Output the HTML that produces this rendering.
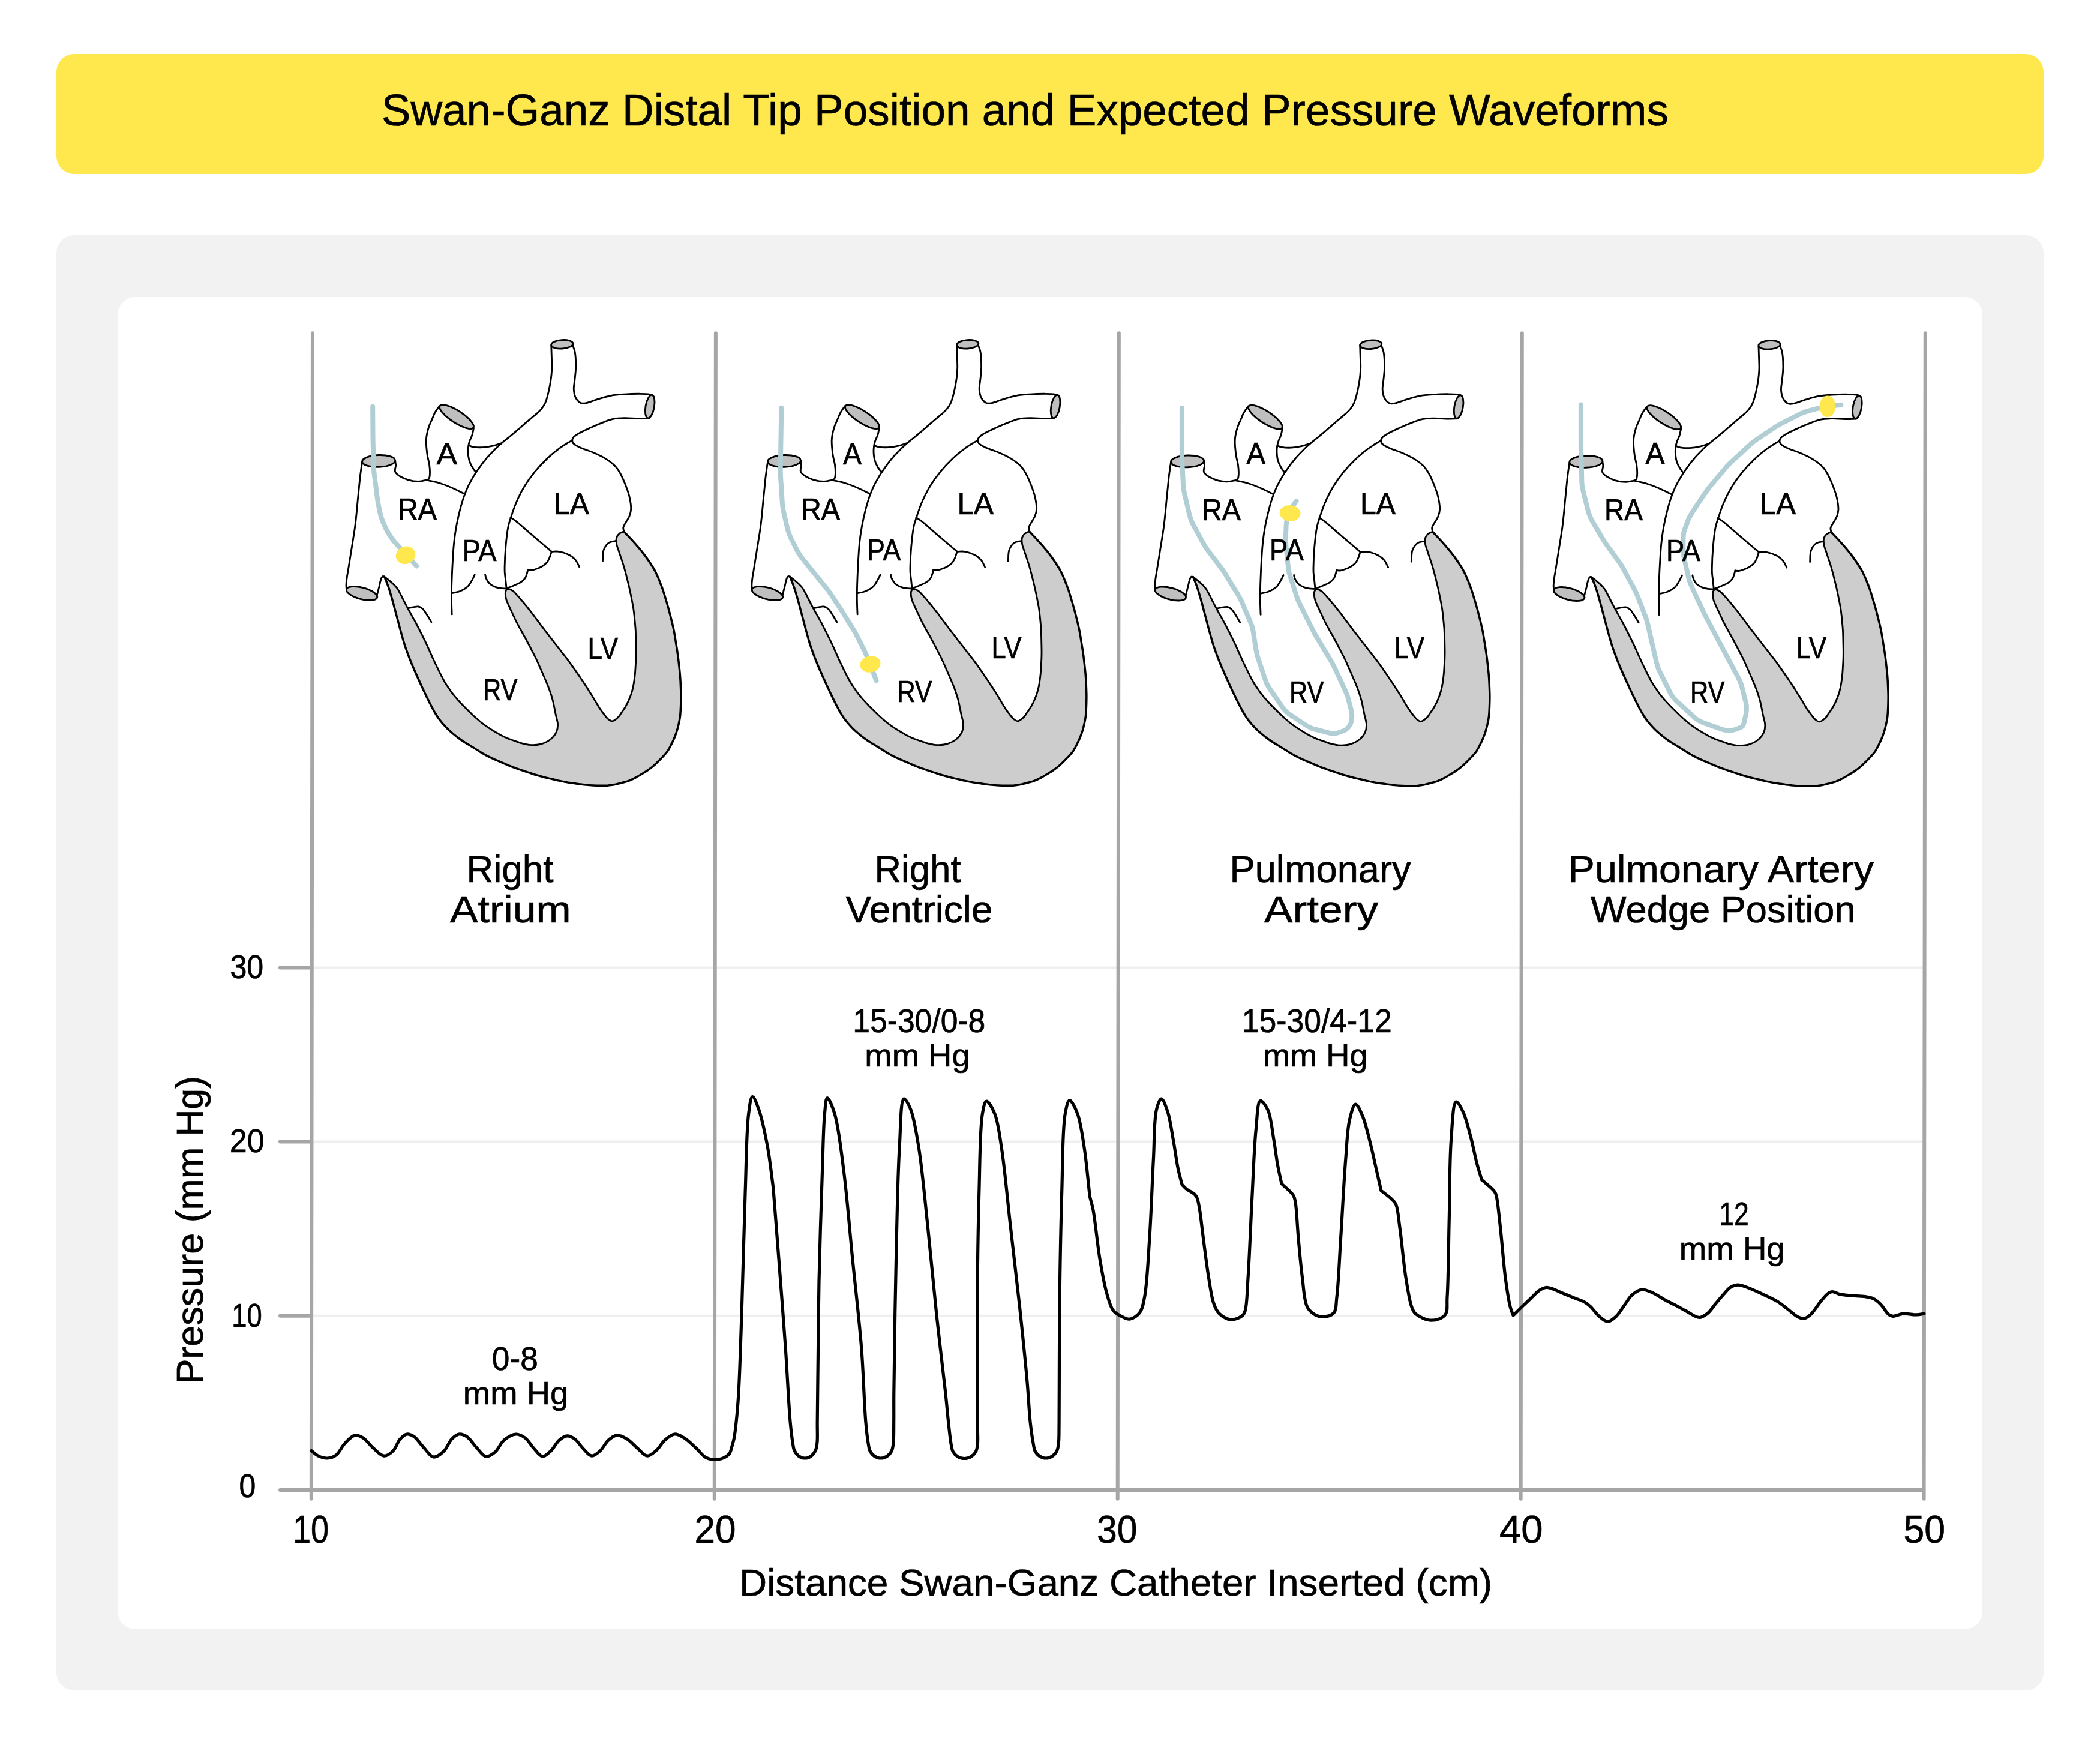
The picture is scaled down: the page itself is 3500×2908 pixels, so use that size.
<!DOCTYPE html>
<html><head><meta charset="utf-8"><title>Swan-Ganz Distal Tip Position and Expected Pressure Waveforms</title>
<style>html,body{margin:0;padding:0;background:#fff;}body{width:3500px;height:2908px;overflow:hidden;}svg{display:block;will-change:transform;}svg text{font-family:'Liberation Sans', 'DejaVu Sans', Arial, sans-serif;fill:#000;stroke:#000;stroke-width:0.7px;}.hl{fill:none;stroke:#000;stroke-width:2.85;stroke-linecap:round;stroke-linejoin:round;}.ho{fill:none;stroke:#000;stroke-width:3.5;stroke-linecap:round;stroke-linejoin:round;}.he{fill:#bfbfbf;stroke:#000;stroke-width:2.85;}.cath{fill:none;stroke:#b0ced4;stroke-width:8;stroke-linecap:round;stroke-linejoin:round;}</style></head><body>
<svg xmlns="http://www.w3.org/2000/svg" width="3500" height="2908" viewBox="0 0 3500 2908">
<rect x="0" y="0" width="3500" height="2908" fill="#ffffff"/>
<rect x="94" y="90" width="3312" height="200" rx="30" ry="30" fill="#ffe84d"/>
<rect x="94" y="392" width="3312" height="2425" rx="30" ry="30" fill="#f2f2f2"/>
<rect x="196" y="495" width="3108" height="2220" rx="30" ry="30" fill="#ffffff"/>
<line x1="518.8" y1="2192.8" x2="3206.6" y2="2192.8" stroke="#efefef" stroke-width="4"/>
<line x1="518.8" y1="1902.6" x2="3206.6" y2="1902.6" stroke="#efefef" stroke-width="4"/>
<line x1="518.8" y1="1612.4" x2="3206.6" y2="1612.4" stroke="#efefef" stroke-width="4"/>
<g transform="translate(0.0 0.0)">
<path d="M640.60 961.20 C642.13 964.91 643.77 968.58 645.20 972.33 C646.63 976.07 647.95 979.85 649.18 983.67 C650.40 987.49 651.46 991.36 652.56 995.22 C653.66 999.08 654.72 1002.95 655.78 1006.83 C656.84 1010.70 657.87 1014.58 658.91 1018.46 C659.94 1022.33 660.97 1026.21 662.00 1030.09 C663.03 1033.97 664.05 1037.86 665.08 1041.74 C666.12 1045.62 667.14 1049.50 668.21 1053.37 C669.28 1057.24 670.36 1061.10 671.49 1064.95 C672.62 1068.80 673.74 1072.66 674.99 1076.47 C676.24 1080.28 677.62 1084.05 678.99 1087.82 C680.37 1091.59 681.78 1095.35 683.25 1099.09 C684.71 1102.82 686.23 1106.54 687.78 1110.24 C689.34 1113.94 690.98 1117.60 692.60 1121.28 C694.22 1124.95 695.84 1128.62 697.50 1132.28 C699.15 1135.94 700.84 1139.58 702.53 1143.22 C704.22 1146.86 705.91 1150.50 707.63 1154.13 C709.36 1157.75 711.11 1161.37 712.88 1164.97 C714.66 1168.57 716.42 1172.17 718.28 1175.73 C720.13 1179.29 722.00 1182.84 724.02 1186.31 C726.03 1189.77 728.08 1193.23 730.37 1196.50 C732.66 1199.77 735.18 1202.90 737.78 1205.93 C740.38 1208.97 743.12 1211.91 745.98 1214.72 C748.83 1217.52 751.85 1220.17 754.90 1222.76 C757.96 1225.34 761.10 1227.86 764.33 1230.23 C767.56 1232.60 770.92 1234.78 774.28 1236.96 C777.65 1239.14 781.12 1241.17 784.53 1243.28 C787.95 1245.39 791.36 1247.51 794.77 1249.62 C798.19 1251.73 801.55 1253.93 805.02 1255.93 C808.49 1257.93 812.00 1259.87 815.59 1261.64 C819.18 1263.42 822.90 1264.95 826.57 1266.57 C830.24 1268.19 833.93 1269.78 837.61 1271.36 C841.30 1272.95 844.97 1274.59 848.69 1276.09 C852.40 1277.60 856.15 1279.04 859.92 1280.40 C863.69 1281.77 867.51 1283.00 871.32 1284.28 C875.12 1285.57 878.93 1286.85 882.74 1288.10 C886.55 1289.35 890.35 1290.65 894.20 1291.79 C898.04 1292.93 901.92 1293.96 905.81 1294.96 C909.69 1295.96 913.61 1296.86 917.51 1297.79 C921.41 1298.73 925.31 1299.70 929.22 1300.59 C933.14 1301.49 937.04 1302.41 940.98 1303.15 C944.92 1303.89 948.90 1304.45 952.87 1305.03 C956.84 1305.61 960.82 1306.12 964.80 1306.64 C968.78 1307.15 972.76 1307.74 976.75 1308.13 C980.73 1308.53 984.73 1308.81 988.74 1309.00 C992.74 1309.19 996.76 1309.24 1000.77 1309.26 C1004.78 1309.28 1008.80 1309.44 1012.78 1309.15 C1016.75 1308.85 1020.70 1308.23 1024.61 1307.49 C1028.54 1306.74 1032.44 1305.70 1036.31 1304.69 C1040.18 1303.68 1044.12 1302.80 1047.85 1301.42 C1051.57 1300.04 1055.14 1298.27 1058.66 1296.42 C1062.20 1294.57 1065.58 1292.37 1069.01 1290.29 C1072.44 1288.21 1075.94 1286.22 1079.24 1283.96 C1082.53 1281.71 1085.75 1279.34 1088.78 1276.76 C1091.82 1274.17 1094.60 1271.25 1097.45 1268.44 C1100.31 1265.63 1103.24 1262.85 1105.91 1259.88 C1108.56 1256.92 1111.22 1253.94 1113.42 1250.66 C1115.62 1247.37 1117.33 1243.72 1119.12 1240.16 C1120.91 1236.58 1122.64 1232.94 1124.15 1229.24 C1125.67 1225.54 1127.03 1221.77 1128.21 1217.96 C1129.39 1214.13 1130.36 1210.23 1131.23 1206.32 C1132.11 1202.42 1132.93 1198.50 1133.45 1194.54 C1133.97 1190.58 1134.12 1186.56 1134.34 1182.56 C1134.57 1178.56 1134.72 1174.54 1134.82 1170.53 C1134.92 1166.52 1134.99 1162.51 1134.95 1158.50 C1134.91 1154.49 1134.72 1150.47 1134.57 1146.46 C1134.42 1142.45 1134.27 1138.44 1134.04 1134.43 C1133.81 1130.43 1133.53 1126.43 1133.17 1122.43 C1132.82 1118.43 1132.35 1114.44 1131.92 1110.45 C1131.49 1106.46 1131.06 1102.47 1130.57 1098.49 C1130.08 1094.50 1129.54 1090.53 1128.97 1086.55 C1128.39 1082.58 1127.73 1078.62 1127.10 1074.66 C1126.47 1070.69 1125.85 1066.73 1125.19 1062.77 C1124.52 1058.81 1123.90 1054.84 1123.11 1050.91 C1122.33 1046.98 1121.42 1043.07 1120.49 1039.16 C1119.57 1035.26 1118.58 1031.37 1117.59 1027.48 C1116.60 1023.59 1115.63 1019.69 1114.57 1015.82 C1113.52 1011.95 1112.39 1008.10 1111.26 1004.24 C1110.13 1000.39 1108.99 996.54 1107.81 992.71 C1106.62 988.87 1105.46 985.03 1104.14 981.25 C1102.81 977.46 1101.34 973.73 1099.85 970.00 C1098.36 966.28 1096.89 962.53 1095.22 958.89 C1093.56 955.26 1091.81 951.65 1089.84 948.18 C1087.87 944.70 1085.59 941.39 1083.38 938.04 C1081.17 934.70 1078.94 931.35 1076.59 928.11 C1074.23 924.87 1071.75 921.71 1069.24 918.58 C1066.73 915.46 1064.14 912.39 1061.52 909.35 C1058.89 906.32 1056.22 903.33 1053.50 900.37 C1050.79 897.41 1047.72 894.23 1045.24 891.61 C1043.21 889.48 1041.55 887.74 1039.70 885.80 L1039.70 885.80 C1037.10 887.03 1033.94 887.72 1031.90 889.50 C1029.95 891.20 1028.36 893.53 1027.60 896.10 C1026.73 899.04 1027.05 902.76 1027.60 906.40 C1028.26 910.71 1030.49 915.82 1031.90 920.20 C1033.19 924.19 1034.45 927.80 1035.70 931.61 C1036.96 935.42 1038.27 939.21 1039.42 943.05 C1040.58 946.89 1041.62 950.76 1042.65 954.63 C1043.68 958.51 1044.62 962.40 1045.59 966.30 C1046.55 970.19 1047.55 974.07 1048.45 977.98 C1049.35 981.88 1050.17 985.81 1050.99 989.73 C1051.80 993.66 1052.59 997.59 1053.36 1001.53 C1054.12 1005.46 1054.93 1009.39 1055.55 1013.35 C1056.16 1017.31 1056.59 1021.29 1057.04 1025.27 C1057.48 1029.26 1057.86 1033.25 1058.22 1037.25 C1058.59 1041.24 1058.99 1045.23 1059.23 1049.23 C1059.46 1053.23 1059.54 1057.24 1059.65 1061.24 C1059.76 1065.25 1059.83 1069.26 1059.91 1073.27 C1059.98 1077.28 1060.12 1081.29 1060.13 1085.30 C1060.13 1089.30 1060.08 1093.31 1059.94 1097.32 C1059.80 1101.32 1059.52 1105.32 1059.28 1109.33 C1059.04 1113.33 1058.86 1117.34 1058.51 1121.33 C1058.16 1125.32 1057.72 1129.30 1057.16 1133.26 C1056.60 1137.23 1056.00 1141.21 1055.14 1145.11 C1054.29 1149.00 1053.29 1152.88 1052.03 1156.66 C1050.77 1160.44 1049.22 1164.17 1047.56 1167.80 C1045.91 1171.43 1044.15 1175.02 1042.11 1178.44 C1040.07 1181.87 1037.40 1185.41 1035.34 1188.36 C1033.66 1190.77 1032.80 1192.87 1030.70 1194.90 C1028.09 1197.43 1023.37 1201.56 1020.30 1201.80 C1018.05 1201.98 1016.45 1200.76 1014.20 1199.00 C1009.91 1195.63 1002.83 1185.34 999.00 1179.80 C996.30 1175.90 994.83 1172.84 992.74 1169.37 C990.65 1165.90 988.58 1162.41 986.46 1158.96 C984.33 1155.51 982.18 1152.07 979.99 1148.66 C977.80 1145.25 975.55 1141.87 973.31 1138.50 C971.06 1135.12 968.81 1131.75 966.53 1128.40 C964.24 1125.05 961.94 1121.71 959.63 1118.38 C957.31 1115.05 955.01 1111.72 952.65 1108.42 C950.29 1105.13 947.92 1101.84 945.48 1098.60 C943.03 1095.37 940.50 1092.21 937.99 1089.02 C935.49 1085.83 932.96 1082.67 930.46 1079.47 C927.96 1076.28 925.48 1073.07 923.00 1069.86 C920.52 1066.65 918.05 1063.44 915.58 1060.23 C913.11 1057.01 910.63 1053.81 908.16 1050.59 C905.70 1047.36 903.25 1044.14 900.81 1040.90 C898.37 1037.66 895.96 1034.40 893.53 1031.15 C891.10 1027.91 888.68 1024.65 886.21 1021.44 C883.74 1018.23 881.24 1015.03 878.70 1011.88 C876.15 1008.72 873.56 1005.60 870.95 1002.51 C868.33 999.41 865.76 996.27 863.00 993.30 C860.24 990.33 857.12 986.68 854.40 984.70 C852.42 983.27 850.37 982.20 848.70 981.80 C847.52 981.52 846.43 981.32 845.50 981.80 C844.35 982.40 843.23 984.26 842.70 985.80 C842.12 987.48 842.25 989.49 842.40 991.60 C842.59 994.20 843.17 997.20 844.10 1000.20 C845.20 1003.75 847.26 1007.70 848.92 1011.42 C850.59 1015.13 852.36 1018.80 854.08 1022.48 C855.81 1026.17 857.49 1029.88 859.29 1033.53 C861.09 1037.18 862.98 1040.78 864.91 1044.36 C866.84 1047.95 868.88 1051.47 870.86 1055.03 C872.84 1058.58 874.85 1062.13 876.79 1065.71 C878.72 1069.29 880.60 1072.90 882.49 1076.51 C884.37 1080.12 886.25 1083.73 888.10 1087.35 C889.96 1090.98 891.85 1094.58 893.61 1098.25 C895.37 1101.92 897.02 1105.64 898.67 1109.36 C900.33 1113.08 901.93 1116.82 903.56 1120.55 C905.18 1124.29 906.84 1128.01 908.44 1131.75 C910.05 1135.49 911.70 1139.21 913.19 1142.99 C914.68 1146.78 916.07 1150.61 917.37 1154.46 C918.66 1158.31 919.92 1162.19 920.96 1166.11 C922.00 1170.04 922.76 1174.04 923.60 1178.02 C924.44 1182.01 925.11 1185.64 926.00 1190.00 C927.07 1195.24 929.50 1202.00 929.60 1207.30 C929.68 1211.77 929.23 1215.78 927.50 1219.70 C925.58 1224.07 922.08 1228.65 917.90 1232.00 C913.18 1235.78 906.13 1238.96 900.00 1240.50 C894.15 1241.97 887.53 1241.83 882.00 1241.40 C877.18 1241.02 872.84 1239.78 868.60 1238.60 C864.62 1237.49 861.03 1235.97 857.26 1234.63 C853.48 1233.30 849.65 1232.10 845.95 1230.58 C842.27 1229.06 838.64 1227.38 835.12 1225.53 C831.58 1223.67 828.20 1221.50 824.77 1219.44 C821.34 1217.38 817.87 1215.36 814.53 1213.15 C811.19 1210.95 807.90 1208.66 804.73 1206.23 C801.56 1203.79 798.53 1201.17 795.51 1198.54 C792.50 1195.91 789.57 1193.17 786.66 1190.42 C783.75 1187.67 780.89 1184.86 778.05 1182.04 C775.21 1179.22 772.37 1176.39 769.61 1173.49 C766.85 1170.59 764.12 1167.65 761.49 1164.63 C758.86 1161.62 756.25 1158.58 753.82 1155.41 C751.39 1152.23 749.15 1148.90 746.93 1145.58 C744.71 1142.25 742.50 1138.90 740.50 1135.44 C738.49 1131.98 736.73 1128.39 734.90 1124.82 C733.08 1121.26 731.32 1117.66 729.55 1114.06 C727.79 1110.46 726.02 1106.87 724.32 1103.25 C722.61 1099.62 720.98 1095.96 719.32 1092.32 C717.67 1088.67 716.04 1085.01 714.38 1081.36 C712.72 1077.71 711.08 1074.06 709.36 1070.44 C707.64 1066.83 705.84 1063.25 704.06 1059.66 C702.28 1056.07 700.49 1052.49 698.67 1048.92 C696.85 1045.35 695.04 1041.77 693.15 1038.24 C691.26 1034.71 689.27 1031.23 687.33 1027.73 C685.38 1024.23 683.39 1020.76 681.46 1017.24 C679.54 1013.73 677.65 1010.20 675.79 1006.65 C673.93 1003.10 671.94 999.16 670.31 995.95 C668.98 993.33 668.03 991.25 666.70 988.80 C665.25 986.12 663.69 982.98 661.90 980.50 C660.23 978.19 658.40 976.31 656.40 974.30 C654.29 972.17 651.99 970.18 649.50 968.10 C646.76 965.81 643.57 963.50 640.60 961.20 Z" fill="#cdcdcd" stroke="none"/>
<path d="M640.60 961.20 C642.13 964.91 643.77 968.58 645.20 972.33 C646.63 976.07 647.95 979.85 649.18 983.67 C650.40 987.49 651.46 991.36 652.56 995.22 C653.66 999.08 654.72 1002.95 655.78 1006.83 C656.84 1010.70 657.87 1014.58 658.91 1018.46 C659.94 1022.33 660.97 1026.21 662.00 1030.09 C663.03 1033.97 664.05 1037.86 665.08 1041.74 C666.12 1045.62 667.14 1049.50 668.21 1053.37 C669.28 1057.24 670.36 1061.10 671.49 1064.95 C672.62 1068.80 673.74 1072.66 674.99 1076.47 C676.24 1080.28 677.62 1084.05 678.99 1087.82 C680.37 1091.59 681.78 1095.35 683.25 1099.09 C684.71 1102.82 686.23 1106.54 687.78 1110.24 C689.34 1113.94 690.98 1117.60 692.60 1121.28 C694.22 1124.95 695.84 1128.62 697.50 1132.28 C699.15 1135.94 700.84 1139.58 702.53 1143.22 C704.22 1146.86 705.91 1150.50 707.63 1154.13 C709.36 1157.75 711.11 1161.37 712.88 1164.97 C714.66 1168.57 716.42 1172.17 718.28 1175.73 C720.13 1179.29 722.00 1182.84 724.02 1186.31 C726.03 1189.77 728.08 1193.23 730.37 1196.50 C732.66 1199.77 735.18 1202.90 737.78 1205.93 C740.38 1208.97 743.12 1211.91 745.98 1214.72 C748.83 1217.52 751.85 1220.17 754.90 1222.76 C757.96 1225.34 761.10 1227.86 764.33 1230.23 C767.56 1232.60 770.92 1234.78 774.28 1236.96 C777.65 1239.14 781.12 1241.17 784.53 1243.28 C787.95 1245.39 791.36 1247.51 794.77 1249.62 C798.19 1251.73 801.55 1253.93 805.02 1255.93 C808.49 1257.93 812.00 1259.87 815.59 1261.64 C819.18 1263.42 822.90 1264.95 826.57 1266.57 C830.24 1268.19 833.93 1269.78 837.61 1271.36 C841.30 1272.95 844.97 1274.59 848.69 1276.09 C852.40 1277.60 856.15 1279.04 859.92 1280.40 C863.69 1281.77 867.51 1283.00 871.32 1284.28 C875.12 1285.57 878.93 1286.85 882.74 1288.10 C886.55 1289.35 890.35 1290.65 894.20 1291.79 C898.04 1292.93 901.92 1293.96 905.81 1294.96 C909.69 1295.96 913.61 1296.86 917.51 1297.79 C921.41 1298.73 925.31 1299.70 929.22 1300.59 C933.14 1301.49 937.04 1302.41 940.98 1303.15 C944.92 1303.89 948.90 1304.45 952.87 1305.03 C956.84 1305.61 960.82 1306.12 964.80 1306.64 C968.78 1307.15 972.76 1307.74 976.75 1308.13 C980.73 1308.53 984.73 1308.81 988.74 1309.00 C992.74 1309.19 996.76 1309.24 1000.77 1309.26 C1004.78 1309.28 1008.80 1309.44 1012.78 1309.15 C1016.75 1308.85 1020.70 1308.23 1024.61 1307.49 C1028.54 1306.74 1032.44 1305.70 1036.31 1304.69 C1040.18 1303.68 1044.12 1302.80 1047.85 1301.42 C1051.57 1300.04 1055.14 1298.27 1058.66 1296.42 C1062.20 1294.57 1065.58 1292.37 1069.01 1290.29 C1072.44 1288.21 1075.94 1286.22 1079.24 1283.96 C1082.53 1281.71 1085.75 1279.34 1088.78 1276.76 C1091.82 1274.17 1094.60 1271.25 1097.45 1268.44 C1100.31 1265.63 1103.24 1262.85 1105.91 1259.88 C1108.56 1256.92 1111.22 1253.94 1113.42 1250.66 C1115.62 1247.37 1117.33 1243.72 1119.12 1240.16 C1120.91 1236.58 1122.64 1232.94 1124.15 1229.24 C1125.67 1225.54 1127.03 1221.77 1128.21 1217.96 C1129.39 1214.13 1130.36 1210.23 1131.23 1206.32 C1132.11 1202.42 1132.93 1198.50 1133.45 1194.54 C1133.97 1190.58 1134.12 1186.56 1134.34 1182.56 C1134.57 1178.56 1134.72 1174.54 1134.82 1170.53 C1134.92 1166.52 1134.99 1162.51 1134.95 1158.50 C1134.91 1154.49 1134.72 1150.47 1134.57 1146.46 C1134.42 1142.45 1134.27 1138.44 1134.04 1134.43 C1133.81 1130.43 1133.53 1126.43 1133.17 1122.43 C1132.82 1118.43 1132.35 1114.44 1131.92 1110.45 C1131.49 1106.46 1131.06 1102.47 1130.57 1098.49 C1130.08 1094.50 1129.54 1090.53 1128.97 1086.55 C1128.39 1082.58 1127.73 1078.62 1127.10 1074.66 C1126.47 1070.69 1125.85 1066.73 1125.19 1062.77 C1124.52 1058.81 1123.90 1054.84 1123.11 1050.91 C1122.33 1046.98 1121.42 1043.07 1120.49 1039.16 C1119.57 1035.26 1118.58 1031.37 1117.59 1027.48 C1116.60 1023.59 1115.63 1019.69 1114.57 1015.82 C1113.52 1011.95 1112.39 1008.10 1111.26 1004.24 C1110.13 1000.39 1108.99 996.54 1107.81 992.71 C1106.62 988.87 1105.46 985.03 1104.14 981.25 C1102.81 977.46 1101.34 973.73 1099.85 970.00 C1098.36 966.28 1096.89 962.53 1095.22 958.89 C1093.56 955.26 1091.81 951.65 1089.84 948.18 C1087.87 944.70 1085.59 941.39 1083.38 938.04 C1081.17 934.70 1078.94 931.35 1076.59 928.11 C1074.23 924.87 1071.75 921.71 1069.24 918.58 C1066.73 915.46 1064.14 912.39 1061.52 909.35 C1058.89 906.32 1056.22 903.33 1053.50 900.37 C1050.79 897.41 1047.72 894.23 1045.24 891.61 C1043.21 889.48 1041.55 887.74 1039.70 885.80" class="ho"/>
<path d="M1039.70 885.80 C1037.10 887.03 1033.94 887.72 1031.90 889.50 C1029.95 891.20 1028.36 893.53 1027.60 896.10 C1026.73 899.04 1027.05 902.76 1027.60 906.40 C1028.26 910.71 1030.49 915.82 1031.90 920.20 C1033.19 924.19 1034.45 927.80 1035.70 931.61 C1036.96 935.42 1038.27 939.21 1039.42 943.05 C1040.58 946.89 1041.62 950.76 1042.65 954.63 C1043.68 958.51 1044.62 962.40 1045.59 966.30 C1046.55 970.19 1047.55 974.07 1048.45 977.98 C1049.35 981.88 1050.17 985.81 1050.99 989.73 C1051.80 993.66 1052.59 997.59 1053.36 1001.53 C1054.12 1005.46 1054.93 1009.39 1055.55 1013.35 C1056.16 1017.31 1056.59 1021.29 1057.04 1025.27 C1057.48 1029.26 1057.86 1033.25 1058.22 1037.25 C1058.59 1041.24 1058.99 1045.23 1059.23 1049.23 C1059.46 1053.23 1059.54 1057.24 1059.65 1061.24 C1059.76 1065.25 1059.83 1069.26 1059.91 1073.27 C1059.98 1077.28 1060.12 1081.29 1060.13 1085.30 C1060.13 1089.30 1060.08 1093.31 1059.94 1097.32 C1059.80 1101.32 1059.52 1105.32 1059.28 1109.33 C1059.04 1113.33 1058.86 1117.34 1058.51 1121.33 C1058.16 1125.32 1057.72 1129.30 1057.16 1133.26 C1056.60 1137.23 1056.00 1141.21 1055.14 1145.11 C1054.29 1149.00 1053.29 1152.88 1052.03 1156.66 C1050.77 1160.44 1049.22 1164.17 1047.56 1167.80 C1045.91 1171.43 1044.15 1175.02 1042.11 1178.44 C1040.07 1181.87 1037.40 1185.41 1035.34 1188.36 C1033.66 1190.77 1032.80 1192.87 1030.70 1194.90 C1028.09 1197.43 1023.37 1201.56 1020.30 1201.80 C1018.05 1201.98 1016.45 1200.76 1014.20 1199.00 C1009.91 1195.63 1002.83 1185.34 999.00 1179.80 C996.30 1175.90 994.83 1172.84 992.74 1169.37 C990.65 1165.90 988.58 1162.41 986.46 1158.96 C984.33 1155.51 982.18 1152.07 979.99 1148.66 C977.80 1145.25 975.55 1141.87 973.31 1138.50 C971.06 1135.12 968.81 1131.75 966.53 1128.40 C964.24 1125.05 961.94 1121.71 959.63 1118.38 C957.31 1115.05 955.01 1111.72 952.65 1108.42 C950.29 1105.13 947.92 1101.84 945.48 1098.60 C943.03 1095.37 940.50 1092.21 937.99 1089.02 C935.49 1085.83 932.96 1082.67 930.46 1079.47 C927.96 1076.28 925.48 1073.07 923.00 1069.86 C920.52 1066.65 918.05 1063.44 915.58 1060.23 C913.11 1057.01 910.63 1053.81 908.16 1050.59 C905.70 1047.36 903.25 1044.14 900.81 1040.90 C898.37 1037.66 895.96 1034.40 893.53 1031.15 C891.10 1027.91 888.68 1024.65 886.21 1021.44 C883.74 1018.23 881.24 1015.03 878.70 1011.88 C876.15 1008.72 873.56 1005.60 870.95 1002.51 C868.33 999.41 865.76 996.27 863.00 993.30 C860.24 990.33 857.12 986.68 854.40 984.70 C852.42 983.27 850.37 982.20 848.70 981.80 C847.52 981.52 846.43 981.32 845.50 981.80 C844.35 982.40 843.23 984.26 842.70 985.80 C842.12 987.48 842.25 989.49 842.40 991.60 C842.59 994.20 843.17 997.20 844.10 1000.20 C845.20 1003.75 847.26 1007.70 848.92 1011.42 C850.59 1015.13 852.36 1018.80 854.08 1022.48 C855.81 1026.17 857.49 1029.88 859.29 1033.53 C861.09 1037.18 862.98 1040.78 864.91 1044.36 C866.84 1047.95 868.88 1051.47 870.86 1055.03 C872.84 1058.58 874.85 1062.13 876.79 1065.71 C878.72 1069.29 880.60 1072.90 882.49 1076.51 C884.37 1080.12 886.25 1083.73 888.10 1087.35 C889.96 1090.98 891.85 1094.58 893.61 1098.25 C895.37 1101.92 897.02 1105.64 898.67 1109.36 C900.33 1113.08 901.93 1116.82 903.56 1120.55 C905.18 1124.29 906.84 1128.01 908.44 1131.75 C910.05 1135.49 911.70 1139.21 913.19 1142.99 C914.68 1146.78 916.07 1150.61 917.37 1154.46 C918.66 1158.31 919.92 1162.19 920.96 1166.11 C922.00 1170.04 922.76 1174.04 923.60 1178.02 C924.44 1182.01 925.11 1185.64 926.00 1190.00 C927.07 1195.24 929.50 1202.00 929.60 1207.30 C929.68 1211.77 929.23 1215.78 927.50 1219.70 C925.58 1224.07 922.08 1228.65 917.90 1232.00 C913.18 1235.78 906.13 1238.96 900.00 1240.50 C894.15 1241.97 887.53 1241.83 882.00 1241.40 C877.18 1241.02 872.84 1239.78 868.60 1238.60 C864.62 1237.49 861.03 1235.97 857.26 1234.63 C853.48 1233.30 849.65 1232.10 845.95 1230.58 C842.27 1229.06 838.64 1227.38 835.12 1225.53 C831.58 1223.67 828.20 1221.50 824.77 1219.44 C821.34 1217.38 817.87 1215.36 814.53 1213.15 C811.19 1210.95 807.90 1208.66 804.73 1206.23 C801.56 1203.79 798.53 1201.17 795.51 1198.54 C792.50 1195.91 789.57 1193.17 786.66 1190.42 C783.75 1187.67 780.89 1184.86 778.05 1182.04 C775.21 1179.22 772.37 1176.39 769.61 1173.49 C766.85 1170.59 764.12 1167.65 761.49 1164.63 C758.86 1161.62 756.25 1158.58 753.82 1155.41 C751.39 1152.23 749.15 1148.90 746.93 1145.58 C744.71 1142.25 742.50 1138.90 740.50 1135.44 C738.49 1131.98 736.73 1128.39 734.90 1124.82 C733.08 1121.26 731.32 1117.66 729.55 1114.06 C727.79 1110.46 726.02 1106.87 724.32 1103.25 C722.61 1099.62 720.98 1095.96 719.32 1092.32 C717.67 1088.67 716.04 1085.01 714.38 1081.36 C712.72 1077.71 711.08 1074.06 709.36 1070.44 C707.64 1066.83 705.84 1063.25 704.06 1059.66 C702.28 1056.07 700.49 1052.49 698.67 1048.92 C696.85 1045.35 695.04 1041.77 693.15 1038.24 C691.26 1034.71 689.27 1031.23 687.33 1027.73 C685.38 1024.23 683.39 1020.76 681.46 1017.24 C679.54 1013.73 677.65 1010.20 675.79 1006.65 C673.93 1003.10 671.94 999.16 670.31 995.95 C668.98 993.33 668.03 991.25 666.70 988.80 C665.25 986.12 663.69 982.98 661.90 980.50 C660.23 978.19 658.40 976.31 656.40 974.30 C654.29 972.17 651.99 970.18 649.50 968.10 C646.76 965.81 643.57 963.50 640.60 961.20" class="hl"/>
<path d="M603.60 770.00 C603.02 774.01 602.41 778.02 601.85 782.04 C601.29 786.05 600.72 790.07 600.24 794.09 C599.77 798.12 599.39 802.16 598.98 806.19 C598.57 810.23 598.17 814.26 597.77 818.30 C597.37 822.33 596.96 826.37 596.56 830.40 C596.17 834.44 595.79 838.47 595.41 842.51 C595.03 846.55 594.68 850.59 594.29 854.62 C593.89 858.66 593.47 862.69 593.02 866.72 C592.57 870.75 592.11 874.78 591.57 878.80 C591.03 882.82 590.39 886.82 589.77 890.83 C589.15 894.83 588.49 898.84 587.85 902.84 C587.21 906.84 586.56 910.85 585.92 914.85 C585.28 918.86 584.64 922.86 584.00 926.86 C583.36 930.87 582.73 934.87 582.09 938.88 C581.45 942.88 580.81 946.89 580.15 950.89 C579.49 954.89 578.67 958.87 578.15 962.88 C577.63 966.89 577.10 971.33 577.03 974.94 C576.98 977.90 577.34 980.31 577.50 983.00" class="hl"/>
<path d="M658.80 769.00 C659.07 771.27 659.66 773.47 659.60 775.80 C659.54 778.29 658.29 781.45 658.30 783.50 C658.31 784.86 658.23 785.69 658.90 786.90 C660.06 788.99 663.47 791.79 666.60 793.80 C670.36 796.22 675.37 798.38 680.30 799.80 C685.61 801.34 692.49 802.43 697.50 802.40 C701.40 802.38 704.84 801.53 707.90 800.70 C710.45 800.01 713.28 799.75 714.70 798.10 C716.18 796.38 716.15 793.43 716.40 790.40 C716.75 786.15 716.27 780.18 715.60 774.90 C714.89 769.29 712.95 764.04 712.10 757.70 C711.07 750.00 709.85 739.91 710.40 731.90 C710.89 724.80 712.68 717.85 714.50 712.00 C716.02 707.12 718.20 703.20 720.00 699.00 C721.70 695.04 722.96 691.20 725.00 687.50 C727.10 683.69 730.00 680.17 732.50 676.50" class="hl"/>
<path d="M711.30 800.20 C718.17 801.80 725.09 802.95 731.90 805.00 C738.86 807.10 745.71 809.77 752.60 812.70 C759.74 815.74 766.87 819.57 774.00 823.00" class="hl"/>
<path d="M789.50 713.50 C788.63 717.33 788.07 721.31 786.90 725.00 C785.76 728.60 783.63 732.27 782.60 735.40 C781.78 737.87 781.31 739.67 780.90 742.20 C780.40 745.28 780.01 748.90 780.10 752.60 C780.20 756.86 780.63 761.96 781.80 766.30 C782.93 770.52 784.90 774.73 786.90 778.30 C788.69 781.51 790.97 784.03 793.00 786.90" class="hl"/>
<path d="M781.20 742.50 C783.70 743.27 785.72 744.26 788.70 744.80 C792.88 745.55 798.84 745.94 804.10 745.70 C809.69 745.44 815.93 744.34 821.30 743.10 C826.20 741.97 830.50 740.23 835.10 738.80" class="hl"/>
<path d="M753.20 1023.90 C753.04 1019.89 752.86 1015.88 752.73 1011.87 C752.61 1007.87 752.49 1003.86 752.45 999.85 C752.40 995.84 752.41 991.82 752.45 987.81 C752.49 983.80 752.59 979.79 752.69 975.78 C752.80 971.77 752.94 967.76 753.10 963.75 C753.25 959.75 753.42 955.74 753.61 951.73 C753.80 947.72 754.00 943.72 754.21 939.71 C754.43 935.71 754.66 931.70 754.91 927.70 C755.15 923.69 755.38 919.69 755.70 915.69 C756.01 911.69 756.37 907.70 756.80 903.71 C757.22 899.72 757.69 895.74 758.24 891.76 C758.79 887.79 759.40 883.83 760.10 879.88 C760.79 875.94 761.59 872.00 762.41 868.08 C763.23 864.15 764.09 860.23 765.03 856.33 C765.96 852.43 766.95 848.55 768.01 844.68 C769.07 840.81 770.16 836.95 771.39 833.14 C772.63 829.33 773.97 825.55 775.42 821.81 C776.87 818.08 778.37 814.37 780.08 810.75 C781.80 807.14 783.74 803.63 785.70 800.13 C787.65 796.64 789.66 793.16 791.81 789.78 C793.97 786.41 796.29 783.14 798.62 779.88 C800.94 776.61 803.30 773.36 805.76 770.20 C808.22 767.05 810.73 763.92 813.38 760.93 C816.04 757.93 818.90 755.11 821.71 752.26 C824.52 749.40 827.33 746.53 830.25 743.79 C833.18 741.06 836.18 738.41 839.25 735.84 C842.32 733.28 845.57 730.91 848.69 728.39 C851.80 725.86 854.88 723.30 857.94 720.70 C860.99 718.10 863.99 715.44 867.01 712.80 C870.03 710.15 873.02 707.47 876.05 704.85 C879.08 702.22 882.14 699.63 885.21 697.04 C888.27 694.46 891.50 692.06 894.45 689.36 C897.39 686.68 900.45 684.02 902.87 680.92 C905.28 677.85 907.32 674.41 908.95 670.86 C910.59 667.28 911.57 663.34 912.65 659.50 C913.72 655.65 914.57 651.72 915.39 647.80 C916.21 643.88 916.95 639.93 917.57 635.97 C918.18 632.02 918.72 628.03 919.09 624.05 C919.47 620.07 919.74 616.07 919.82 612.07 C919.90 608.07 919.67 604.06 919.55 600.06 C919.44 596.05 919.26 592.04 919.14 588.03 C919.01 584.02 918.91 580.01 918.80 576.00" class="hl"/>
<path d="M953.70 573.50 C955.13 577.60 956.99 580.87 958.00 585.80 C959.42 592.75 959.77 603.49 959.70 611.60 C959.64 618.86 958.59 625.65 958.00 632.20 C957.46 638.19 955.91 644.01 956.30 649.40 C956.65 654.28 957.54 659.39 959.70 663.20 C961.69 666.71 965.14 670.40 968.30 671.70 C970.96 672.79 973.47 672.25 976.90 671.70 C982.35 670.82 990.59 666.96 997.50 664.90 C1004.36 662.86 1011.12 660.70 1018.20 659.40 C1025.44 658.07 1032.79 657.62 1040.50 657.10 C1048.78 656.55 1059.05 656.28 1066.30 656.30 C1071.58 656.31 1076.21 656.28 1080.00 656.80 C1082.74 657.18 1085.34 657.57 1087.00 658.50 C1088.16 659.15 1088.67 660.17 1089.50 661.00" class="hl"/>
<path d="M1081.50 697.20 C1075.30 697.30 1069.39 697.56 1062.90 697.50 C1055.78 697.43 1047.64 696.51 1040.50 696.70 C1033.93 696.88 1027.52 697.16 1021.60 698.40 C1016.11 699.55 1011.69 701.49 1006.10 703.60 C999.30 706.17 991.03 709.67 983.80 713.00 C976.74 716.25 968.32 720.09 963.20 723.30 C959.85 725.40 956.95 727.25 955.40 729.30 C954.34 730.71 953.75 732.09 953.70 733.60 C953.65 735.24 954.11 737.16 955.40 738.80 C957.40 741.34 962.11 743.47 966.60 745.70 C972.65 748.70 981.68 751.12 988.90 754.30 C996.00 757.43 1003.38 760.69 1009.60 764.60 C1015.31 768.20 1020.85 772.27 1025.00 776.60 C1028.62 780.38 1030.94 784.07 1033.60 788.70 C1036.75 794.17 1039.64 801.10 1042.20 807.60 C1044.82 814.25 1047.51 821.25 1049.10 828.20 C1050.65 834.99 1052.00 842.99 1051.70 848.80 C1051.48 853.12 1050.55 856.31 1049.10 860.00 C1047.51 864.05 1044.05 868.52 1042.20 872.00 C1040.82 874.59 1039.19 876.54 1038.80 878.90 C1038.43 881.15 1039.40 883.50 1039.70 885.80" class="hl"/>
<path d="M953.70 733.60 C946.53 738.20 939.14 742.31 932.20 747.40 C925.09 752.62 918.28 758.26 911.60 764.60 C904.49 771.35 897.24 779.10 890.90 786.90 C884.65 794.58 878.91 802.50 873.80 811.00 C868.59 819.68 863.73 829.79 860.00 838.50 C856.79 846.00 854.54 853.21 852.30 860.00 C850.31 866.03 848.54 870.41 847.10 877.20 C845.10 886.63 843.80 900.11 842.80 911.60 C841.80 923.05 841.21 938.24 841.10 946.00 C841.05 949.97 841.08 951.79 841.30 955.00 C841.56 958.72 842.25 962.87 842.70 967.00 C843.18 971.41 843.63 976.13 844.10 980.70" class="hl"/>
<path d="M752.60 988.90 C757.17 987.77 761.87 987.37 766.30 985.50 C771.06 983.49 776.57 980.34 780.10 976.90 C783.18 973.90 784.97 969.93 786.90 966.60 C788.60 963.66 789.77 960.87 791.20 958.00" class="hl"/>
<path d="M808.60 957.80 C809.17 959.90 809.32 961.92 810.30 964.10 C811.54 966.84 813.51 970.35 816.00 972.70 C818.61 975.17 822.54 977.11 825.80 978.40 C828.67 979.54 831.43 979.97 834.40 980.40 C837.52 980.86 840.87 980.80 844.10 981.00" class="hl"/>
<path d="M844.10 980.70 C847.53 979.37 850.71 978.30 854.40 976.70 C858.83 974.78 865.06 972.47 868.80 969.80 C871.71 967.72 873.97 965.47 875.60 962.90 C877.12 960.50 877.79 957.35 878.50 955.00 C879.06 953.16 879.30 951.67 879.70 950.00" class="hl"/>
<path d="M879.70 950.00 C881.73 950.17 883.70 950.70 885.80 950.50 C888.12 950.28 890.44 949.40 893.00 948.50 C896.09 947.41 899.96 945.99 903.00 944.20 C905.94 942.47 908.94 940.30 911.00 938.00 C912.79 936.01 913.77 934.08 915.00 931.50 C916.60 928.14 917.87 923.37 919.30 919.30" class="hl"/>
<path d="M851.00 862.50 C854.00 864.53 856.33 865.79 860.00 868.60 C866.50 873.58 876.62 883.04 885.80 890.90 C896.22 899.82 908.13 909.83 919.30 919.30" class="hl"/>
<path d="M919.30 919.30 C923.60 919.30 927.66 918.53 932.20 919.30 C937.59 920.21 944.60 922.58 949.40 925.30 C953.52 927.64 956.97 930.54 959.70 933.90 C962.36 937.17 963.70 941.37 965.70 945.10" class="hl"/>
<path d="M1026.50 901.30 C1022.57 902.43 1018.00 902.37 1014.70 904.70 C1011.08 907.26 1007.86 911.97 1006.10 916.70 C1004.11 922.06 1004.97 929.30 1004.40 935.60" class="hl"/>
<path d="M680.20 1013.60 C682.80 1013.07 685.27 1012.42 688.00 1012.00 C690.98 1011.54 694.59 1010.47 697.40 1011.00 C699.93 1011.47 702.11 1012.72 704.20 1014.50 C706.78 1016.70 708.81 1020.46 711.10 1023.90 C713.71 1027.81 716.30 1032.50 718.90 1036.80" class="hl"/>
<path d="M627.90 993.50 C628.60 990.73 629.30 987.91 630.00 985.20 C630.67 982.58 631.34 980.21 632.00 977.50 C632.74 974.50 633.46 970.62 634.20 968.00 C634.73 966.11 635.03 964.51 635.80 963.20 C636.46 962.09 637.40 960.74 638.30 960.50 C639.03 960.30 639.83 960.97 640.60 961.20" class="hl"/>
<ellipse cx="631.2" cy="768.4" rx="27.6" ry="9.9" transform="rotate(-2.0 631.2 768.4)" class="he"/>
<ellipse cx="603.0" cy="989.0" rx="26.5" ry="9.6" transform="rotate(15.0 603.0 989.0)" class="he"/>
<ellipse cx="761.0" cy="694.6" rx="33.2" ry="10.0" transform="rotate(33.0 761.0 694.6)" class="he"/>
<ellipse cx="936.8" cy="573.8" rx="18.2" ry="7.2" transform="rotate(-4.0 936.8 573.8)" class="he"/>
<ellipse cx="1083.2" cy="677.6" rx="7.2" ry="19.5" transform="rotate(10.0 1083.2 677.6)" class="he"/>
</g>
<g transform="translate(675.9 0.0)">
<path d="M640.60 961.20 C642.13 964.91 643.77 968.58 645.20 972.33 C646.63 976.07 647.95 979.85 649.18 983.67 C650.40 987.49 651.46 991.36 652.56 995.22 C653.66 999.08 654.72 1002.95 655.78 1006.83 C656.84 1010.70 657.87 1014.58 658.91 1018.46 C659.94 1022.33 660.97 1026.21 662.00 1030.09 C663.03 1033.97 664.05 1037.86 665.08 1041.74 C666.12 1045.62 667.14 1049.50 668.21 1053.37 C669.28 1057.24 670.36 1061.10 671.49 1064.95 C672.62 1068.80 673.74 1072.66 674.99 1076.47 C676.24 1080.28 677.62 1084.05 678.99 1087.82 C680.37 1091.59 681.78 1095.35 683.25 1099.09 C684.71 1102.82 686.23 1106.54 687.78 1110.24 C689.34 1113.94 690.98 1117.60 692.60 1121.28 C694.22 1124.95 695.84 1128.62 697.50 1132.28 C699.15 1135.94 700.84 1139.58 702.53 1143.22 C704.22 1146.86 705.91 1150.50 707.63 1154.13 C709.36 1157.75 711.11 1161.37 712.88 1164.97 C714.66 1168.57 716.42 1172.17 718.28 1175.73 C720.13 1179.29 722.00 1182.84 724.02 1186.31 C726.03 1189.77 728.08 1193.23 730.37 1196.50 C732.66 1199.77 735.18 1202.90 737.78 1205.93 C740.38 1208.97 743.12 1211.91 745.98 1214.72 C748.83 1217.52 751.85 1220.17 754.90 1222.76 C757.96 1225.34 761.10 1227.86 764.33 1230.23 C767.56 1232.60 770.92 1234.78 774.28 1236.96 C777.65 1239.14 781.12 1241.17 784.53 1243.28 C787.95 1245.39 791.36 1247.51 794.77 1249.62 C798.19 1251.73 801.55 1253.93 805.02 1255.93 C808.49 1257.93 812.00 1259.87 815.59 1261.64 C819.18 1263.42 822.90 1264.95 826.57 1266.57 C830.24 1268.19 833.93 1269.78 837.61 1271.36 C841.30 1272.95 844.97 1274.59 848.69 1276.09 C852.40 1277.60 856.15 1279.04 859.92 1280.40 C863.69 1281.77 867.51 1283.00 871.32 1284.28 C875.12 1285.57 878.93 1286.85 882.74 1288.10 C886.55 1289.35 890.35 1290.65 894.20 1291.79 C898.04 1292.93 901.92 1293.96 905.81 1294.96 C909.69 1295.96 913.61 1296.86 917.51 1297.79 C921.41 1298.73 925.31 1299.70 929.22 1300.59 C933.14 1301.49 937.04 1302.41 940.98 1303.15 C944.92 1303.89 948.90 1304.45 952.87 1305.03 C956.84 1305.61 960.82 1306.12 964.80 1306.64 C968.78 1307.15 972.76 1307.74 976.75 1308.13 C980.73 1308.53 984.73 1308.81 988.74 1309.00 C992.74 1309.19 996.76 1309.24 1000.77 1309.26 C1004.78 1309.28 1008.80 1309.44 1012.78 1309.15 C1016.75 1308.85 1020.70 1308.23 1024.61 1307.49 C1028.54 1306.74 1032.44 1305.70 1036.31 1304.69 C1040.18 1303.68 1044.12 1302.80 1047.85 1301.42 C1051.57 1300.04 1055.14 1298.27 1058.66 1296.42 C1062.20 1294.57 1065.58 1292.37 1069.01 1290.29 C1072.44 1288.21 1075.94 1286.22 1079.24 1283.96 C1082.53 1281.71 1085.75 1279.34 1088.78 1276.76 C1091.82 1274.17 1094.60 1271.25 1097.45 1268.44 C1100.31 1265.63 1103.24 1262.85 1105.91 1259.88 C1108.56 1256.92 1111.22 1253.94 1113.42 1250.66 C1115.62 1247.37 1117.33 1243.72 1119.12 1240.16 C1120.91 1236.58 1122.64 1232.94 1124.15 1229.24 C1125.67 1225.54 1127.03 1221.77 1128.21 1217.96 C1129.39 1214.13 1130.36 1210.23 1131.23 1206.32 C1132.11 1202.42 1132.93 1198.50 1133.45 1194.54 C1133.97 1190.58 1134.12 1186.56 1134.34 1182.56 C1134.57 1178.56 1134.72 1174.54 1134.82 1170.53 C1134.92 1166.52 1134.99 1162.51 1134.95 1158.50 C1134.91 1154.49 1134.72 1150.47 1134.57 1146.46 C1134.42 1142.45 1134.27 1138.44 1134.04 1134.43 C1133.81 1130.43 1133.53 1126.43 1133.17 1122.43 C1132.82 1118.43 1132.35 1114.44 1131.92 1110.45 C1131.49 1106.46 1131.06 1102.47 1130.57 1098.49 C1130.08 1094.50 1129.54 1090.53 1128.97 1086.55 C1128.39 1082.58 1127.73 1078.62 1127.10 1074.66 C1126.47 1070.69 1125.85 1066.73 1125.19 1062.77 C1124.52 1058.81 1123.90 1054.84 1123.11 1050.91 C1122.33 1046.98 1121.42 1043.07 1120.49 1039.16 C1119.57 1035.26 1118.58 1031.37 1117.59 1027.48 C1116.60 1023.59 1115.63 1019.69 1114.57 1015.82 C1113.52 1011.95 1112.39 1008.10 1111.26 1004.24 C1110.13 1000.39 1108.99 996.54 1107.81 992.71 C1106.62 988.87 1105.46 985.03 1104.14 981.25 C1102.81 977.46 1101.34 973.73 1099.85 970.00 C1098.36 966.28 1096.89 962.53 1095.22 958.89 C1093.56 955.26 1091.81 951.65 1089.84 948.18 C1087.87 944.70 1085.59 941.39 1083.38 938.04 C1081.17 934.70 1078.94 931.35 1076.59 928.11 C1074.23 924.87 1071.75 921.71 1069.24 918.58 C1066.73 915.46 1064.14 912.39 1061.52 909.35 C1058.89 906.32 1056.22 903.33 1053.50 900.37 C1050.79 897.41 1047.72 894.23 1045.24 891.61 C1043.21 889.48 1041.55 887.74 1039.70 885.80 L1039.70 885.80 C1037.10 887.03 1033.94 887.72 1031.90 889.50 C1029.95 891.20 1028.36 893.53 1027.60 896.10 C1026.73 899.04 1027.05 902.76 1027.60 906.40 C1028.26 910.71 1030.49 915.82 1031.90 920.20 C1033.19 924.19 1034.45 927.80 1035.70 931.61 C1036.96 935.42 1038.27 939.21 1039.42 943.05 C1040.58 946.89 1041.62 950.76 1042.65 954.63 C1043.68 958.51 1044.62 962.40 1045.59 966.30 C1046.55 970.19 1047.55 974.07 1048.45 977.98 C1049.35 981.88 1050.17 985.81 1050.99 989.73 C1051.80 993.66 1052.59 997.59 1053.36 1001.53 C1054.12 1005.46 1054.93 1009.39 1055.55 1013.35 C1056.16 1017.31 1056.59 1021.29 1057.04 1025.27 C1057.48 1029.26 1057.86 1033.25 1058.22 1037.25 C1058.59 1041.24 1058.99 1045.23 1059.23 1049.23 C1059.46 1053.23 1059.54 1057.24 1059.65 1061.24 C1059.76 1065.25 1059.83 1069.26 1059.91 1073.27 C1059.98 1077.28 1060.12 1081.29 1060.13 1085.30 C1060.13 1089.30 1060.08 1093.31 1059.94 1097.32 C1059.80 1101.32 1059.52 1105.32 1059.28 1109.33 C1059.04 1113.33 1058.86 1117.34 1058.51 1121.33 C1058.16 1125.32 1057.72 1129.30 1057.16 1133.26 C1056.60 1137.23 1056.00 1141.21 1055.14 1145.11 C1054.29 1149.00 1053.29 1152.88 1052.03 1156.66 C1050.77 1160.44 1049.22 1164.17 1047.56 1167.80 C1045.91 1171.43 1044.15 1175.02 1042.11 1178.44 C1040.07 1181.87 1037.40 1185.41 1035.34 1188.36 C1033.66 1190.77 1032.80 1192.87 1030.70 1194.90 C1028.09 1197.43 1023.37 1201.56 1020.30 1201.80 C1018.05 1201.98 1016.45 1200.76 1014.20 1199.00 C1009.91 1195.63 1002.83 1185.34 999.00 1179.80 C996.30 1175.90 994.83 1172.84 992.74 1169.37 C990.65 1165.90 988.58 1162.41 986.46 1158.96 C984.33 1155.51 982.18 1152.07 979.99 1148.66 C977.80 1145.25 975.55 1141.87 973.31 1138.50 C971.06 1135.12 968.81 1131.75 966.53 1128.40 C964.24 1125.05 961.94 1121.71 959.63 1118.38 C957.31 1115.05 955.01 1111.72 952.65 1108.42 C950.29 1105.13 947.92 1101.84 945.48 1098.60 C943.03 1095.37 940.50 1092.21 937.99 1089.02 C935.49 1085.83 932.96 1082.67 930.46 1079.47 C927.96 1076.28 925.48 1073.07 923.00 1069.86 C920.52 1066.65 918.05 1063.44 915.58 1060.23 C913.11 1057.01 910.63 1053.81 908.16 1050.59 C905.70 1047.36 903.25 1044.14 900.81 1040.90 C898.37 1037.66 895.96 1034.40 893.53 1031.15 C891.10 1027.91 888.68 1024.65 886.21 1021.44 C883.74 1018.23 881.24 1015.03 878.70 1011.88 C876.15 1008.72 873.56 1005.60 870.95 1002.51 C868.33 999.41 865.76 996.27 863.00 993.30 C860.24 990.33 857.12 986.68 854.40 984.70 C852.42 983.27 850.37 982.20 848.70 981.80 C847.52 981.52 846.43 981.32 845.50 981.80 C844.35 982.40 843.23 984.26 842.70 985.80 C842.12 987.48 842.25 989.49 842.40 991.60 C842.59 994.20 843.17 997.20 844.10 1000.20 C845.20 1003.75 847.26 1007.70 848.92 1011.42 C850.59 1015.13 852.36 1018.80 854.08 1022.48 C855.81 1026.17 857.49 1029.88 859.29 1033.53 C861.09 1037.18 862.98 1040.78 864.91 1044.36 C866.84 1047.95 868.88 1051.47 870.86 1055.03 C872.84 1058.58 874.85 1062.13 876.79 1065.71 C878.72 1069.29 880.60 1072.90 882.49 1076.51 C884.37 1080.12 886.25 1083.73 888.10 1087.35 C889.96 1090.98 891.85 1094.58 893.61 1098.25 C895.37 1101.92 897.02 1105.64 898.67 1109.36 C900.33 1113.08 901.93 1116.82 903.56 1120.55 C905.18 1124.29 906.84 1128.01 908.44 1131.75 C910.05 1135.49 911.70 1139.21 913.19 1142.99 C914.68 1146.78 916.07 1150.61 917.37 1154.46 C918.66 1158.31 919.92 1162.19 920.96 1166.11 C922.00 1170.04 922.76 1174.04 923.60 1178.02 C924.44 1182.01 925.11 1185.64 926.00 1190.00 C927.07 1195.24 929.50 1202.00 929.60 1207.30 C929.68 1211.77 929.23 1215.78 927.50 1219.70 C925.58 1224.07 922.08 1228.65 917.90 1232.00 C913.18 1235.78 906.13 1238.96 900.00 1240.50 C894.15 1241.97 887.53 1241.83 882.00 1241.40 C877.18 1241.02 872.84 1239.78 868.60 1238.60 C864.62 1237.49 861.03 1235.97 857.26 1234.63 C853.48 1233.30 849.65 1232.10 845.95 1230.58 C842.27 1229.06 838.64 1227.38 835.12 1225.53 C831.58 1223.67 828.20 1221.50 824.77 1219.44 C821.34 1217.38 817.87 1215.36 814.53 1213.15 C811.19 1210.95 807.90 1208.66 804.73 1206.23 C801.56 1203.79 798.53 1201.17 795.51 1198.54 C792.50 1195.91 789.57 1193.17 786.66 1190.42 C783.75 1187.67 780.89 1184.86 778.05 1182.04 C775.21 1179.22 772.37 1176.39 769.61 1173.49 C766.85 1170.59 764.12 1167.65 761.49 1164.63 C758.86 1161.62 756.25 1158.58 753.82 1155.41 C751.39 1152.23 749.15 1148.90 746.93 1145.58 C744.71 1142.25 742.50 1138.90 740.50 1135.44 C738.49 1131.98 736.73 1128.39 734.90 1124.82 C733.08 1121.26 731.32 1117.66 729.55 1114.06 C727.79 1110.46 726.02 1106.87 724.32 1103.25 C722.61 1099.62 720.98 1095.96 719.32 1092.32 C717.67 1088.67 716.04 1085.01 714.38 1081.36 C712.72 1077.71 711.08 1074.06 709.36 1070.44 C707.64 1066.83 705.84 1063.25 704.06 1059.66 C702.28 1056.07 700.49 1052.49 698.67 1048.92 C696.85 1045.35 695.04 1041.77 693.15 1038.24 C691.26 1034.71 689.27 1031.23 687.33 1027.73 C685.38 1024.23 683.39 1020.76 681.46 1017.24 C679.54 1013.73 677.65 1010.20 675.79 1006.65 C673.93 1003.10 671.94 999.16 670.31 995.95 C668.98 993.33 668.03 991.25 666.70 988.80 C665.25 986.12 663.69 982.98 661.90 980.50 C660.23 978.19 658.40 976.31 656.40 974.30 C654.29 972.17 651.99 970.18 649.50 968.10 C646.76 965.81 643.57 963.50 640.60 961.20 Z" fill="#cdcdcd" stroke="none"/>
<path d="M640.60 961.20 C642.13 964.91 643.77 968.58 645.20 972.33 C646.63 976.07 647.95 979.85 649.18 983.67 C650.40 987.49 651.46 991.36 652.56 995.22 C653.66 999.08 654.72 1002.95 655.78 1006.83 C656.84 1010.70 657.87 1014.58 658.91 1018.46 C659.94 1022.33 660.97 1026.21 662.00 1030.09 C663.03 1033.97 664.05 1037.86 665.08 1041.74 C666.12 1045.62 667.14 1049.50 668.21 1053.37 C669.28 1057.24 670.36 1061.10 671.49 1064.95 C672.62 1068.80 673.74 1072.66 674.99 1076.47 C676.24 1080.28 677.62 1084.05 678.99 1087.82 C680.37 1091.59 681.78 1095.35 683.25 1099.09 C684.71 1102.82 686.23 1106.54 687.78 1110.24 C689.34 1113.94 690.98 1117.60 692.60 1121.28 C694.22 1124.95 695.84 1128.62 697.50 1132.28 C699.15 1135.94 700.84 1139.58 702.53 1143.22 C704.22 1146.86 705.91 1150.50 707.63 1154.13 C709.36 1157.75 711.11 1161.37 712.88 1164.97 C714.66 1168.57 716.42 1172.17 718.28 1175.73 C720.13 1179.29 722.00 1182.84 724.02 1186.31 C726.03 1189.77 728.08 1193.23 730.37 1196.50 C732.66 1199.77 735.18 1202.90 737.78 1205.93 C740.38 1208.97 743.12 1211.91 745.98 1214.72 C748.83 1217.52 751.85 1220.17 754.90 1222.76 C757.96 1225.34 761.10 1227.86 764.33 1230.23 C767.56 1232.60 770.92 1234.78 774.28 1236.96 C777.65 1239.14 781.12 1241.17 784.53 1243.28 C787.95 1245.39 791.36 1247.51 794.77 1249.62 C798.19 1251.73 801.55 1253.93 805.02 1255.93 C808.49 1257.93 812.00 1259.87 815.59 1261.64 C819.18 1263.42 822.90 1264.95 826.57 1266.57 C830.24 1268.19 833.93 1269.78 837.61 1271.36 C841.30 1272.95 844.97 1274.59 848.69 1276.09 C852.40 1277.60 856.15 1279.04 859.92 1280.40 C863.69 1281.77 867.51 1283.00 871.32 1284.28 C875.12 1285.57 878.93 1286.85 882.74 1288.10 C886.55 1289.35 890.35 1290.65 894.20 1291.79 C898.04 1292.93 901.92 1293.96 905.81 1294.96 C909.69 1295.96 913.61 1296.86 917.51 1297.79 C921.41 1298.73 925.31 1299.70 929.22 1300.59 C933.14 1301.49 937.04 1302.41 940.98 1303.15 C944.92 1303.89 948.90 1304.45 952.87 1305.03 C956.84 1305.61 960.82 1306.12 964.80 1306.64 C968.78 1307.15 972.76 1307.74 976.75 1308.13 C980.73 1308.53 984.73 1308.81 988.74 1309.00 C992.74 1309.19 996.76 1309.24 1000.77 1309.26 C1004.78 1309.28 1008.80 1309.44 1012.78 1309.15 C1016.75 1308.85 1020.70 1308.23 1024.61 1307.49 C1028.54 1306.74 1032.44 1305.70 1036.31 1304.69 C1040.18 1303.68 1044.12 1302.80 1047.85 1301.42 C1051.57 1300.04 1055.14 1298.27 1058.66 1296.42 C1062.20 1294.57 1065.58 1292.37 1069.01 1290.29 C1072.44 1288.21 1075.94 1286.22 1079.24 1283.96 C1082.53 1281.71 1085.75 1279.34 1088.78 1276.76 C1091.82 1274.17 1094.60 1271.25 1097.45 1268.44 C1100.31 1265.63 1103.24 1262.85 1105.91 1259.88 C1108.56 1256.92 1111.22 1253.94 1113.42 1250.66 C1115.62 1247.37 1117.33 1243.72 1119.12 1240.16 C1120.91 1236.58 1122.64 1232.94 1124.15 1229.24 C1125.67 1225.54 1127.03 1221.77 1128.21 1217.96 C1129.39 1214.13 1130.36 1210.23 1131.23 1206.32 C1132.11 1202.42 1132.93 1198.50 1133.45 1194.54 C1133.97 1190.58 1134.12 1186.56 1134.34 1182.56 C1134.57 1178.56 1134.72 1174.54 1134.82 1170.53 C1134.92 1166.52 1134.99 1162.51 1134.95 1158.50 C1134.91 1154.49 1134.72 1150.47 1134.57 1146.46 C1134.42 1142.45 1134.27 1138.44 1134.04 1134.43 C1133.81 1130.43 1133.53 1126.43 1133.17 1122.43 C1132.82 1118.43 1132.35 1114.44 1131.92 1110.45 C1131.49 1106.46 1131.06 1102.47 1130.57 1098.49 C1130.08 1094.50 1129.54 1090.53 1128.97 1086.55 C1128.39 1082.58 1127.73 1078.62 1127.10 1074.66 C1126.47 1070.69 1125.85 1066.73 1125.19 1062.77 C1124.52 1058.81 1123.90 1054.84 1123.11 1050.91 C1122.33 1046.98 1121.42 1043.07 1120.49 1039.16 C1119.57 1035.26 1118.58 1031.37 1117.59 1027.48 C1116.60 1023.59 1115.63 1019.69 1114.57 1015.82 C1113.52 1011.95 1112.39 1008.10 1111.26 1004.24 C1110.13 1000.39 1108.99 996.54 1107.81 992.71 C1106.62 988.87 1105.46 985.03 1104.14 981.25 C1102.81 977.46 1101.34 973.73 1099.85 970.00 C1098.36 966.28 1096.89 962.53 1095.22 958.89 C1093.56 955.26 1091.81 951.65 1089.84 948.18 C1087.87 944.70 1085.59 941.39 1083.38 938.04 C1081.17 934.70 1078.94 931.35 1076.59 928.11 C1074.23 924.87 1071.75 921.71 1069.24 918.58 C1066.73 915.46 1064.14 912.39 1061.52 909.35 C1058.89 906.32 1056.22 903.33 1053.50 900.37 C1050.79 897.41 1047.72 894.23 1045.24 891.61 C1043.21 889.48 1041.55 887.74 1039.70 885.80" class="ho"/>
<path d="M1039.70 885.80 C1037.10 887.03 1033.94 887.72 1031.90 889.50 C1029.95 891.20 1028.36 893.53 1027.60 896.10 C1026.73 899.04 1027.05 902.76 1027.60 906.40 C1028.26 910.71 1030.49 915.82 1031.90 920.20 C1033.19 924.19 1034.45 927.80 1035.70 931.61 C1036.96 935.42 1038.27 939.21 1039.42 943.05 C1040.58 946.89 1041.62 950.76 1042.65 954.63 C1043.68 958.51 1044.62 962.40 1045.59 966.30 C1046.55 970.19 1047.55 974.07 1048.45 977.98 C1049.35 981.88 1050.17 985.81 1050.99 989.73 C1051.80 993.66 1052.59 997.59 1053.36 1001.53 C1054.12 1005.46 1054.93 1009.39 1055.55 1013.35 C1056.16 1017.31 1056.59 1021.29 1057.04 1025.27 C1057.48 1029.26 1057.86 1033.25 1058.22 1037.25 C1058.59 1041.24 1058.99 1045.23 1059.23 1049.23 C1059.46 1053.23 1059.54 1057.24 1059.65 1061.24 C1059.76 1065.25 1059.83 1069.26 1059.91 1073.27 C1059.98 1077.28 1060.12 1081.29 1060.13 1085.30 C1060.13 1089.30 1060.08 1093.31 1059.94 1097.32 C1059.80 1101.32 1059.52 1105.32 1059.28 1109.33 C1059.04 1113.33 1058.86 1117.34 1058.51 1121.33 C1058.16 1125.32 1057.72 1129.30 1057.16 1133.26 C1056.60 1137.23 1056.00 1141.21 1055.14 1145.11 C1054.29 1149.00 1053.29 1152.88 1052.03 1156.66 C1050.77 1160.44 1049.22 1164.17 1047.56 1167.80 C1045.91 1171.43 1044.15 1175.02 1042.11 1178.44 C1040.07 1181.87 1037.40 1185.41 1035.34 1188.36 C1033.66 1190.77 1032.80 1192.87 1030.70 1194.90 C1028.09 1197.43 1023.37 1201.56 1020.30 1201.80 C1018.05 1201.98 1016.45 1200.76 1014.20 1199.00 C1009.91 1195.63 1002.83 1185.34 999.00 1179.80 C996.30 1175.90 994.83 1172.84 992.74 1169.37 C990.65 1165.90 988.58 1162.41 986.46 1158.96 C984.33 1155.51 982.18 1152.07 979.99 1148.66 C977.80 1145.25 975.55 1141.87 973.31 1138.50 C971.06 1135.12 968.81 1131.75 966.53 1128.40 C964.24 1125.05 961.94 1121.71 959.63 1118.38 C957.31 1115.05 955.01 1111.72 952.65 1108.42 C950.29 1105.13 947.92 1101.84 945.48 1098.60 C943.03 1095.37 940.50 1092.21 937.99 1089.02 C935.49 1085.83 932.96 1082.67 930.46 1079.47 C927.96 1076.28 925.48 1073.07 923.00 1069.86 C920.52 1066.65 918.05 1063.44 915.58 1060.23 C913.11 1057.01 910.63 1053.81 908.16 1050.59 C905.70 1047.36 903.25 1044.14 900.81 1040.90 C898.37 1037.66 895.96 1034.40 893.53 1031.15 C891.10 1027.91 888.68 1024.65 886.21 1021.44 C883.74 1018.23 881.24 1015.03 878.70 1011.88 C876.15 1008.72 873.56 1005.60 870.95 1002.51 C868.33 999.41 865.76 996.27 863.00 993.30 C860.24 990.33 857.12 986.68 854.40 984.70 C852.42 983.27 850.37 982.20 848.70 981.80 C847.52 981.52 846.43 981.32 845.50 981.80 C844.35 982.40 843.23 984.26 842.70 985.80 C842.12 987.48 842.25 989.49 842.40 991.60 C842.59 994.20 843.17 997.20 844.10 1000.20 C845.20 1003.75 847.26 1007.70 848.92 1011.42 C850.59 1015.13 852.36 1018.80 854.08 1022.48 C855.81 1026.17 857.49 1029.88 859.29 1033.53 C861.09 1037.18 862.98 1040.78 864.91 1044.36 C866.84 1047.95 868.88 1051.47 870.86 1055.03 C872.84 1058.58 874.85 1062.13 876.79 1065.71 C878.72 1069.29 880.60 1072.90 882.49 1076.51 C884.37 1080.12 886.25 1083.73 888.10 1087.35 C889.96 1090.98 891.85 1094.58 893.61 1098.25 C895.37 1101.92 897.02 1105.64 898.67 1109.36 C900.33 1113.08 901.93 1116.82 903.56 1120.55 C905.18 1124.29 906.84 1128.01 908.44 1131.75 C910.05 1135.49 911.70 1139.21 913.19 1142.99 C914.68 1146.78 916.07 1150.61 917.37 1154.46 C918.66 1158.31 919.92 1162.19 920.96 1166.11 C922.00 1170.04 922.76 1174.04 923.60 1178.02 C924.44 1182.01 925.11 1185.64 926.00 1190.00 C927.07 1195.24 929.50 1202.00 929.60 1207.30 C929.68 1211.77 929.23 1215.78 927.50 1219.70 C925.58 1224.07 922.08 1228.65 917.90 1232.00 C913.18 1235.78 906.13 1238.96 900.00 1240.50 C894.15 1241.97 887.53 1241.83 882.00 1241.40 C877.18 1241.02 872.84 1239.78 868.60 1238.60 C864.62 1237.49 861.03 1235.97 857.26 1234.63 C853.48 1233.30 849.65 1232.10 845.95 1230.58 C842.27 1229.06 838.64 1227.38 835.12 1225.53 C831.58 1223.67 828.20 1221.50 824.77 1219.44 C821.34 1217.38 817.87 1215.36 814.53 1213.15 C811.19 1210.95 807.90 1208.66 804.73 1206.23 C801.56 1203.79 798.53 1201.17 795.51 1198.54 C792.50 1195.91 789.57 1193.17 786.66 1190.42 C783.75 1187.67 780.89 1184.86 778.05 1182.04 C775.21 1179.22 772.37 1176.39 769.61 1173.49 C766.85 1170.59 764.12 1167.65 761.49 1164.63 C758.86 1161.62 756.25 1158.58 753.82 1155.41 C751.39 1152.23 749.15 1148.90 746.93 1145.58 C744.71 1142.25 742.50 1138.90 740.50 1135.44 C738.49 1131.98 736.73 1128.39 734.90 1124.82 C733.08 1121.26 731.32 1117.66 729.55 1114.06 C727.79 1110.46 726.02 1106.87 724.32 1103.25 C722.61 1099.62 720.98 1095.96 719.32 1092.32 C717.67 1088.67 716.04 1085.01 714.38 1081.36 C712.72 1077.71 711.08 1074.06 709.36 1070.44 C707.64 1066.83 705.84 1063.25 704.06 1059.66 C702.28 1056.07 700.49 1052.49 698.67 1048.92 C696.85 1045.35 695.04 1041.77 693.15 1038.24 C691.26 1034.71 689.27 1031.23 687.33 1027.73 C685.38 1024.23 683.39 1020.76 681.46 1017.24 C679.54 1013.73 677.65 1010.20 675.79 1006.65 C673.93 1003.10 671.94 999.16 670.31 995.95 C668.98 993.33 668.03 991.25 666.70 988.80 C665.25 986.12 663.69 982.98 661.90 980.50 C660.23 978.19 658.40 976.31 656.40 974.30 C654.29 972.17 651.99 970.18 649.50 968.10 C646.76 965.81 643.57 963.50 640.60 961.20" class="hl"/>
<path d="M603.60 770.00 C603.02 774.01 602.41 778.02 601.85 782.04 C601.29 786.05 600.72 790.07 600.24 794.09 C599.77 798.12 599.39 802.16 598.98 806.19 C598.57 810.23 598.17 814.26 597.77 818.30 C597.37 822.33 596.96 826.37 596.56 830.40 C596.17 834.44 595.79 838.47 595.41 842.51 C595.03 846.55 594.68 850.59 594.29 854.62 C593.89 858.66 593.47 862.69 593.02 866.72 C592.57 870.75 592.11 874.78 591.57 878.80 C591.03 882.82 590.39 886.82 589.77 890.83 C589.15 894.83 588.49 898.84 587.85 902.84 C587.21 906.84 586.56 910.85 585.92 914.85 C585.28 918.86 584.64 922.86 584.00 926.86 C583.36 930.87 582.73 934.87 582.09 938.88 C581.45 942.88 580.81 946.89 580.15 950.89 C579.49 954.89 578.67 958.87 578.15 962.88 C577.63 966.89 577.10 971.33 577.03 974.94 C576.98 977.90 577.34 980.31 577.50 983.00" class="hl"/>
<path d="M658.80 769.00 C659.07 771.27 659.66 773.47 659.60 775.80 C659.54 778.29 658.29 781.45 658.30 783.50 C658.31 784.86 658.23 785.69 658.90 786.90 C660.06 788.99 663.47 791.79 666.60 793.80 C670.36 796.22 675.37 798.38 680.30 799.80 C685.61 801.34 692.49 802.43 697.50 802.40 C701.40 802.38 704.84 801.53 707.90 800.70 C710.45 800.01 713.28 799.75 714.70 798.10 C716.18 796.38 716.15 793.43 716.40 790.40 C716.75 786.15 716.27 780.18 715.60 774.90 C714.89 769.29 712.95 764.04 712.10 757.70 C711.07 750.00 709.85 739.91 710.40 731.90 C710.89 724.80 712.68 717.85 714.50 712.00 C716.02 707.12 718.20 703.20 720.00 699.00 C721.70 695.04 722.96 691.20 725.00 687.50 C727.10 683.69 730.00 680.17 732.50 676.50" class="hl"/>
<path d="M711.30 800.20 C718.17 801.80 725.09 802.95 731.90 805.00 C738.86 807.10 745.71 809.77 752.60 812.70 C759.74 815.74 766.87 819.57 774.00 823.00" class="hl"/>
<path d="M789.50 713.50 C788.63 717.33 788.07 721.31 786.90 725.00 C785.76 728.60 783.63 732.27 782.60 735.40 C781.78 737.87 781.31 739.67 780.90 742.20 C780.40 745.28 780.01 748.90 780.10 752.60 C780.20 756.86 780.63 761.96 781.80 766.30 C782.93 770.52 784.90 774.73 786.90 778.30 C788.69 781.51 790.97 784.03 793.00 786.90" class="hl"/>
<path d="M781.20 742.50 C783.70 743.27 785.72 744.26 788.70 744.80 C792.88 745.55 798.84 745.94 804.10 745.70 C809.69 745.44 815.93 744.34 821.30 743.10 C826.20 741.97 830.50 740.23 835.10 738.80" class="hl"/>
<path d="M753.20 1023.90 C753.04 1019.89 752.86 1015.88 752.73 1011.87 C752.61 1007.87 752.49 1003.86 752.45 999.85 C752.40 995.84 752.41 991.82 752.45 987.81 C752.49 983.80 752.59 979.79 752.69 975.78 C752.80 971.77 752.94 967.76 753.10 963.75 C753.25 959.75 753.42 955.74 753.61 951.73 C753.80 947.72 754.00 943.72 754.21 939.71 C754.43 935.71 754.66 931.70 754.91 927.70 C755.15 923.69 755.38 919.69 755.70 915.69 C756.01 911.69 756.37 907.70 756.80 903.71 C757.22 899.72 757.69 895.74 758.24 891.76 C758.79 887.79 759.40 883.83 760.10 879.88 C760.79 875.94 761.59 872.00 762.41 868.08 C763.23 864.15 764.09 860.23 765.03 856.33 C765.96 852.43 766.95 848.55 768.01 844.68 C769.07 840.81 770.16 836.95 771.39 833.14 C772.63 829.33 773.97 825.55 775.42 821.81 C776.87 818.08 778.37 814.37 780.08 810.75 C781.80 807.14 783.74 803.63 785.70 800.13 C787.65 796.64 789.66 793.16 791.81 789.78 C793.97 786.41 796.29 783.14 798.62 779.88 C800.94 776.61 803.30 773.36 805.76 770.20 C808.22 767.05 810.73 763.92 813.38 760.93 C816.04 757.93 818.90 755.11 821.71 752.26 C824.52 749.40 827.33 746.53 830.25 743.79 C833.18 741.06 836.18 738.41 839.25 735.84 C842.32 733.28 845.57 730.91 848.69 728.39 C851.80 725.86 854.88 723.30 857.94 720.70 C860.99 718.10 863.99 715.44 867.01 712.80 C870.03 710.15 873.02 707.47 876.05 704.85 C879.08 702.22 882.14 699.63 885.21 697.04 C888.27 694.46 891.50 692.06 894.45 689.36 C897.39 686.68 900.45 684.02 902.87 680.92 C905.28 677.85 907.32 674.41 908.95 670.86 C910.59 667.28 911.57 663.34 912.65 659.50 C913.72 655.65 914.57 651.72 915.39 647.80 C916.21 643.88 916.95 639.93 917.57 635.97 C918.18 632.02 918.72 628.03 919.09 624.05 C919.47 620.07 919.74 616.07 919.82 612.07 C919.90 608.07 919.67 604.06 919.55 600.06 C919.44 596.05 919.26 592.04 919.14 588.03 C919.01 584.02 918.91 580.01 918.80 576.00" class="hl"/>
<path d="M953.70 573.50 C955.13 577.60 956.99 580.87 958.00 585.80 C959.42 592.75 959.77 603.49 959.70 611.60 C959.64 618.86 958.59 625.65 958.00 632.20 C957.46 638.19 955.91 644.01 956.30 649.40 C956.65 654.28 957.54 659.39 959.70 663.20 C961.69 666.71 965.14 670.40 968.30 671.70 C970.96 672.79 973.47 672.25 976.90 671.70 C982.35 670.82 990.59 666.96 997.50 664.90 C1004.36 662.86 1011.12 660.70 1018.20 659.40 C1025.44 658.07 1032.79 657.62 1040.50 657.10 C1048.78 656.55 1059.05 656.28 1066.30 656.30 C1071.58 656.31 1076.21 656.28 1080.00 656.80 C1082.74 657.18 1085.34 657.57 1087.00 658.50 C1088.16 659.15 1088.67 660.17 1089.50 661.00" class="hl"/>
<path d="M1081.50 697.20 C1075.30 697.30 1069.39 697.56 1062.90 697.50 C1055.78 697.43 1047.64 696.51 1040.50 696.70 C1033.93 696.88 1027.52 697.16 1021.60 698.40 C1016.11 699.55 1011.69 701.49 1006.10 703.60 C999.30 706.17 991.03 709.67 983.80 713.00 C976.74 716.25 968.32 720.09 963.20 723.30 C959.85 725.40 956.95 727.25 955.40 729.30 C954.34 730.71 953.75 732.09 953.70 733.60 C953.65 735.24 954.11 737.16 955.40 738.80 C957.40 741.34 962.11 743.47 966.60 745.70 C972.65 748.70 981.68 751.12 988.90 754.30 C996.00 757.43 1003.38 760.69 1009.60 764.60 C1015.31 768.20 1020.85 772.27 1025.00 776.60 C1028.62 780.38 1030.94 784.07 1033.60 788.70 C1036.75 794.17 1039.64 801.10 1042.20 807.60 C1044.82 814.25 1047.51 821.25 1049.10 828.20 C1050.65 834.99 1052.00 842.99 1051.70 848.80 C1051.48 853.12 1050.55 856.31 1049.10 860.00 C1047.51 864.05 1044.05 868.52 1042.20 872.00 C1040.82 874.59 1039.19 876.54 1038.80 878.90 C1038.43 881.15 1039.40 883.50 1039.70 885.80" class="hl"/>
<path d="M953.70 733.60 C946.53 738.20 939.14 742.31 932.20 747.40 C925.09 752.62 918.28 758.26 911.60 764.60 C904.49 771.35 897.24 779.10 890.90 786.90 C884.65 794.58 878.91 802.50 873.80 811.00 C868.59 819.68 863.73 829.79 860.00 838.50 C856.79 846.00 854.54 853.21 852.30 860.00 C850.31 866.03 848.54 870.41 847.10 877.20 C845.10 886.63 843.80 900.11 842.80 911.60 C841.80 923.05 841.21 938.24 841.10 946.00 C841.05 949.97 841.08 951.79 841.30 955.00 C841.56 958.72 842.25 962.87 842.70 967.00 C843.18 971.41 843.63 976.13 844.10 980.70" class="hl"/>
<path d="M752.60 988.90 C757.17 987.77 761.87 987.37 766.30 985.50 C771.06 983.49 776.57 980.34 780.10 976.90 C783.18 973.90 784.97 969.93 786.90 966.60 C788.60 963.66 789.77 960.87 791.20 958.00" class="hl"/>
<path d="M808.60 957.80 C809.17 959.90 809.32 961.92 810.30 964.10 C811.54 966.84 813.51 970.35 816.00 972.70 C818.61 975.17 822.54 977.11 825.80 978.40 C828.67 979.54 831.43 979.97 834.40 980.40 C837.52 980.86 840.87 980.80 844.10 981.00" class="hl"/>
<path d="M844.10 980.70 C847.53 979.37 850.71 978.30 854.40 976.70 C858.83 974.78 865.06 972.47 868.80 969.80 C871.71 967.72 873.97 965.47 875.60 962.90 C877.12 960.50 877.79 957.35 878.50 955.00 C879.06 953.16 879.30 951.67 879.70 950.00" class="hl"/>
<path d="M879.70 950.00 C881.73 950.17 883.70 950.70 885.80 950.50 C888.12 950.28 890.44 949.40 893.00 948.50 C896.09 947.41 899.96 945.99 903.00 944.20 C905.94 942.47 908.94 940.30 911.00 938.00 C912.79 936.01 913.77 934.08 915.00 931.50 C916.60 928.14 917.87 923.37 919.30 919.30" class="hl"/>
<path d="M851.00 862.50 C854.00 864.53 856.33 865.79 860.00 868.60 C866.50 873.58 876.62 883.04 885.80 890.90 C896.22 899.82 908.13 909.83 919.30 919.30" class="hl"/>
<path d="M919.30 919.30 C923.60 919.30 927.66 918.53 932.20 919.30 C937.59 920.21 944.60 922.58 949.40 925.30 C953.52 927.64 956.97 930.54 959.70 933.90 C962.36 937.17 963.70 941.37 965.70 945.10" class="hl"/>
<path d="M1026.50 901.30 C1022.57 902.43 1018.00 902.37 1014.70 904.70 C1011.08 907.26 1007.86 911.97 1006.10 916.70 C1004.11 922.06 1004.97 929.30 1004.40 935.60" class="hl"/>
<path d="M680.20 1013.60 C682.80 1013.07 685.27 1012.42 688.00 1012.00 C690.98 1011.54 694.59 1010.47 697.40 1011.00 C699.93 1011.47 702.11 1012.72 704.20 1014.50 C706.78 1016.70 708.81 1020.46 711.10 1023.90 C713.71 1027.81 716.30 1032.50 718.90 1036.80" class="hl"/>
<path d="M627.90 993.50 C628.60 990.73 629.30 987.91 630.00 985.20 C630.67 982.58 631.34 980.21 632.00 977.50 C632.74 974.50 633.46 970.62 634.20 968.00 C634.73 966.11 635.03 964.51 635.80 963.20 C636.46 962.09 637.40 960.74 638.30 960.50 C639.03 960.30 639.83 960.97 640.60 961.20" class="hl"/>
<ellipse cx="631.2" cy="768.4" rx="27.6" ry="9.9" transform="rotate(-2.0 631.2 768.4)" class="he"/>
<ellipse cx="603.0" cy="989.0" rx="26.5" ry="9.6" transform="rotate(15.0 603.0 989.0)" class="he"/>
<ellipse cx="761.0" cy="694.6" rx="33.2" ry="10.0" transform="rotate(33.0 761.0 694.6)" class="he"/>
<ellipse cx="936.8" cy="573.8" rx="18.2" ry="7.2" transform="rotate(-4.0 936.8 573.8)" class="he"/>
<ellipse cx="1083.2" cy="677.6" rx="7.2" ry="19.5" transform="rotate(10.0 1083.2 677.6)" class="he"/>
</g>
<g transform="translate(1347.9 0.5)">
<path d="M640.60 961.20 C642.13 964.91 643.77 968.58 645.20 972.33 C646.63 976.07 647.95 979.85 649.18 983.67 C650.40 987.49 651.46 991.36 652.56 995.22 C653.66 999.08 654.72 1002.95 655.78 1006.83 C656.84 1010.70 657.87 1014.58 658.91 1018.46 C659.94 1022.33 660.97 1026.21 662.00 1030.09 C663.03 1033.97 664.05 1037.86 665.08 1041.74 C666.12 1045.62 667.14 1049.50 668.21 1053.37 C669.28 1057.24 670.36 1061.10 671.49 1064.95 C672.62 1068.80 673.74 1072.66 674.99 1076.47 C676.24 1080.28 677.62 1084.05 678.99 1087.82 C680.37 1091.59 681.78 1095.35 683.25 1099.09 C684.71 1102.82 686.23 1106.54 687.78 1110.24 C689.34 1113.94 690.98 1117.60 692.60 1121.28 C694.22 1124.95 695.84 1128.62 697.50 1132.28 C699.15 1135.94 700.84 1139.58 702.53 1143.22 C704.22 1146.86 705.91 1150.50 707.63 1154.13 C709.36 1157.75 711.11 1161.37 712.88 1164.97 C714.66 1168.57 716.42 1172.17 718.28 1175.73 C720.13 1179.29 722.00 1182.84 724.02 1186.31 C726.03 1189.77 728.08 1193.23 730.37 1196.50 C732.66 1199.77 735.18 1202.90 737.78 1205.93 C740.38 1208.97 743.12 1211.91 745.98 1214.72 C748.83 1217.52 751.85 1220.17 754.90 1222.76 C757.96 1225.34 761.10 1227.86 764.33 1230.23 C767.56 1232.60 770.92 1234.78 774.28 1236.96 C777.65 1239.14 781.12 1241.17 784.53 1243.28 C787.95 1245.39 791.36 1247.51 794.77 1249.62 C798.19 1251.73 801.55 1253.93 805.02 1255.93 C808.49 1257.93 812.00 1259.87 815.59 1261.64 C819.18 1263.42 822.90 1264.95 826.57 1266.57 C830.24 1268.19 833.93 1269.78 837.61 1271.36 C841.30 1272.95 844.97 1274.59 848.69 1276.09 C852.40 1277.60 856.15 1279.04 859.92 1280.40 C863.69 1281.77 867.51 1283.00 871.32 1284.28 C875.12 1285.57 878.93 1286.85 882.74 1288.10 C886.55 1289.35 890.35 1290.65 894.20 1291.79 C898.04 1292.93 901.92 1293.96 905.81 1294.96 C909.69 1295.96 913.61 1296.86 917.51 1297.79 C921.41 1298.73 925.31 1299.70 929.22 1300.59 C933.14 1301.49 937.04 1302.41 940.98 1303.15 C944.92 1303.89 948.90 1304.45 952.87 1305.03 C956.84 1305.61 960.82 1306.12 964.80 1306.64 C968.78 1307.15 972.76 1307.74 976.75 1308.13 C980.73 1308.53 984.73 1308.81 988.74 1309.00 C992.74 1309.19 996.76 1309.24 1000.77 1309.26 C1004.78 1309.28 1008.80 1309.44 1012.78 1309.15 C1016.75 1308.85 1020.70 1308.23 1024.61 1307.49 C1028.54 1306.74 1032.44 1305.70 1036.31 1304.69 C1040.18 1303.68 1044.12 1302.80 1047.85 1301.42 C1051.57 1300.04 1055.14 1298.27 1058.66 1296.42 C1062.20 1294.57 1065.58 1292.37 1069.01 1290.29 C1072.44 1288.21 1075.94 1286.22 1079.24 1283.96 C1082.53 1281.71 1085.75 1279.34 1088.78 1276.76 C1091.82 1274.17 1094.60 1271.25 1097.45 1268.44 C1100.31 1265.63 1103.24 1262.85 1105.91 1259.88 C1108.56 1256.92 1111.22 1253.94 1113.42 1250.66 C1115.62 1247.37 1117.33 1243.72 1119.12 1240.16 C1120.91 1236.58 1122.64 1232.94 1124.15 1229.24 C1125.67 1225.54 1127.03 1221.77 1128.21 1217.96 C1129.39 1214.13 1130.36 1210.23 1131.23 1206.32 C1132.11 1202.42 1132.93 1198.50 1133.45 1194.54 C1133.97 1190.58 1134.12 1186.56 1134.34 1182.56 C1134.57 1178.56 1134.72 1174.54 1134.82 1170.53 C1134.92 1166.52 1134.99 1162.51 1134.95 1158.50 C1134.91 1154.49 1134.72 1150.47 1134.57 1146.46 C1134.42 1142.45 1134.27 1138.44 1134.04 1134.43 C1133.81 1130.43 1133.53 1126.43 1133.17 1122.43 C1132.82 1118.43 1132.35 1114.44 1131.92 1110.45 C1131.49 1106.46 1131.06 1102.47 1130.57 1098.49 C1130.08 1094.50 1129.54 1090.53 1128.97 1086.55 C1128.39 1082.58 1127.73 1078.62 1127.10 1074.66 C1126.47 1070.69 1125.85 1066.73 1125.19 1062.77 C1124.52 1058.81 1123.90 1054.84 1123.11 1050.91 C1122.33 1046.98 1121.42 1043.07 1120.49 1039.16 C1119.57 1035.26 1118.58 1031.37 1117.59 1027.48 C1116.60 1023.59 1115.63 1019.69 1114.57 1015.82 C1113.52 1011.95 1112.39 1008.10 1111.26 1004.24 C1110.13 1000.39 1108.99 996.54 1107.81 992.71 C1106.62 988.87 1105.46 985.03 1104.14 981.25 C1102.81 977.46 1101.34 973.73 1099.85 970.00 C1098.36 966.28 1096.89 962.53 1095.22 958.89 C1093.56 955.26 1091.81 951.65 1089.84 948.18 C1087.87 944.70 1085.59 941.39 1083.38 938.04 C1081.17 934.70 1078.94 931.35 1076.59 928.11 C1074.23 924.87 1071.75 921.71 1069.24 918.58 C1066.73 915.46 1064.14 912.39 1061.52 909.35 C1058.89 906.32 1056.22 903.33 1053.50 900.37 C1050.79 897.41 1047.72 894.23 1045.24 891.61 C1043.21 889.48 1041.55 887.74 1039.70 885.80 L1039.70 885.80 C1037.10 887.03 1033.94 887.72 1031.90 889.50 C1029.95 891.20 1028.36 893.53 1027.60 896.10 C1026.73 899.04 1027.05 902.76 1027.60 906.40 C1028.26 910.71 1030.49 915.82 1031.90 920.20 C1033.19 924.19 1034.45 927.80 1035.70 931.61 C1036.96 935.42 1038.27 939.21 1039.42 943.05 C1040.58 946.89 1041.62 950.76 1042.65 954.63 C1043.68 958.51 1044.62 962.40 1045.59 966.30 C1046.55 970.19 1047.55 974.07 1048.45 977.98 C1049.35 981.88 1050.17 985.81 1050.99 989.73 C1051.80 993.66 1052.59 997.59 1053.36 1001.53 C1054.12 1005.46 1054.93 1009.39 1055.55 1013.35 C1056.16 1017.31 1056.59 1021.29 1057.04 1025.27 C1057.48 1029.26 1057.86 1033.25 1058.22 1037.25 C1058.59 1041.24 1058.99 1045.23 1059.23 1049.23 C1059.46 1053.23 1059.54 1057.24 1059.65 1061.24 C1059.76 1065.25 1059.83 1069.26 1059.91 1073.27 C1059.98 1077.28 1060.12 1081.29 1060.13 1085.30 C1060.13 1089.30 1060.08 1093.31 1059.94 1097.32 C1059.80 1101.32 1059.52 1105.32 1059.28 1109.33 C1059.04 1113.33 1058.86 1117.34 1058.51 1121.33 C1058.16 1125.32 1057.72 1129.30 1057.16 1133.26 C1056.60 1137.23 1056.00 1141.21 1055.14 1145.11 C1054.29 1149.00 1053.29 1152.88 1052.03 1156.66 C1050.77 1160.44 1049.22 1164.17 1047.56 1167.80 C1045.91 1171.43 1044.15 1175.02 1042.11 1178.44 C1040.07 1181.87 1037.40 1185.41 1035.34 1188.36 C1033.66 1190.77 1032.80 1192.87 1030.70 1194.90 C1028.09 1197.43 1023.37 1201.56 1020.30 1201.80 C1018.05 1201.98 1016.45 1200.76 1014.20 1199.00 C1009.91 1195.63 1002.83 1185.34 999.00 1179.80 C996.30 1175.90 994.83 1172.84 992.74 1169.37 C990.65 1165.90 988.58 1162.41 986.46 1158.96 C984.33 1155.51 982.18 1152.07 979.99 1148.66 C977.80 1145.25 975.55 1141.87 973.31 1138.50 C971.06 1135.12 968.81 1131.75 966.53 1128.40 C964.24 1125.05 961.94 1121.71 959.63 1118.38 C957.31 1115.05 955.01 1111.72 952.65 1108.42 C950.29 1105.13 947.92 1101.84 945.48 1098.60 C943.03 1095.37 940.50 1092.21 937.99 1089.02 C935.49 1085.83 932.96 1082.67 930.46 1079.47 C927.96 1076.28 925.48 1073.07 923.00 1069.86 C920.52 1066.65 918.05 1063.44 915.58 1060.23 C913.11 1057.01 910.63 1053.81 908.16 1050.59 C905.70 1047.36 903.25 1044.14 900.81 1040.90 C898.37 1037.66 895.96 1034.40 893.53 1031.15 C891.10 1027.91 888.68 1024.65 886.21 1021.44 C883.74 1018.23 881.24 1015.03 878.70 1011.88 C876.15 1008.72 873.56 1005.60 870.95 1002.51 C868.33 999.41 865.76 996.27 863.00 993.30 C860.24 990.33 857.12 986.68 854.40 984.70 C852.42 983.27 850.37 982.20 848.70 981.80 C847.52 981.52 846.43 981.32 845.50 981.80 C844.35 982.40 843.23 984.26 842.70 985.80 C842.12 987.48 842.25 989.49 842.40 991.60 C842.59 994.20 843.17 997.20 844.10 1000.20 C845.20 1003.75 847.26 1007.70 848.92 1011.42 C850.59 1015.13 852.36 1018.80 854.08 1022.48 C855.81 1026.17 857.49 1029.88 859.29 1033.53 C861.09 1037.18 862.98 1040.78 864.91 1044.36 C866.84 1047.95 868.88 1051.47 870.86 1055.03 C872.84 1058.58 874.85 1062.13 876.79 1065.71 C878.72 1069.29 880.60 1072.90 882.49 1076.51 C884.37 1080.12 886.25 1083.73 888.10 1087.35 C889.96 1090.98 891.85 1094.58 893.61 1098.25 C895.37 1101.92 897.02 1105.64 898.67 1109.36 C900.33 1113.08 901.93 1116.82 903.56 1120.55 C905.18 1124.29 906.84 1128.01 908.44 1131.75 C910.05 1135.49 911.70 1139.21 913.19 1142.99 C914.68 1146.78 916.07 1150.61 917.37 1154.46 C918.66 1158.31 919.92 1162.19 920.96 1166.11 C922.00 1170.04 922.76 1174.04 923.60 1178.02 C924.44 1182.01 925.11 1185.64 926.00 1190.00 C927.07 1195.24 929.50 1202.00 929.60 1207.30 C929.68 1211.77 929.23 1215.78 927.50 1219.70 C925.58 1224.07 922.08 1228.65 917.90 1232.00 C913.18 1235.78 906.13 1238.96 900.00 1240.50 C894.15 1241.97 887.53 1241.83 882.00 1241.40 C877.18 1241.02 872.84 1239.78 868.60 1238.60 C864.62 1237.49 861.03 1235.97 857.26 1234.63 C853.48 1233.30 849.65 1232.10 845.95 1230.58 C842.27 1229.06 838.64 1227.38 835.12 1225.53 C831.58 1223.67 828.20 1221.50 824.77 1219.44 C821.34 1217.38 817.87 1215.36 814.53 1213.15 C811.19 1210.95 807.90 1208.66 804.73 1206.23 C801.56 1203.79 798.53 1201.17 795.51 1198.54 C792.50 1195.91 789.57 1193.17 786.66 1190.42 C783.75 1187.67 780.89 1184.86 778.05 1182.04 C775.21 1179.22 772.37 1176.39 769.61 1173.49 C766.85 1170.59 764.12 1167.65 761.49 1164.63 C758.86 1161.62 756.25 1158.58 753.82 1155.41 C751.39 1152.23 749.15 1148.90 746.93 1145.58 C744.71 1142.25 742.50 1138.90 740.50 1135.44 C738.49 1131.98 736.73 1128.39 734.90 1124.82 C733.08 1121.26 731.32 1117.66 729.55 1114.06 C727.79 1110.46 726.02 1106.87 724.32 1103.25 C722.61 1099.62 720.98 1095.96 719.32 1092.32 C717.67 1088.67 716.04 1085.01 714.38 1081.36 C712.72 1077.71 711.08 1074.06 709.36 1070.44 C707.64 1066.83 705.84 1063.25 704.06 1059.66 C702.28 1056.07 700.49 1052.49 698.67 1048.92 C696.85 1045.35 695.04 1041.77 693.15 1038.24 C691.26 1034.71 689.27 1031.23 687.33 1027.73 C685.38 1024.23 683.39 1020.76 681.46 1017.24 C679.54 1013.73 677.65 1010.20 675.79 1006.65 C673.93 1003.10 671.94 999.16 670.31 995.95 C668.98 993.33 668.03 991.25 666.70 988.80 C665.25 986.12 663.69 982.98 661.90 980.50 C660.23 978.19 658.40 976.31 656.40 974.30 C654.29 972.17 651.99 970.18 649.50 968.10 C646.76 965.81 643.57 963.50 640.60 961.20 Z" fill="#cdcdcd" stroke="none"/>
<path d="M640.60 961.20 C642.13 964.91 643.77 968.58 645.20 972.33 C646.63 976.07 647.95 979.85 649.18 983.67 C650.40 987.49 651.46 991.36 652.56 995.22 C653.66 999.08 654.72 1002.95 655.78 1006.83 C656.84 1010.70 657.87 1014.58 658.91 1018.46 C659.94 1022.33 660.97 1026.21 662.00 1030.09 C663.03 1033.97 664.05 1037.86 665.08 1041.74 C666.12 1045.62 667.14 1049.50 668.21 1053.37 C669.28 1057.24 670.36 1061.10 671.49 1064.95 C672.62 1068.80 673.74 1072.66 674.99 1076.47 C676.24 1080.28 677.62 1084.05 678.99 1087.82 C680.37 1091.59 681.78 1095.35 683.25 1099.09 C684.71 1102.82 686.23 1106.54 687.78 1110.24 C689.34 1113.94 690.98 1117.60 692.60 1121.28 C694.22 1124.95 695.84 1128.62 697.50 1132.28 C699.15 1135.94 700.84 1139.58 702.53 1143.22 C704.22 1146.86 705.91 1150.50 707.63 1154.13 C709.36 1157.75 711.11 1161.37 712.88 1164.97 C714.66 1168.57 716.42 1172.17 718.28 1175.73 C720.13 1179.29 722.00 1182.84 724.02 1186.31 C726.03 1189.77 728.08 1193.23 730.37 1196.50 C732.66 1199.77 735.18 1202.90 737.78 1205.93 C740.38 1208.97 743.12 1211.91 745.98 1214.72 C748.83 1217.52 751.85 1220.17 754.90 1222.76 C757.96 1225.34 761.10 1227.86 764.33 1230.23 C767.56 1232.60 770.92 1234.78 774.28 1236.96 C777.65 1239.14 781.12 1241.17 784.53 1243.28 C787.95 1245.39 791.36 1247.51 794.77 1249.62 C798.19 1251.73 801.55 1253.93 805.02 1255.93 C808.49 1257.93 812.00 1259.87 815.59 1261.64 C819.18 1263.42 822.90 1264.95 826.57 1266.57 C830.24 1268.19 833.93 1269.78 837.61 1271.36 C841.30 1272.95 844.97 1274.59 848.69 1276.09 C852.40 1277.60 856.15 1279.04 859.92 1280.40 C863.69 1281.77 867.51 1283.00 871.32 1284.28 C875.12 1285.57 878.93 1286.85 882.74 1288.10 C886.55 1289.35 890.35 1290.65 894.20 1291.79 C898.04 1292.93 901.92 1293.96 905.81 1294.96 C909.69 1295.96 913.61 1296.86 917.51 1297.79 C921.41 1298.73 925.31 1299.70 929.22 1300.59 C933.14 1301.49 937.04 1302.41 940.98 1303.15 C944.92 1303.89 948.90 1304.45 952.87 1305.03 C956.84 1305.61 960.82 1306.12 964.80 1306.64 C968.78 1307.15 972.76 1307.74 976.75 1308.13 C980.73 1308.53 984.73 1308.81 988.74 1309.00 C992.74 1309.19 996.76 1309.24 1000.77 1309.26 C1004.78 1309.28 1008.80 1309.44 1012.78 1309.15 C1016.75 1308.85 1020.70 1308.23 1024.61 1307.49 C1028.54 1306.74 1032.44 1305.70 1036.31 1304.69 C1040.18 1303.68 1044.12 1302.80 1047.85 1301.42 C1051.57 1300.04 1055.14 1298.27 1058.66 1296.42 C1062.20 1294.57 1065.58 1292.37 1069.01 1290.29 C1072.44 1288.21 1075.94 1286.22 1079.24 1283.96 C1082.53 1281.71 1085.75 1279.34 1088.78 1276.76 C1091.82 1274.17 1094.60 1271.25 1097.45 1268.44 C1100.31 1265.63 1103.24 1262.85 1105.91 1259.88 C1108.56 1256.92 1111.22 1253.94 1113.42 1250.66 C1115.62 1247.37 1117.33 1243.72 1119.12 1240.16 C1120.91 1236.58 1122.64 1232.94 1124.15 1229.24 C1125.67 1225.54 1127.03 1221.77 1128.21 1217.96 C1129.39 1214.13 1130.36 1210.23 1131.23 1206.32 C1132.11 1202.42 1132.93 1198.50 1133.45 1194.54 C1133.97 1190.58 1134.12 1186.56 1134.34 1182.56 C1134.57 1178.56 1134.72 1174.54 1134.82 1170.53 C1134.92 1166.52 1134.99 1162.51 1134.95 1158.50 C1134.91 1154.49 1134.72 1150.47 1134.57 1146.46 C1134.42 1142.45 1134.27 1138.44 1134.04 1134.43 C1133.81 1130.43 1133.53 1126.43 1133.17 1122.43 C1132.82 1118.43 1132.35 1114.44 1131.92 1110.45 C1131.49 1106.46 1131.06 1102.47 1130.57 1098.49 C1130.08 1094.50 1129.54 1090.53 1128.97 1086.55 C1128.39 1082.58 1127.73 1078.62 1127.10 1074.66 C1126.47 1070.69 1125.85 1066.73 1125.19 1062.77 C1124.52 1058.81 1123.90 1054.84 1123.11 1050.91 C1122.33 1046.98 1121.42 1043.07 1120.49 1039.16 C1119.57 1035.26 1118.58 1031.37 1117.59 1027.48 C1116.60 1023.59 1115.63 1019.69 1114.57 1015.82 C1113.52 1011.95 1112.39 1008.10 1111.26 1004.24 C1110.13 1000.39 1108.99 996.54 1107.81 992.71 C1106.62 988.87 1105.46 985.03 1104.14 981.25 C1102.81 977.46 1101.34 973.73 1099.85 970.00 C1098.36 966.28 1096.89 962.53 1095.22 958.89 C1093.56 955.26 1091.81 951.65 1089.84 948.18 C1087.87 944.70 1085.59 941.39 1083.38 938.04 C1081.17 934.70 1078.94 931.35 1076.59 928.11 C1074.23 924.87 1071.75 921.71 1069.24 918.58 C1066.73 915.46 1064.14 912.39 1061.52 909.35 C1058.89 906.32 1056.22 903.33 1053.50 900.37 C1050.79 897.41 1047.72 894.23 1045.24 891.61 C1043.21 889.48 1041.55 887.74 1039.70 885.80" class="ho"/>
<path d="M1039.70 885.80 C1037.10 887.03 1033.94 887.72 1031.90 889.50 C1029.95 891.20 1028.36 893.53 1027.60 896.10 C1026.73 899.04 1027.05 902.76 1027.60 906.40 C1028.26 910.71 1030.49 915.82 1031.90 920.20 C1033.19 924.19 1034.45 927.80 1035.70 931.61 C1036.96 935.42 1038.27 939.21 1039.42 943.05 C1040.58 946.89 1041.62 950.76 1042.65 954.63 C1043.68 958.51 1044.62 962.40 1045.59 966.30 C1046.55 970.19 1047.55 974.07 1048.45 977.98 C1049.35 981.88 1050.17 985.81 1050.99 989.73 C1051.80 993.66 1052.59 997.59 1053.36 1001.53 C1054.12 1005.46 1054.93 1009.39 1055.55 1013.35 C1056.16 1017.31 1056.59 1021.29 1057.04 1025.27 C1057.48 1029.26 1057.86 1033.25 1058.22 1037.25 C1058.59 1041.24 1058.99 1045.23 1059.23 1049.23 C1059.46 1053.23 1059.54 1057.24 1059.65 1061.24 C1059.76 1065.25 1059.83 1069.26 1059.91 1073.27 C1059.98 1077.28 1060.12 1081.29 1060.13 1085.30 C1060.13 1089.30 1060.08 1093.31 1059.94 1097.32 C1059.80 1101.32 1059.52 1105.32 1059.28 1109.33 C1059.04 1113.33 1058.86 1117.34 1058.51 1121.33 C1058.16 1125.32 1057.72 1129.30 1057.16 1133.26 C1056.60 1137.23 1056.00 1141.21 1055.14 1145.11 C1054.29 1149.00 1053.29 1152.88 1052.03 1156.66 C1050.77 1160.44 1049.22 1164.17 1047.56 1167.80 C1045.91 1171.43 1044.15 1175.02 1042.11 1178.44 C1040.07 1181.87 1037.40 1185.41 1035.34 1188.36 C1033.66 1190.77 1032.80 1192.87 1030.70 1194.90 C1028.09 1197.43 1023.37 1201.56 1020.30 1201.80 C1018.05 1201.98 1016.45 1200.76 1014.20 1199.00 C1009.91 1195.63 1002.83 1185.34 999.00 1179.80 C996.30 1175.90 994.83 1172.84 992.74 1169.37 C990.65 1165.90 988.58 1162.41 986.46 1158.96 C984.33 1155.51 982.18 1152.07 979.99 1148.66 C977.80 1145.25 975.55 1141.87 973.31 1138.50 C971.06 1135.12 968.81 1131.75 966.53 1128.40 C964.24 1125.05 961.94 1121.71 959.63 1118.38 C957.31 1115.05 955.01 1111.72 952.65 1108.42 C950.29 1105.13 947.92 1101.84 945.48 1098.60 C943.03 1095.37 940.50 1092.21 937.99 1089.02 C935.49 1085.83 932.96 1082.67 930.46 1079.47 C927.96 1076.28 925.48 1073.07 923.00 1069.86 C920.52 1066.65 918.05 1063.44 915.58 1060.23 C913.11 1057.01 910.63 1053.81 908.16 1050.59 C905.70 1047.36 903.25 1044.14 900.81 1040.90 C898.37 1037.66 895.96 1034.40 893.53 1031.15 C891.10 1027.91 888.68 1024.65 886.21 1021.44 C883.74 1018.23 881.24 1015.03 878.70 1011.88 C876.15 1008.72 873.56 1005.60 870.95 1002.51 C868.33 999.41 865.76 996.27 863.00 993.30 C860.24 990.33 857.12 986.68 854.40 984.70 C852.42 983.27 850.37 982.20 848.70 981.80 C847.52 981.52 846.43 981.32 845.50 981.80 C844.35 982.40 843.23 984.26 842.70 985.80 C842.12 987.48 842.25 989.49 842.40 991.60 C842.59 994.20 843.17 997.20 844.10 1000.20 C845.20 1003.75 847.26 1007.70 848.92 1011.42 C850.59 1015.13 852.36 1018.80 854.08 1022.48 C855.81 1026.17 857.49 1029.88 859.29 1033.53 C861.09 1037.18 862.98 1040.78 864.91 1044.36 C866.84 1047.95 868.88 1051.47 870.86 1055.03 C872.84 1058.58 874.85 1062.13 876.79 1065.71 C878.72 1069.29 880.60 1072.90 882.49 1076.51 C884.37 1080.12 886.25 1083.73 888.10 1087.35 C889.96 1090.98 891.85 1094.58 893.61 1098.25 C895.37 1101.92 897.02 1105.64 898.67 1109.36 C900.33 1113.08 901.93 1116.82 903.56 1120.55 C905.18 1124.29 906.84 1128.01 908.44 1131.75 C910.05 1135.49 911.70 1139.21 913.19 1142.99 C914.68 1146.78 916.07 1150.61 917.37 1154.46 C918.66 1158.31 919.92 1162.19 920.96 1166.11 C922.00 1170.04 922.76 1174.04 923.60 1178.02 C924.44 1182.01 925.11 1185.64 926.00 1190.00 C927.07 1195.24 929.50 1202.00 929.60 1207.30 C929.68 1211.77 929.23 1215.78 927.50 1219.70 C925.58 1224.07 922.08 1228.65 917.90 1232.00 C913.18 1235.78 906.13 1238.96 900.00 1240.50 C894.15 1241.97 887.53 1241.83 882.00 1241.40 C877.18 1241.02 872.84 1239.78 868.60 1238.60 C864.62 1237.49 861.03 1235.97 857.26 1234.63 C853.48 1233.30 849.65 1232.10 845.95 1230.58 C842.27 1229.06 838.64 1227.38 835.12 1225.53 C831.58 1223.67 828.20 1221.50 824.77 1219.44 C821.34 1217.38 817.87 1215.36 814.53 1213.15 C811.19 1210.95 807.90 1208.66 804.73 1206.23 C801.56 1203.79 798.53 1201.17 795.51 1198.54 C792.50 1195.91 789.57 1193.17 786.66 1190.42 C783.75 1187.67 780.89 1184.86 778.05 1182.04 C775.21 1179.22 772.37 1176.39 769.61 1173.49 C766.85 1170.59 764.12 1167.65 761.49 1164.63 C758.86 1161.62 756.25 1158.58 753.82 1155.41 C751.39 1152.23 749.15 1148.90 746.93 1145.58 C744.71 1142.25 742.50 1138.90 740.50 1135.44 C738.49 1131.98 736.73 1128.39 734.90 1124.82 C733.08 1121.26 731.32 1117.66 729.55 1114.06 C727.79 1110.46 726.02 1106.87 724.32 1103.25 C722.61 1099.62 720.98 1095.96 719.32 1092.32 C717.67 1088.67 716.04 1085.01 714.38 1081.36 C712.72 1077.71 711.08 1074.06 709.36 1070.44 C707.64 1066.83 705.84 1063.25 704.06 1059.66 C702.28 1056.07 700.49 1052.49 698.67 1048.92 C696.85 1045.35 695.04 1041.77 693.15 1038.24 C691.26 1034.71 689.27 1031.23 687.33 1027.73 C685.38 1024.23 683.39 1020.76 681.46 1017.24 C679.54 1013.73 677.65 1010.20 675.79 1006.65 C673.93 1003.10 671.94 999.16 670.31 995.95 C668.98 993.33 668.03 991.25 666.70 988.80 C665.25 986.12 663.69 982.98 661.90 980.50 C660.23 978.19 658.40 976.31 656.40 974.30 C654.29 972.17 651.99 970.18 649.50 968.10 C646.76 965.81 643.57 963.50 640.60 961.20" class="hl"/>
<path d="M603.60 770.00 C603.02 774.01 602.41 778.02 601.85 782.04 C601.29 786.05 600.72 790.07 600.24 794.09 C599.77 798.12 599.39 802.16 598.98 806.19 C598.57 810.23 598.17 814.26 597.77 818.30 C597.37 822.33 596.96 826.37 596.56 830.40 C596.17 834.44 595.79 838.47 595.41 842.51 C595.03 846.55 594.68 850.59 594.29 854.62 C593.89 858.66 593.47 862.69 593.02 866.72 C592.57 870.75 592.11 874.78 591.57 878.80 C591.03 882.82 590.39 886.82 589.77 890.83 C589.15 894.83 588.49 898.84 587.85 902.84 C587.21 906.84 586.56 910.85 585.92 914.85 C585.28 918.86 584.64 922.86 584.00 926.86 C583.36 930.87 582.73 934.87 582.09 938.88 C581.45 942.88 580.81 946.89 580.15 950.89 C579.49 954.89 578.67 958.87 578.15 962.88 C577.63 966.89 577.10 971.33 577.03 974.94 C576.98 977.90 577.34 980.31 577.50 983.00" class="hl"/>
<path d="M658.80 769.00 C659.07 771.27 659.66 773.47 659.60 775.80 C659.54 778.29 658.29 781.45 658.30 783.50 C658.31 784.86 658.23 785.69 658.90 786.90 C660.06 788.99 663.47 791.79 666.60 793.80 C670.36 796.22 675.37 798.38 680.30 799.80 C685.61 801.34 692.49 802.43 697.50 802.40 C701.40 802.38 704.84 801.53 707.90 800.70 C710.45 800.01 713.28 799.75 714.70 798.10 C716.18 796.38 716.15 793.43 716.40 790.40 C716.75 786.15 716.27 780.18 715.60 774.90 C714.89 769.29 712.95 764.04 712.10 757.70 C711.07 750.00 709.85 739.91 710.40 731.90 C710.89 724.80 712.68 717.85 714.50 712.00 C716.02 707.12 718.20 703.20 720.00 699.00 C721.70 695.04 722.96 691.20 725.00 687.50 C727.10 683.69 730.00 680.17 732.50 676.50" class="hl"/>
<path d="M711.30 800.20 C718.17 801.80 725.09 802.95 731.90 805.00 C738.86 807.10 745.71 809.77 752.60 812.70 C759.74 815.74 766.87 819.57 774.00 823.00" class="hl"/>
<path d="M789.50 713.50 C788.63 717.33 788.07 721.31 786.90 725.00 C785.76 728.60 783.63 732.27 782.60 735.40 C781.78 737.87 781.31 739.67 780.90 742.20 C780.40 745.28 780.01 748.90 780.10 752.60 C780.20 756.86 780.63 761.96 781.80 766.30 C782.93 770.52 784.90 774.73 786.90 778.30 C788.69 781.51 790.97 784.03 793.00 786.90" class="hl"/>
<path d="M781.20 742.50 C783.70 743.27 785.72 744.26 788.70 744.80 C792.88 745.55 798.84 745.94 804.10 745.70 C809.69 745.44 815.93 744.34 821.30 743.10 C826.20 741.97 830.50 740.23 835.10 738.80" class="hl"/>
<path d="M753.20 1023.90 C753.04 1019.89 752.86 1015.88 752.73 1011.87 C752.61 1007.87 752.49 1003.86 752.45 999.85 C752.40 995.84 752.41 991.82 752.45 987.81 C752.49 983.80 752.59 979.79 752.69 975.78 C752.80 971.77 752.94 967.76 753.10 963.75 C753.25 959.75 753.42 955.74 753.61 951.73 C753.80 947.72 754.00 943.72 754.21 939.71 C754.43 935.71 754.66 931.70 754.91 927.70 C755.15 923.69 755.38 919.69 755.70 915.69 C756.01 911.69 756.37 907.70 756.80 903.71 C757.22 899.72 757.69 895.74 758.24 891.76 C758.79 887.79 759.40 883.83 760.10 879.88 C760.79 875.94 761.59 872.00 762.41 868.08 C763.23 864.15 764.09 860.23 765.03 856.33 C765.96 852.43 766.95 848.55 768.01 844.68 C769.07 840.81 770.16 836.95 771.39 833.14 C772.63 829.33 773.97 825.55 775.42 821.81 C776.87 818.08 778.37 814.37 780.08 810.75 C781.80 807.14 783.74 803.63 785.70 800.13 C787.65 796.64 789.66 793.16 791.81 789.78 C793.97 786.41 796.29 783.14 798.62 779.88 C800.94 776.61 803.30 773.36 805.76 770.20 C808.22 767.05 810.73 763.92 813.38 760.93 C816.04 757.93 818.90 755.11 821.71 752.26 C824.52 749.40 827.33 746.53 830.25 743.79 C833.18 741.06 836.18 738.41 839.25 735.84 C842.32 733.28 845.57 730.91 848.69 728.39 C851.80 725.86 854.88 723.30 857.94 720.70 C860.99 718.10 863.99 715.44 867.01 712.80 C870.03 710.15 873.02 707.47 876.05 704.85 C879.08 702.22 882.14 699.63 885.21 697.04 C888.27 694.46 891.50 692.06 894.45 689.36 C897.39 686.68 900.45 684.02 902.87 680.92 C905.28 677.85 907.32 674.41 908.95 670.86 C910.59 667.28 911.57 663.34 912.65 659.50 C913.72 655.65 914.57 651.72 915.39 647.80 C916.21 643.88 916.95 639.93 917.57 635.97 C918.18 632.02 918.72 628.03 919.09 624.05 C919.47 620.07 919.74 616.07 919.82 612.07 C919.90 608.07 919.67 604.06 919.55 600.06 C919.44 596.05 919.26 592.04 919.14 588.03 C919.01 584.02 918.91 580.01 918.80 576.00" class="hl"/>
<path d="M953.70 573.50 C955.13 577.60 956.99 580.87 958.00 585.80 C959.42 592.75 959.77 603.49 959.70 611.60 C959.64 618.86 958.59 625.65 958.00 632.20 C957.46 638.19 955.91 644.01 956.30 649.40 C956.65 654.28 957.54 659.39 959.70 663.20 C961.69 666.71 965.14 670.40 968.30 671.70 C970.96 672.79 973.47 672.25 976.90 671.70 C982.35 670.82 990.59 666.96 997.50 664.90 C1004.36 662.86 1011.12 660.70 1018.20 659.40 C1025.44 658.07 1032.79 657.62 1040.50 657.10 C1048.78 656.55 1059.05 656.28 1066.30 656.30 C1071.58 656.31 1076.21 656.28 1080.00 656.80 C1082.74 657.18 1085.34 657.57 1087.00 658.50 C1088.16 659.15 1088.67 660.17 1089.50 661.00" class="hl"/>
<path d="M1081.50 697.20 C1075.30 697.30 1069.39 697.56 1062.90 697.50 C1055.78 697.43 1047.64 696.51 1040.50 696.70 C1033.93 696.88 1027.52 697.16 1021.60 698.40 C1016.11 699.55 1011.69 701.49 1006.10 703.60 C999.30 706.17 991.03 709.67 983.80 713.00 C976.74 716.25 968.32 720.09 963.20 723.30 C959.85 725.40 956.95 727.25 955.40 729.30 C954.34 730.71 953.75 732.09 953.70 733.60 C953.65 735.24 954.11 737.16 955.40 738.80 C957.40 741.34 962.11 743.47 966.60 745.70 C972.65 748.70 981.68 751.12 988.90 754.30 C996.00 757.43 1003.38 760.69 1009.60 764.60 C1015.31 768.20 1020.85 772.27 1025.00 776.60 C1028.62 780.38 1030.94 784.07 1033.60 788.70 C1036.75 794.17 1039.64 801.10 1042.20 807.60 C1044.82 814.25 1047.51 821.25 1049.10 828.20 C1050.65 834.99 1052.00 842.99 1051.70 848.80 C1051.48 853.12 1050.55 856.31 1049.10 860.00 C1047.51 864.05 1044.05 868.52 1042.20 872.00 C1040.82 874.59 1039.19 876.54 1038.80 878.90 C1038.43 881.15 1039.40 883.50 1039.70 885.80" class="hl"/>
<path d="M953.70 733.60 C946.53 738.20 939.14 742.31 932.20 747.40 C925.09 752.62 918.28 758.26 911.60 764.60 C904.49 771.35 897.24 779.10 890.90 786.90 C884.65 794.58 878.91 802.50 873.80 811.00 C868.59 819.68 863.73 829.79 860.00 838.50 C856.79 846.00 854.54 853.21 852.30 860.00 C850.31 866.03 848.54 870.41 847.10 877.20 C845.10 886.63 843.80 900.11 842.80 911.60 C841.80 923.05 841.21 938.24 841.10 946.00 C841.05 949.97 841.08 951.79 841.30 955.00 C841.56 958.72 842.25 962.87 842.70 967.00 C843.18 971.41 843.63 976.13 844.10 980.70" class="hl"/>
<path d="M752.60 988.90 C757.17 987.77 761.87 987.37 766.30 985.50 C771.06 983.49 776.57 980.34 780.10 976.90 C783.18 973.90 784.97 969.93 786.90 966.60 C788.60 963.66 789.77 960.87 791.20 958.00" class="hl"/>
<path d="M808.60 957.80 C809.17 959.90 809.32 961.92 810.30 964.10 C811.54 966.84 813.51 970.35 816.00 972.70 C818.61 975.17 822.54 977.11 825.80 978.40 C828.67 979.54 831.43 979.97 834.40 980.40 C837.52 980.86 840.87 980.80 844.10 981.00" class="hl"/>
<path d="M844.10 980.70 C847.53 979.37 850.71 978.30 854.40 976.70 C858.83 974.78 865.06 972.47 868.80 969.80 C871.71 967.72 873.97 965.47 875.60 962.90 C877.12 960.50 877.79 957.35 878.50 955.00 C879.06 953.16 879.30 951.67 879.70 950.00" class="hl"/>
<path d="M879.70 950.00 C881.73 950.17 883.70 950.70 885.80 950.50 C888.12 950.28 890.44 949.40 893.00 948.50 C896.09 947.41 899.96 945.99 903.00 944.20 C905.94 942.47 908.94 940.30 911.00 938.00 C912.79 936.01 913.77 934.08 915.00 931.50 C916.60 928.14 917.87 923.37 919.30 919.30" class="hl"/>
<path d="M851.00 862.50 C854.00 864.53 856.33 865.79 860.00 868.60 C866.50 873.58 876.62 883.04 885.80 890.90 C896.22 899.82 908.13 909.83 919.30 919.30" class="hl"/>
<path d="M919.30 919.30 C923.60 919.30 927.66 918.53 932.20 919.30 C937.59 920.21 944.60 922.58 949.40 925.30 C953.52 927.64 956.97 930.54 959.70 933.90 C962.36 937.17 963.70 941.37 965.70 945.10" class="hl"/>
<path d="M1026.50 901.30 C1022.57 902.43 1018.00 902.37 1014.70 904.70 C1011.08 907.26 1007.86 911.97 1006.10 916.70 C1004.11 922.06 1004.97 929.30 1004.40 935.60" class="hl"/>
<path d="M680.20 1013.60 C682.80 1013.07 685.27 1012.42 688.00 1012.00 C690.98 1011.54 694.59 1010.47 697.40 1011.00 C699.93 1011.47 702.11 1012.72 704.20 1014.50 C706.78 1016.70 708.81 1020.46 711.10 1023.90 C713.71 1027.81 716.30 1032.50 718.90 1036.80" class="hl"/>
<path d="M627.90 993.50 C628.60 990.73 629.30 987.91 630.00 985.20 C630.67 982.58 631.34 980.21 632.00 977.50 C632.74 974.50 633.46 970.62 634.20 968.00 C634.73 966.11 635.03 964.51 635.80 963.20 C636.46 962.09 637.40 960.74 638.30 960.50 C639.03 960.30 639.83 960.97 640.60 961.20" class="hl"/>
<ellipse cx="631.2" cy="768.4" rx="27.6" ry="9.9" transform="rotate(-2.0 631.2 768.4)" class="he"/>
<ellipse cx="603.0" cy="989.0" rx="26.5" ry="9.6" transform="rotate(15.0 603.0 989.0)" class="he"/>
<ellipse cx="761.0" cy="694.6" rx="33.2" ry="10.0" transform="rotate(33.0 761.0 694.6)" class="he"/>
<ellipse cx="936.8" cy="573.8" rx="18.2" ry="7.2" transform="rotate(-4.0 936.8 573.8)" class="he"/>
<ellipse cx="1083.2" cy="677.6" rx="7.2" ry="19.5" transform="rotate(10.0 1083.2 677.6)" class="he"/>
</g>
<g transform="translate(2012.2 1.0)">
<path d="M640.60 961.20 C642.13 964.91 643.77 968.58 645.20 972.33 C646.63 976.07 647.95 979.85 649.18 983.67 C650.40 987.49 651.46 991.36 652.56 995.22 C653.66 999.08 654.72 1002.95 655.78 1006.83 C656.84 1010.70 657.87 1014.58 658.91 1018.46 C659.94 1022.33 660.97 1026.21 662.00 1030.09 C663.03 1033.97 664.05 1037.86 665.08 1041.74 C666.12 1045.62 667.14 1049.50 668.21 1053.37 C669.28 1057.24 670.36 1061.10 671.49 1064.95 C672.62 1068.80 673.74 1072.66 674.99 1076.47 C676.24 1080.28 677.62 1084.05 678.99 1087.82 C680.37 1091.59 681.78 1095.35 683.25 1099.09 C684.71 1102.82 686.23 1106.54 687.78 1110.24 C689.34 1113.94 690.98 1117.60 692.60 1121.28 C694.22 1124.95 695.84 1128.62 697.50 1132.28 C699.15 1135.94 700.84 1139.58 702.53 1143.22 C704.22 1146.86 705.91 1150.50 707.63 1154.13 C709.36 1157.75 711.11 1161.37 712.88 1164.97 C714.66 1168.57 716.42 1172.17 718.28 1175.73 C720.13 1179.29 722.00 1182.84 724.02 1186.31 C726.03 1189.77 728.08 1193.23 730.37 1196.50 C732.66 1199.77 735.18 1202.90 737.78 1205.93 C740.38 1208.97 743.12 1211.91 745.98 1214.72 C748.83 1217.52 751.85 1220.17 754.90 1222.76 C757.96 1225.34 761.10 1227.86 764.33 1230.23 C767.56 1232.60 770.92 1234.78 774.28 1236.96 C777.65 1239.14 781.12 1241.17 784.53 1243.28 C787.95 1245.39 791.36 1247.51 794.77 1249.62 C798.19 1251.73 801.55 1253.93 805.02 1255.93 C808.49 1257.93 812.00 1259.87 815.59 1261.64 C819.18 1263.42 822.90 1264.95 826.57 1266.57 C830.24 1268.19 833.93 1269.78 837.61 1271.36 C841.30 1272.95 844.97 1274.59 848.69 1276.09 C852.40 1277.60 856.15 1279.04 859.92 1280.40 C863.69 1281.77 867.51 1283.00 871.32 1284.28 C875.12 1285.57 878.93 1286.85 882.74 1288.10 C886.55 1289.35 890.35 1290.65 894.20 1291.79 C898.04 1292.93 901.92 1293.96 905.81 1294.96 C909.69 1295.96 913.61 1296.86 917.51 1297.79 C921.41 1298.73 925.31 1299.70 929.22 1300.59 C933.14 1301.49 937.04 1302.41 940.98 1303.15 C944.92 1303.89 948.90 1304.45 952.87 1305.03 C956.84 1305.61 960.82 1306.12 964.80 1306.64 C968.78 1307.15 972.76 1307.74 976.75 1308.13 C980.73 1308.53 984.73 1308.81 988.74 1309.00 C992.74 1309.19 996.76 1309.24 1000.77 1309.26 C1004.78 1309.28 1008.80 1309.44 1012.78 1309.15 C1016.75 1308.85 1020.70 1308.23 1024.61 1307.49 C1028.54 1306.74 1032.44 1305.70 1036.31 1304.69 C1040.18 1303.68 1044.12 1302.80 1047.85 1301.42 C1051.57 1300.04 1055.14 1298.27 1058.66 1296.42 C1062.20 1294.57 1065.58 1292.37 1069.01 1290.29 C1072.44 1288.21 1075.94 1286.22 1079.24 1283.96 C1082.53 1281.71 1085.75 1279.34 1088.78 1276.76 C1091.82 1274.17 1094.60 1271.25 1097.45 1268.44 C1100.31 1265.63 1103.24 1262.85 1105.91 1259.88 C1108.56 1256.92 1111.22 1253.94 1113.42 1250.66 C1115.62 1247.37 1117.33 1243.72 1119.12 1240.16 C1120.91 1236.58 1122.64 1232.94 1124.15 1229.24 C1125.67 1225.54 1127.03 1221.77 1128.21 1217.96 C1129.39 1214.13 1130.36 1210.23 1131.23 1206.32 C1132.11 1202.42 1132.93 1198.50 1133.45 1194.54 C1133.97 1190.58 1134.12 1186.56 1134.34 1182.56 C1134.57 1178.56 1134.72 1174.54 1134.82 1170.53 C1134.92 1166.52 1134.99 1162.51 1134.95 1158.50 C1134.91 1154.49 1134.72 1150.47 1134.57 1146.46 C1134.42 1142.45 1134.27 1138.44 1134.04 1134.43 C1133.81 1130.43 1133.53 1126.43 1133.17 1122.43 C1132.82 1118.43 1132.35 1114.44 1131.92 1110.45 C1131.49 1106.46 1131.06 1102.47 1130.57 1098.49 C1130.08 1094.50 1129.54 1090.53 1128.97 1086.55 C1128.39 1082.58 1127.73 1078.62 1127.10 1074.66 C1126.47 1070.69 1125.85 1066.73 1125.19 1062.77 C1124.52 1058.81 1123.90 1054.84 1123.11 1050.91 C1122.33 1046.98 1121.42 1043.07 1120.49 1039.16 C1119.57 1035.26 1118.58 1031.37 1117.59 1027.48 C1116.60 1023.59 1115.63 1019.69 1114.57 1015.82 C1113.52 1011.95 1112.39 1008.10 1111.26 1004.24 C1110.13 1000.39 1108.99 996.54 1107.81 992.71 C1106.62 988.87 1105.46 985.03 1104.14 981.25 C1102.81 977.46 1101.34 973.73 1099.85 970.00 C1098.36 966.28 1096.89 962.53 1095.22 958.89 C1093.56 955.26 1091.81 951.65 1089.84 948.18 C1087.87 944.70 1085.59 941.39 1083.38 938.04 C1081.17 934.70 1078.94 931.35 1076.59 928.11 C1074.23 924.87 1071.75 921.71 1069.24 918.58 C1066.73 915.46 1064.14 912.39 1061.52 909.35 C1058.89 906.32 1056.22 903.33 1053.50 900.37 C1050.79 897.41 1047.72 894.23 1045.24 891.61 C1043.21 889.48 1041.55 887.74 1039.70 885.80 L1039.70 885.80 C1037.10 887.03 1033.94 887.72 1031.90 889.50 C1029.95 891.20 1028.36 893.53 1027.60 896.10 C1026.73 899.04 1027.05 902.76 1027.60 906.40 C1028.26 910.71 1030.49 915.82 1031.90 920.20 C1033.19 924.19 1034.45 927.80 1035.70 931.61 C1036.96 935.42 1038.27 939.21 1039.42 943.05 C1040.58 946.89 1041.62 950.76 1042.65 954.63 C1043.68 958.51 1044.62 962.40 1045.59 966.30 C1046.55 970.19 1047.55 974.07 1048.45 977.98 C1049.35 981.88 1050.17 985.81 1050.99 989.73 C1051.80 993.66 1052.59 997.59 1053.36 1001.53 C1054.12 1005.46 1054.93 1009.39 1055.55 1013.35 C1056.16 1017.31 1056.59 1021.29 1057.04 1025.27 C1057.48 1029.26 1057.86 1033.25 1058.22 1037.25 C1058.59 1041.24 1058.99 1045.23 1059.23 1049.23 C1059.46 1053.23 1059.54 1057.24 1059.65 1061.24 C1059.76 1065.25 1059.83 1069.26 1059.91 1073.27 C1059.98 1077.28 1060.12 1081.29 1060.13 1085.30 C1060.13 1089.30 1060.08 1093.31 1059.94 1097.32 C1059.80 1101.32 1059.52 1105.32 1059.28 1109.33 C1059.04 1113.33 1058.86 1117.34 1058.51 1121.33 C1058.16 1125.32 1057.72 1129.30 1057.16 1133.26 C1056.60 1137.23 1056.00 1141.21 1055.14 1145.11 C1054.29 1149.00 1053.29 1152.88 1052.03 1156.66 C1050.77 1160.44 1049.22 1164.17 1047.56 1167.80 C1045.91 1171.43 1044.15 1175.02 1042.11 1178.44 C1040.07 1181.87 1037.40 1185.41 1035.34 1188.36 C1033.66 1190.77 1032.80 1192.87 1030.70 1194.90 C1028.09 1197.43 1023.37 1201.56 1020.30 1201.80 C1018.05 1201.98 1016.45 1200.76 1014.20 1199.00 C1009.91 1195.63 1002.83 1185.34 999.00 1179.80 C996.30 1175.90 994.83 1172.84 992.74 1169.37 C990.65 1165.90 988.58 1162.41 986.46 1158.96 C984.33 1155.51 982.18 1152.07 979.99 1148.66 C977.80 1145.25 975.55 1141.87 973.31 1138.50 C971.06 1135.12 968.81 1131.75 966.53 1128.40 C964.24 1125.05 961.94 1121.71 959.63 1118.38 C957.31 1115.05 955.01 1111.72 952.65 1108.42 C950.29 1105.13 947.92 1101.84 945.48 1098.60 C943.03 1095.37 940.50 1092.21 937.99 1089.02 C935.49 1085.83 932.96 1082.67 930.46 1079.47 C927.96 1076.28 925.48 1073.07 923.00 1069.86 C920.52 1066.65 918.05 1063.44 915.58 1060.23 C913.11 1057.01 910.63 1053.81 908.16 1050.59 C905.70 1047.36 903.25 1044.14 900.81 1040.90 C898.37 1037.66 895.96 1034.40 893.53 1031.15 C891.10 1027.91 888.68 1024.65 886.21 1021.44 C883.74 1018.23 881.24 1015.03 878.70 1011.88 C876.15 1008.72 873.56 1005.60 870.95 1002.51 C868.33 999.41 865.76 996.27 863.00 993.30 C860.24 990.33 857.12 986.68 854.40 984.70 C852.42 983.27 850.37 982.20 848.70 981.80 C847.52 981.52 846.43 981.32 845.50 981.80 C844.35 982.40 843.23 984.26 842.70 985.80 C842.12 987.48 842.25 989.49 842.40 991.60 C842.59 994.20 843.17 997.20 844.10 1000.20 C845.20 1003.75 847.26 1007.70 848.92 1011.42 C850.59 1015.13 852.36 1018.80 854.08 1022.48 C855.81 1026.17 857.49 1029.88 859.29 1033.53 C861.09 1037.18 862.98 1040.78 864.91 1044.36 C866.84 1047.95 868.88 1051.47 870.86 1055.03 C872.84 1058.58 874.85 1062.13 876.79 1065.71 C878.72 1069.29 880.60 1072.90 882.49 1076.51 C884.37 1080.12 886.25 1083.73 888.10 1087.35 C889.96 1090.98 891.85 1094.58 893.61 1098.25 C895.37 1101.92 897.02 1105.64 898.67 1109.36 C900.33 1113.08 901.93 1116.82 903.56 1120.55 C905.18 1124.29 906.84 1128.01 908.44 1131.75 C910.05 1135.49 911.70 1139.21 913.19 1142.99 C914.68 1146.78 916.07 1150.61 917.37 1154.46 C918.66 1158.31 919.92 1162.19 920.96 1166.11 C922.00 1170.04 922.76 1174.04 923.60 1178.02 C924.44 1182.01 925.11 1185.64 926.00 1190.00 C927.07 1195.24 929.50 1202.00 929.60 1207.30 C929.68 1211.77 929.23 1215.78 927.50 1219.70 C925.58 1224.07 922.08 1228.65 917.90 1232.00 C913.18 1235.78 906.13 1238.96 900.00 1240.50 C894.15 1241.97 887.53 1241.83 882.00 1241.40 C877.18 1241.02 872.84 1239.78 868.60 1238.60 C864.62 1237.49 861.03 1235.97 857.26 1234.63 C853.48 1233.30 849.65 1232.10 845.95 1230.58 C842.27 1229.06 838.64 1227.38 835.12 1225.53 C831.58 1223.67 828.20 1221.50 824.77 1219.44 C821.34 1217.38 817.87 1215.36 814.53 1213.15 C811.19 1210.95 807.90 1208.66 804.73 1206.23 C801.56 1203.79 798.53 1201.17 795.51 1198.54 C792.50 1195.91 789.57 1193.17 786.66 1190.42 C783.75 1187.67 780.89 1184.86 778.05 1182.04 C775.21 1179.22 772.37 1176.39 769.61 1173.49 C766.85 1170.59 764.12 1167.65 761.49 1164.63 C758.86 1161.62 756.25 1158.58 753.82 1155.41 C751.39 1152.23 749.15 1148.90 746.93 1145.58 C744.71 1142.25 742.50 1138.90 740.50 1135.44 C738.49 1131.98 736.73 1128.39 734.90 1124.82 C733.08 1121.26 731.32 1117.66 729.55 1114.06 C727.79 1110.46 726.02 1106.87 724.32 1103.25 C722.61 1099.62 720.98 1095.96 719.32 1092.32 C717.67 1088.67 716.04 1085.01 714.38 1081.36 C712.72 1077.71 711.08 1074.06 709.36 1070.44 C707.64 1066.83 705.84 1063.25 704.06 1059.66 C702.28 1056.07 700.49 1052.49 698.67 1048.92 C696.85 1045.35 695.04 1041.77 693.15 1038.24 C691.26 1034.71 689.27 1031.23 687.33 1027.73 C685.38 1024.23 683.39 1020.76 681.46 1017.24 C679.54 1013.73 677.65 1010.20 675.79 1006.65 C673.93 1003.10 671.94 999.16 670.31 995.95 C668.98 993.33 668.03 991.25 666.70 988.80 C665.25 986.12 663.69 982.98 661.90 980.50 C660.23 978.19 658.40 976.31 656.40 974.30 C654.29 972.17 651.99 970.18 649.50 968.10 C646.76 965.81 643.57 963.50 640.60 961.20 Z" fill="#cdcdcd" stroke="none"/>
<path d="M640.60 961.20 C642.13 964.91 643.77 968.58 645.20 972.33 C646.63 976.07 647.95 979.85 649.18 983.67 C650.40 987.49 651.46 991.36 652.56 995.22 C653.66 999.08 654.72 1002.95 655.78 1006.83 C656.84 1010.70 657.87 1014.58 658.91 1018.46 C659.94 1022.33 660.97 1026.21 662.00 1030.09 C663.03 1033.97 664.05 1037.86 665.08 1041.74 C666.12 1045.62 667.14 1049.50 668.21 1053.37 C669.28 1057.24 670.36 1061.10 671.49 1064.95 C672.62 1068.80 673.74 1072.66 674.99 1076.47 C676.24 1080.28 677.62 1084.05 678.99 1087.82 C680.37 1091.59 681.78 1095.35 683.25 1099.09 C684.71 1102.82 686.23 1106.54 687.78 1110.24 C689.34 1113.94 690.98 1117.60 692.60 1121.28 C694.22 1124.95 695.84 1128.62 697.50 1132.28 C699.15 1135.94 700.84 1139.58 702.53 1143.22 C704.22 1146.86 705.91 1150.50 707.63 1154.13 C709.36 1157.75 711.11 1161.37 712.88 1164.97 C714.66 1168.57 716.42 1172.17 718.28 1175.73 C720.13 1179.29 722.00 1182.84 724.02 1186.31 C726.03 1189.77 728.08 1193.23 730.37 1196.50 C732.66 1199.77 735.18 1202.90 737.78 1205.93 C740.38 1208.97 743.12 1211.91 745.98 1214.72 C748.83 1217.52 751.85 1220.17 754.90 1222.76 C757.96 1225.34 761.10 1227.86 764.33 1230.23 C767.56 1232.60 770.92 1234.78 774.28 1236.96 C777.65 1239.14 781.12 1241.17 784.53 1243.28 C787.95 1245.39 791.36 1247.51 794.77 1249.62 C798.19 1251.73 801.55 1253.93 805.02 1255.93 C808.49 1257.93 812.00 1259.87 815.59 1261.64 C819.18 1263.42 822.90 1264.95 826.57 1266.57 C830.24 1268.19 833.93 1269.78 837.61 1271.36 C841.30 1272.95 844.97 1274.59 848.69 1276.09 C852.40 1277.60 856.15 1279.04 859.92 1280.40 C863.69 1281.77 867.51 1283.00 871.32 1284.28 C875.12 1285.57 878.93 1286.85 882.74 1288.10 C886.55 1289.35 890.35 1290.65 894.20 1291.79 C898.04 1292.93 901.92 1293.96 905.81 1294.96 C909.69 1295.96 913.61 1296.86 917.51 1297.79 C921.41 1298.73 925.31 1299.70 929.22 1300.59 C933.14 1301.49 937.04 1302.41 940.98 1303.15 C944.92 1303.89 948.90 1304.45 952.87 1305.03 C956.84 1305.61 960.82 1306.12 964.80 1306.64 C968.78 1307.15 972.76 1307.74 976.75 1308.13 C980.73 1308.53 984.73 1308.81 988.74 1309.00 C992.74 1309.19 996.76 1309.24 1000.77 1309.26 C1004.78 1309.28 1008.80 1309.44 1012.78 1309.15 C1016.75 1308.85 1020.70 1308.23 1024.61 1307.49 C1028.54 1306.74 1032.44 1305.70 1036.31 1304.69 C1040.18 1303.68 1044.12 1302.80 1047.85 1301.42 C1051.57 1300.04 1055.14 1298.27 1058.66 1296.42 C1062.20 1294.57 1065.58 1292.37 1069.01 1290.29 C1072.44 1288.21 1075.94 1286.22 1079.24 1283.96 C1082.53 1281.71 1085.75 1279.34 1088.78 1276.76 C1091.82 1274.17 1094.60 1271.25 1097.45 1268.44 C1100.31 1265.63 1103.24 1262.85 1105.91 1259.88 C1108.56 1256.92 1111.22 1253.94 1113.42 1250.66 C1115.62 1247.37 1117.33 1243.72 1119.12 1240.16 C1120.91 1236.58 1122.64 1232.94 1124.15 1229.24 C1125.67 1225.54 1127.03 1221.77 1128.21 1217.96 C1129.39 1214.13 1130.36 1210.23 1131.23 1206.32 C1132.11 1202.42 1132.93 1198.50 1133.45 1194.54 C1133.97 1190.58 1134.12 1186.56 1134.34 1182.56 C1134.57 1178.56 1134.72 1174.54 1134.82 1170.53 C1134.92 1166.52 1134.99 1162.51 1134.95 1158.50 C1134.91 1154.49 1134.72 1150.47 1134.57 1146.46 C1134.42 1142.45 1134.27 1138.44 1134.04 1134.43 C1133.81 1130.43 1133.53 1126.43 1133.17 1122.43 C1132.82 1118.43 1132.35 1114.44 1131.92 1110.45 C1131.49 1106.46 1131.06 1102.47 1130.57 1098.49 C1130.08 1094.50 1129.54 1090.53 1128.97 1086.55 C1128.39 1082.58 1127.73 1078.62 1127.10 1074.66 C1126.47 1070.69 1125.85 1066.73 1125.19 1062.77 C1124.52 1058.81 1123.90 1054.84 1123.11 1050.91 C1122.33 1046.98 1121.42 1043.07 1120.49 1039.16 C1119.57 1035.26 1118.58 1031.37 1117.59 1027.48 C1116.60 1023.59 1115.63 1019.69 1114.57 1015.82 C1113.52 1011.95 1112.39 1008.10 1111.26 1004.24 C1110.13 1000.39 1108.99 996.54 1107.81 992.71 C1106.62 988.87 1105.46 985.03 1104.14 981.25 C1102.81 977.46 1101.34 973.73 1099.85 970.00 C1098.36 966.28 1096.89 962.53 1095.22 958.89 C1093.56 955.26 1091.81 951.65 1089.84 948.18 C1087.87 944.70 1085.59 941.39 1083.38 938.04 C1081.17 934.70 1078.94 931.35 1076.59 928.11 C1074.23 924.87 1071.75 921.71 1069.24 918.58 C1066.73 915.46 1064.14 912.39 1061.52 909.35 C1058.89 906.32 1056.22 903.33 1053.50 900.37 C1050.79 897.41 1047.72 894.23 1045.24 891.61 C1043.21 889.48 1041.55 887.74 1039.70 885.80" class="ho"/>
<path d="M1039.70 885.80 C1037.10 887.03 1033.94 887.72 1031.90 889.50 C1029.95 891.20 1028.36 893.53 1027.60 896.10 C1026.73 899.04 1027.05 902.76 1027.60 906.40 C1028.26 910.71 1030.49 915.82 1031.90 920.20 C1033.19 924.19 1034.45 927.80 1035.70 931.61 C1036.96 935.42 1038.27 939.21 1039.42 943.05 C1040.58 946.89 1041.62 950.76 1042.65 954.63 C1043.68 958.51 1044.62 962.40 1045.59 966.30 C1046.55 970.19 1047.55 974.07 1048.45 977.98 C1049.35 981.88 1050.17 985.81 1050.99 989.73 C1051.80 993.66 1052.59 997.59 1053.36 1001.53 C1054.12 1005.46 1054.93 1009.39 1055.55 1013.35 C1056.16 1017.31 1056.59 1021.29 1057.04 1025.27 C1057.48 1029.26 1057.86 1033.25 1058.22 1037.25 C1058.59 1041.24 1058.99 1045.23 1059.23 1049.23 C1059.46 1053.23 1059.54 1057.24 1059.65 1061.24 C1059.76 1065.25 1059.83 1069.26 1059.91 1073.27 C1059.98 1077.28 1060.12 1081.29 1060.13 1085.30 C1060.13 1089.30 1060.08 1093.31 1059.94 1097.32 C1059.80 1101.32 1059.52 1105.32 1059.28 1109.33 C1059.04 1113.33 1058.86 1117.34 1058.51 1121.33 C1058.16 1125.32 1057.72 1129.30 1057.16 1133.26 C1056.60 1137.23 1056.00 1141.21 1055.14 1145.11 C1054.29 1149.00 1053.29 1152.88 1052.03 1156.66 C1050.77 1160.44 1049.22 1164.17 1047.56 1167.80 C1045.91 1171.43 1044.15 1175.02 1042.11 1178.44 C1040.07 1181.87 1037.40 1185.41 1035.34 1188.36 C1033.66 1190.77 1032.80 1192.87 1030.70 1194.90 C1028.09 1197.43 1023.37 1201.56 1020.30 1201.80 C1018.05 1201.98 1016.45 1200.76 1014.20 1199.00 C1009.91 1195.63 1002.83 1185.34 999.00 1179.80 C996.30 1175.90 994.83 1172.84 992.74 1169.37 C990.65 1165.90 988.58 1162.41 986.46 1158.96 C984.33 1155.51 982.18 1152.07 979.99 1148.66 C977.80 1145.25 975.55 1141.87 973.31 1138.50 C971.06 1135.12 968.81 1131.75 966.53 1128.40 C964.24 1125.05 961.94 1121.71 959.63 1118.38 C957.31 1115.05 955.01 1111.72 952.65 1108.42 C950.29 1105.13 947.92 1101.84 945.48 1098.60 C943.03 1095.37 940.50 1092.21 937.99 1089.02 C935.49 1085.83 932.96 1082.67 930.46 1079.47 C927.96 1076.28 925.48 1073.07 923.00 1069.86 C920.52 1066.65 918.05 1063.44 915.58 1060.23 C913.11 1057.01 910.63 1053.81 908.16 1050.59 C905.70 1047.36 903.25 1044.14 900.81 1040.90 C898.37 1037.66 895.96 1034.40 893.53 1031.15 C891.10 1027.91 888.68 1024.65 886.21 1021.44 C883.74 1018.23 881.24 1015.03 878.70 1011.88 C876.15 1008.72 873.56 1005.60 870.95 1002.51 C868.33 999.41 865.76 996.27 863.00 993.30 C860.24 990.33 857.12 986.68 854.40 984.70 C852.42 983.27 850.37 982.20 848.70 981.80 C847.52 981.52 846.43 981.32 845.50 981.80 C844.35 982.40 843.23 984.26 842.70 985.80 C842.12 987.48 842.25 989.49 842.40 991.60 C842.59 994.20 843.17 997.20 844.10 1000.20 C845.20 1003.75 847.26 1007.70 848.92 1011.42 C850.59 1015.13 852.36 1018.80 854.08 1022.48 C855.81 1026.17 857.49 1029.88 859.29 1033.53 C861.09 1037.18 862.98 1040.78 864.91 1044.36 C866.84 1047.95 868.88 1051.47 870.86 1055.03 C872.84 1058.58 874.85 1062.13 876.79 1065.71 C878.72 1069.29 880.60 1072.90 882.49 1076.51 C884.37 1080.12 886.25 1083.73 888.10 1087.35 C889.96 1090.98 891.85 1094.58 893.61 1098.25 C895.37 1101.92 897.02 1105.64 898.67 1109.36 C900.33 1113.08 901.93 1116.82 903.56 1120.55 C905.18 1124.29 906.84 1128.01 908.44 1131.75 C910.05 1135.49 911.70 1139.21 913.19 1142.99 C914.68 1146.78 916.07 1150.61 917.37 1154.46 C918.66 1158.31 919.92 1162.19 920.96 1166.11 C922.00 1170.04 922.76 1174.04 923.60 1178.02 C924.44 1182.01 925.11 1185.64 926.00 1190.00 C927.07 1195.24 929.50 1202.00 929.60 1207.30 C929.68 1211.77 929.23 1215.78 927.50 1219.70 C925.58 1224.07 922.08 1228.65 917.90 1232.00 C913.18 1235.78 906.13 1238.96 900.00 1240.50 C894.15 1241.97 887.53 1241.83 882.00 1241.40 C877.18 1241.02 872.84 1239.78 868.60 1238.60 C864.62 1237.49 861.03 1235.97 857.26 1234.63 C853.48 1233.30 849.65 1232.10 845.95 1230.58 C842.27 1229.06 838.64 1227.38 835.12 1225.53 C831.58 1223.67 828.20 1221.50 824.77 1219.44 C821.34 1217.38 817.87 1215.36 814.53 1213.15 C811.19 1210.95 807.90 1208.66 804.73 1206.23 C801.56 1203.79 798.53 1201.17 795.51 1198.54 C792.50 1195.91 789.57 1193.17 786.66 1190.42 C783.75 1187.67 780.89 1184.86 778.05 1182.04 C775.21 1179.22 772.37 1176.39 769.61 1173.49 C766.85 1170.59 764.12 1167.65 761.49 1164.63 C758.86 1161.62 756.25 1158.58 753.82 1155.41 C751.39 1152.23 749.15 1148.90 746.93 1145.58 C744.71 1142.25 742.50 1138.90 740.50 1135.44 C738.49 1131.98 736.73 1128.39 734.90 1124.82 C733.08 1121.26 731.32 1117.66 729.55 1114.06 C727.79 1110.46 726.02 1106.87 724.32 1103.25 C722.61 1099.62 720.98 1095.96 719.32 1092.32 C717.67 1088.67 716.04 1085.01 714.38 1081.36 C712.72 1077.71 711.08 1074.06 709.36 1070.44 C707.64 1066.83 705.84 1063.25 704.06 1059.66 C702.28 1056.07 700.49 1052.49 698.67 1048.92 C696.85 1045.35 695.04 1041.77 693.15 1038.24 C691.26 1034.71 689.27 1031.23 687.33 1027.73 C685.38 1024.23 683.39 1020.76 681.46 1017.24 C679.54 1013.73 677.65 1010.20 675.79 1006.65 C673.93 1003.10 671.94 999.16 670.31 995.95 C668.98 993.33 668.03 991.25 666.70 988.80 C665.25 986.12 663.69 982.98 661.90 980.50 C660.23 978.19 658.40 976.31 656.40 974.30 C654.29 972.17 651.99 970.18 649.50 968.10 C646.76 965.81 643.57 963.50 640.60 961.20" class="hl"/>
<path d="M603.60 770.00 C603.02 774.01 602.41 778.02 601.85 782.04 C601.29 786.05 600.72 790.07 600.24 794.09 C599.77 798.12 599.39 802.16 598.98 806.19 C598.57 810.23 598.17 814.26 597.77 818.30 C597.37 822.33 596.96 826.37 596.56 830.40 C596.17 834.44 595.79 838.47 595.41 842.51 C595.03 846.55 594.68 850.59 594.29 854.62 C593.89 858.66 593.47 862.69 593.02 866.72 C592.57 870.75 592.11 874.78 591.57 878.80 C591.03 882.82 590.39 886.82 589.77 890.83 C589.15 894.83 588.49 898.84 587.85 902.84 C587.21 906.84 586.56 910.85 585.92 914.85 C585.28 918.86 584.64 922.86 584.00 926.86 C583.36 930.87 582.73 934.87 582.09 938.88 C581.45 942.88 580.81 946.89 580.15 950.89 C579.49 954.89 578.67 958.87 578.15 962.88 C577.63 966.89 577.10 971.33 577.03 974.94 C576.98 977.90 577.34 980.31 577.50 983.00" class="hl"/>
<path d="M658.80 769.00 C659.07 771.27 659.66 773.47 659.60 775.80 C659.54 778.29 658.29 781.45 658.30 783.50 C658.31 784.86 658.23 785.69 658.90 786.90 C660.06 788.99 663.47 791.79 666.60 793.80 C670.36 796.22 675.37 798.38 680.30 799.80 C685.61 801.34 692.49 802.43 697.50 802.40 C701.40 802.38 704.84 801.53 707.90 800.70 C710.45 800.01 713.28 799.75 714.70 798.10 C716.18 796.38 716.15 793.43 716.40 790.40 C716.75 786.15 716.27 780.18 715.60 774.90 C714.89 769.29 712.95 764.04 712.10 757.70 C711.07 750.00 709.85 739.91 710.40 731.90 C710.89 724.80 712.68 717.85 714.50 712.00 C716.02 707.12 718.20 703.20 720.00 699.00 C721.70 695.04 722.96 691.20 725.00 687.50 C727.10 683.69 730.00 680.17 732.50 676.50" class="hl"/>
<path d="M711.30 800.20 C718.17 801.80 725.09 802.95 731.90 805.00 C738.86 807.10 745.71 809.77 752.60 812.70 C759.74 815.74 766.87 819.57 774.00 823.00" class="hl"/>
<path d="M789.50 713.50 C788.63 717.33 788.07 721.31 786.90 725.00 C785.76 728.60 783.63 732.27 782.60 735.40 C781.78 737.87 781.31 739.67 780.90 742.20 C780.40 745.28 780.01 748.90 780.10 752.60 C780.20 756.86 780.63 761.96 781.80 766.30 C782.93 770.52 784.90 774.73 786.90 778.30 C788.69 781.51 790.97 784.03 793.00 786.90" class="hl"/>
<path d="M781.20 742.50 C783.70 743.27 785.72 744.26 788.70 744.80 C792.88 745.55 798.84 745.94 804.10 745.70 C809.69 745.44 815.93 744.34 821.30 743.10 C826.20 741.97 830.50 740.23 835.10 738.80" class="hl"/>
<path d="M753.20 1023.90 C753.04 1019.89 752.86 1015.88 752.73 1011.87 C752.61 1007.87 752.49 1003.86 752.45 999.85 C752.40 995.84 752.41 991.82 752.45 987.81 C752.49 983.80 752.59 979.79 752.69 975.78 C752.80 971.77 752.94 967.76 753.10 963.75 C753.25 959.75 753.42 955.74 753.61 951.73 C753.80 947.72 754.00 943.72 754.21 939.71 C754.43 935.71 754.66 931.70 754.91 927.70 C755.15 923.69 755.38 919.69 755.70 915.69 C756.01 911.69 756.37 907.70 756.80 903.71 C757.22 899.72 757.69 895.74 758.24 891.76 C758.79 887.79 759.40 883.83 760.10 879.88 C760.79 875.94 761.59 872.00 762.41 868.08 C763.23 864.15 764.09 860.23 765.03 856.33 C765.96 852.43 766.95 848.55 768.01 844.68 C769.07 840.81 770.16 836.95 771.39 833.14 C772.63 829.33 773.97 825.55 775.42 821.81 C776.87 818.08 778.37 814.37 780.08 810.75 C781.80 807.14 783.74 803.63 785.70 800.13 C787.65 796.64 789.66 793.16 791.81 789.78 C793.97 786.41 796.29 783.14 798.62 779.88 C800.94 776.61 803.30 773.36 805.76 770.20 C808.22 767.05 810.73 763.92 813.38 760.93 C816.04 757.93 818.90 755.11 821.71 752.26 C824.52 749.40 827.33 746.53 830.25 743.79 C833.18 741.06 836.18 738.41 839.25 735.84 C842.32 733.28 845.57 730.91 848.69 728.39 C851.80 725.86 854.88 723.30 857.94 720.70 C860.99 718.10 863.99 715.44 867.01 712.80 C870.03 710.15 873.02 707.47 876.05 704.85 C879.08 702.22 882.14 699.63 885.21 697.04 C888.27 694.46 891.50 692.06 894.45 689.36 C897.39 686.68 900.45 684.02 902.87 680.92 C905.28 677.85 907.32 674.41 908.95 670.86 C910.59 667.28 911.57 663.34 912.65 659.50 C913.72 655.65 914.57 651.72 915.39 647.80 C916.21 643.88 916.95 639.93 917.57 635.97 C918.18 632.02 918.72 628.03 919.09 624.05 C919.47 620.07 919.74 616.07 919.82 612.07 C919.90 608.07 919.67 604.06 919.55 600.06 C919.44 596.05 919.26 592.04 919.14 588.03 C919.01 584.02 918.91 580.01 918.80 576.00" class="hl"/>
<path d="M953.70 573.50 C955.13 577.60 956.99 580.87 958.00 585.80 C959.42 592.75 959.77 603.49 959.70 611.60 C959.64 618.86 958.59 625.65 958.00 632.20 C957.46 638.19 955.91 644.01 956.30 649.40 C956.65 654.28 957.54 659.39 959.70 663.20 C961.69 666.71 965.14 670.40 968.30 671.70 C970.96 672.79 973.47 672.25 976.90 671.70 C982.35 670.82 990.59 666.96 997.50 664.90 C1004.36 662.86 1011.12 660.70 1018.20 659.40 C1025.44 658.07 1032.79 657.62 1040.50 657.10 C1048.78 656.55 1059.05 656.28 1066.30 656.30 C1071.58 656.31 1076.21 656.28 1080.00 656.80 C1082.74 657.18 1085.34 657.57 1087.00 658.50 C1088.16 659.15 1088.67 660.17 1089.50 661.00" class="hl"/>
<path d="M1081.50 697.20 C1075.30 697.30 1069.39 697.56 1062.90 697.50 C1055.78 697.43 1047.64 696.51 1040.50 696.70 C1033.93 696.88 1027.52 697.16 1021.60 698.40 C1016.11 699.55 1011.69 701.49 1006.10 703.60 C999.30 706.17 991.03 709.67 983.80 713.00 C976.74 716.25 968.32 720.09 963.20 723.30 C959.85 725.40 956.95 727.25 955.40 729.30 C954.34 730.71 953.75 732.09 953.70 733.60 C953.65 735.24 954.11 737.16 955.40 738.80 C957.40 741.34 962.11 743.47 966.60 745.70 C972.65 748.70 981.68 751.12 988.90 754.30 C996.00 757.43 1003.38 760.69 1009.60 764.60 C1015.31 768.20 1020.85 772.27 1025.00 776.60 C1028.62 780.38 1030.94 784.07 1033.60 788.70 C1036.75 794.17 1039.64 801.10 1042.20 807.60 C1044.82 814.25 1047.51 821.25 1049.10 828.20 C1050.65 834.99 1052.00 842.99 1051.70 848.80 C1051.48 853.12 1050.55 856.31 1049.10 860.00 C1047.51 864.05 1044.05 868.52 1042.20 872.00 C1040.82 874.59 1039.19 876.54 1038.80 878.90 C1038.43 881.15 1039.40 883.50 1039.70 885.80" class="hl"/>
<path d="M953.70 733.60 C946.53 738.20 939.14 742.31 932.20 747.40 C925.09 752.62 918.28 758.26 911.60 764.60 C904.49 771.35 897.24 779.10 890.90 786.90 C884.65 794.58 878.91 802.50 873.80 811.00 C868.59 819.68 863.73 829.79 860.00 838.50 C856.79 846.00 854.54 853.21 852.30 860.00 C850.31 866.03 848.54 870.41 847.10 877.20 C845.10 886.63 843.80 900.11 842.80 911.60 C841.80 923.05 841.21 938.24 841.10 946.00 C841.05 949.97 841.08 951.79 841.30 955.00 C841.56 958.72 842.25 962.87 842.70 967.00 C843.18 971.41 843.63 976.13 844.10 980.70" class="hl"/>
<path d="M752.60 988.90 C757.17 987.77 761.87 987.37 766.30 985.50 C771.06 983.49 776.57 980.34 780.10 976.90 C783.18 973.90 784.97 969.93 786.90 966.60 C788.60 963.66 789.77 960.87 791.20 958.00" class="hl"/>
<path d="M808.60 957.80 C809.17 959.90 809.32 961.92 810.30 964.10 C811.54 966.84 813.51 970.35 816.00 972.70 C818.61 975.17 822.54 977.11 825.80 978.40 C828.67 979.54 831.43 979.97 834.40 980.40 C837.52 980.86 840.87 980.80 844.10 981.00" class="hl"/>
<path d="M844.10 980.70 C847.53 979.37 850.71 978.30 854.40 976.70 C858.83 974.78 865.06 972.47 868.80 969.80 C871.71 967.72 873.97 965.47 875.60 962.90 C877.12 960.50 877.79 957.35 878.50 955.00 C879.06 953.16 879.30 951.67 879.70 950.00" class="hl"/>
<path d="M879.70 950.00 C881.73 950.17 883.70 950.70 885.80 950.50 C888.12 950.28 890.44 949.40 893.00 948.50 C896.09 947.41 899.96 945.99 903.00 944.20 C905.94 942.47 908.94 940.30 911.00 938.00 C912.79 936.01 913.77 934.08 915.00 931.50 C916.60 928.14 917.87 923.37 919.30 919.30" class="hl"/>
<path d="M851.00 862.50 C854.00 864.53 856.33 865.79 860.00 868.60 C866.50 873.58 876.62 883.04 885.80 890.90 C896.22 899.82 908.13 909.83 919.30 919.30" class="hl"/>
<path d="M919.30 919.30 C923.60 919.30 927.66 918.53 932.20 919.30 C937.59 920.21 944.60 922.58 949.40 925.30 C953.52 927.64 956.97 930.54 959.70 933.90 C962.36 937.17 963.70 941.37 965.70 945.10" class="hl"/>
<path d="M1026.50 901.30 C1022.57 902.43 1018.00 902.37 1014.70 904.70 C1011.08 907.26 1007.86 911.97 1006.10 916.70 C1004.11 922.06 1004.97 929.30 1004.40 935.60" class="hl"/>
<path d="M680.20 1013.60 C682.80 1013.07 685.27 1012.42 688.00 1012.00 C690.98 1011.54 694.59 1010.47 697.40 1011.00 C699.93 1011.47 702.11 1012.72 704.20 1014.50 C706.78 1016.70 708.81 1020.46 711.10 1023.90 C713.71 1027.81 716.30 1032.50 718.90 1036.80" class="hl"/>
<path d="M627.90 993.50 C628.60 990.73 629.30 987.91 630.00 985.20 C630.67 982.58 631.34 980.21 632.00 977.50 C632.74 974.50 633.46 970.62 634.20 968.00 C634.73 966.11 635.03 964.51 635.80 963.20 C636.46 962.09 637.40 960.74 638.30 960.50 C639.03 960.30 639.83 960.97 640.60 961.20" class="hl"/>
<ellipse cx="631.2" cy="768.4" rx="27.6" ry="9.9" transform="rotate(-2.0 631.2 768.4)" class="he"/>
<ellipse cx="603.0" cy="989.0" rx="26.5" ry="9.6" transform="rotate(15.0 603.0 989.0)" class="he"/>
<ellipse cx="761.0" cy="694.6" rx="33.2" ry="10.0" transform="rotate(33.0 761.0 694.6)" class="he"/>
<ellipse cx="936.8" cy="573.8" rx="18.2" ry="7.2" transform="rotate(-4.0 936.8 573.8)" class="he"/>
<ellipse cx="1083.2" cy="677.6" rx="7.2" ry="19.5" transform="rotate(10.0 1083.2 677.6)" class="he"/>
</g>
<path d="M621.20 677.80 C621.22 681.84 621.24 685.88 621.27 689.92 C621.29 693.96 621.31 698.00 621.33 702.04 C621.36 706.08 621.38 710.12 621.40 714.15 C621.42 718.19 621.43 722.23 621.47 726.27 C621.52 730.31 621.59 734.35 621.68 738.39 C621.77 742.43 621.90 746.47 622.00 750.50 C622.11 754.54 622.22 758.58 622.33 762.62 C622.44 766.66 622.49 770.70 622.66 774.73 C622.84 778.76 623.00 782.80 623.37 786.82 C623.74 790.83 624.36 794.83 624.86 798.84 C625.37 802.85 625.89 806.85 626.40 810.86 C626.91 814.87 627.41 818.88 627.94 822.88 C628.47 826.89 628.92 830.90 629.57 834.89 C630.21 838.87 631.01 842.84 631.80 846.79 C632.59 850.75 633.24 854.76 634.32 858.63 C635.39 862.51 636.78 866.32 638.27 870.06 C639.76 873.80 641.42 877.48 643.26 881.07 C645.09 884.66 647.10 888.19 649.26 891.59 C651.41 894.98 653.68 898.31 656.18 901.45 C658.69 904.60 661.59 907.45 664.30 910.44 C667.01 913.43 669.74 916.42 672.45 919.41 C675.16 922.41 677.86 925.41 680.57 928.41 C683.27 931.41 686.25 934.71 688.69 937.40 C690.67 939.60 692.30 941.40 694.10 943.40" class="cath"/>
<path d="M1302.30 680.10 C1302.24 684.11 1302.18 688.12 1302.11 692.13 C1302.05 696.14 1301.99 700.15 1301.93 704.16 C1301.86 708.17 1301.80 712.18 1301.74 716.19 C1301.68 720.21 1301.61 724.22 1301.55 728.23 C1301.49 732.24 1301.43 736.25 1301.36 740.26 C1301.30 744.27 1301.24 748.28 1301.18 752.29 C1301.11 756.30 1301.05 760.31 1300.99 764.32 C1300.92 768.33 1300.84 772.34 1300.80 776.35 C1300.75 780.36 1300.62 784.37 1300.71 788.38 C1300.81 792.39 1301.12 796.39 1301.36 800.39 C1301.60 804.39 1301.89 808.40 1302.16 812.40 C1302.42 816.40 1302.69 820.40 1302.95 824.40 C1303.22 828.41 1303.41 832.42 1303.75 836.41 C1304.10 840.40 1304.38 844.40 1305.03 848.35 C1305.68 852.29 1306.74 856.18 1307.63 860.09 C1308.52 864.00 1309.44 867.90 1310.35 871.81 C1311.27 875.71 1311.97 879.69 1313.11 883.51 C1314.25 887.33 1315.63 891.08 1317.20 894.74 C1318.78 898.42 1320.77 901.93 1322.56 905.52 C1324.35 909.10 1326.02 912.76 1327.94 916.28 C1329.86 919.78 1331.80 923.29 1334.05 926.57 C1336.31 929.87 1339.01 932.87 1341.50 936.01 C1344.00 939.15 1346.50 942.29 1349.01 945.42 C1351.52 948.55 1354.02 951.68 1356.55 954.79 C1359.08 957.91 1361.63 961.00 1364.17 964.11 C1366.71 967.21 1369.27 970.30 1371.80 973.42 C1374.32 976.53 1376.94 979.58 1379.34 982.79 C1381.74 985.99 1383.94 989.35 1386.20 992.66 C1388.45 995.98 1390.64 999.34 1392.87 1002.68 C1395.09 1006.02 1397.34 1009.34 1399.53 1012.70 C1401.73 1016.05 1403.90 1019.42 1406.04 1022.82 C1408.17 1026.21 1410.24 1029.65 1412.35 1033.06 C1414.45 1036.48 1416.56 1039.89 1418.66 1043.31 C1420.75 1046.73 1422.93 1050.10 1424.90 1053.59 C1426.88 1057.08 1428.68 1060.66 1430.51 1064.23 C1432.34 1067.79 1434.10 1071.40 1435.89 1074.99 C1437.68 1078.58 1439.57 1082.12 1441.26 1085.76 C1442.94 1089.39 1444.49 1093.09 1446.01 1096.80 C1447.52 1100.51 1448.91 1104.28 1450.36 1108.02 C1451.81 1111.76 1453.26 1115.50 1454.70 1119.24 C1456.15 1122.98 1457.99 1127.72 1459.05 1130.46 C1459.66 1132.04 1460.02 1132.95 1460.50 1134.20" class="cath"/>
<path d="M1969.90 679.90 C1969.90 683.91 1969.90 687.92 1969.90 691.93 C1969.90 695.94 1969.90 699.95 1969.90 703.95 C1969.90 707.96 1969.90 711.97 1969.90 715.98 C1969.90 719.99 1969.90 724.00 1969.90 728.01 C1969.90 732.02 1969.90 736.03 1969.90 740.04 C1969.90 744.04 1969.88 748.05 1969.90 752.06 C1969.92 756.07 1969.90 760.08 1970.00 764.09 C1970.10 768.09 1970.33 772.10 1970.50 776.10 C1970.68 780.11 1970.88 784.11 1971.06 788.12 C1971.25 792.12 1971.42 796.13 1971.62 800.13 C1971.83 804.13 1971.83 808.16 1972.31 812.13 C1972.78 816.09 1973.65 820.00 1974.46 823.92 C1975.28 827.84 1976.29 831.72 1977.21 835.63 C1978.12 839.53 1979.04 843.43 1979.95 847.34 C1980.87 851.24 1981.60 855.21 1982.71 859.04 C1983.82 862.86 1985.03 866.67 1986.62 870.31 C1988.21 873.97 1990.37 877.39 1992.25 880.93 C1994.14 884.47 1996.05 887.99 1997.94 891.53 C1999.84 895.06 2001.68 898.63 2003.63 902.12 C2005.59 905.61 2007.49 909.15 2009.68 912.49 C2011.88 915.83 2014.41 918.95 2016.80 922.17 C2019.20 925.38 2021.62 928.58 2024.03 931.78 C2026.44 934.98 2028.87 938.18 2031.27 941.39 C2033.66 944.60 2036.14 947.76 2038.42 951.05 C2040.69 954.35 2042.78 957.77 2044.91 961.16 C2047.05 964.56 2049.12 967.99 2051.22 971.41 C2053.32 974.82 2055.42 978.24 2057.52 981.65 C2059.62 985.07 2061.84 988.42 2063.80 991.91 C2065.77 995.39 2067.60 998.95 2069.31 1002.56 C2071.02 1006.18 2072.48 1009.93 2074.06 1013.61 C2075.64 1017.29 2077.21 1020.98 2078.79 1024.67 C2080.37 1028.35 2082.06 1032.00 2083.52 1035.72 C2084.99 1039.44 2086.57 1043.13 2087.58 1046.97 C2088.60 1050.82 2088.98 1054.85 2089.63 1058.80 C2090.28 1062.75 2090.85 1066.72 2091.46 1070.68 C2092.08 1074.65 2092.56 1078.64 2093.31 1082.57 C2094.06 1086.49 2094.89 1090.41 2095.96 1094.26 C2097.03 1098.11 2098.46 1101.87 2099.73 1105.68 C2100.99 1109.48 2102.26 1113.28 2103.53 1117.09 C2104.80 1120.89 2106.02 1124.71 2107.33 1128.50 C2108.64 1132.27 2109.68 1136.19 2111.39 1139.78 C2113.10 1143.35 2115.43 1146.64 2117.60 1149.98 C2119.78 1153.34 2122.16 1156.58 2124.44 1159.88 C2126.72 1163.18 2129.00 1166.47 2131.28 1169.77 C2133.56 1173.07 2135.64 1176.55 2138.13 1179.65 C2140.60 1182.73 2143.18 1185.77 2146.16 1188.33 C2149.17 1190.91 2152.78 1192.83 2156.11 1195.06 C2159.44 1197.30 2162.78 1199.51 2166.12 1201.73 C2169.46 1203.95 2172.71 1206.34 2176.13 1208.39 C2179.54 1210.43 2182.95 1212.54 2186.61 1213.99 C2190.30 1215.45 2194.33 1216.10 2198.20 1217.10 C2202.08 1218.10 2205.97 1219.08 2209.87 1220.02 C2213.75 1220.95 2217.66 1222.63 2221.51 1222.69 C2225.29 1222.75 2229.11 1221.62 2232.77 1220.47 C2236.52 1219.29 2240.73 1217.95 2243.73 1215.66 C2246.58 1213.49 2248.95 1210.53 2250.53 1207.31 C2252.18 1203.93 2252.97 1199.60 2253.21 1195.71 C2253.45 1191.84 2252.68 1187.90 2252.00 1184.04 C2251.31 1180.12 2250.07 1176.25 2249.08 1172.37 C2248.08 1168.49 2247.28 1164.54 2246.01 1160.75 C2244.75 1156.97 2243.08 1153.32 2241.48 1149.66 C2239.88 1145.99 2238.10 1142.39 2236.41 1138.75 C2234.72 1135.12 2233.03 1131.48 2231.34 1127.85 C2229.65 1124.21 2227.99 1120.56 2226.27 1116.94 C2224.55 1113.32 2222.89 1109.67 2221.00 1106.14 C2219.11 1102.61 2216.96 1099.22 2214.91 1095.77 C2212.87 1092.33 2210.79 1088.90 2208.72 1085.46 C2206.66 1082.03 2204.59 1078.59 2202.53 1075.15 C2200.46 1071.72 2198.38 1068.29 2196.33 1064.84 C2194.29 1061.39 2192.20 1057.97 2190.28 1054.46 C2188.36 1050.94 2186.63 1047.32 2184.82 1043.74 C2183.02 1040.16 2181.24 1036.57 2179.44 1032.99 C2177.65 1029.40 2175.86 1025.81 2174.06 1022.23 C2172.27 1018.64 2170.45 1015.07 2168.69 1011.47 C2166.92 1007.87 2165.01 1004.34 2163.49 1000.64 C2161.98 996.94 2160.84 993.09 2159.57 989.29 C2158.31 985.48 2157.13 981.65 2155.91 977.83 C2154.68 974.01 2153.44 970.20 2152.24 966.38 C2151.04 962.56 2149.60 958.79 2148.69 954.90 C2147.79 951.02 2147.30 947.04 2146.78 943.08 C2146.26 939.11 2145.98 935.10 2145.57 931.11 C2145.17 927.12 2144.77 923.14 2144.37 919.15 C2143.97 915.16 2143.44 911.17 2143.18 907.18 C2142.92 903.19 2142.76 899.19 2142.79 895.19 C2142.82 891.19 2143.16 887.18 2143.36 883.18 C2143.57 879.18 2143.42 875.11 2144.03 871.18 C2144.63 867.28 2145.70 863.44 2146.97 859.70 C2148.24 855.93 2149.82 852.18 2151.66 848.65 C2153.50 845.12 2156.38 840.94 2158.02 838.53 C2158.98 837.13 2159.61 836.38 2160.40 835.30" class="cath"/>
<path d="M2634.90 674.50 C2634.90 678.51 2634.90 682.51 2634.90 686.52 C2634.90 690.52 2634.90 694.53 2634.90 698.53 C2634.90 702.54 2634.90 706.54 2634.90 710.55 C2634.90 714.55 2634.90 718.56 2634.90 722.57 C2634.90 726.57 2634.89 730.58 2634.90 734.58 C2634.91 738.59 2634.89 742.59 2634.94 746.60 C2634.99 750.60 2635.12 754.61 2635.22 758.61 C2635.32 762.62 2635.43 766.62 2635.54 770.62 C2635.65 774.63 2635.75 778.63 2635.86 782.64 C2635.97 786.64 2636.06 790.64 2636.18 794.65 C2636.30 798.65 2636.16 802.68 2636.56 806.65 C2636.97 810.61 2637.77 814.53 2638.59 818.43 C2639.42 822.34 2640.54 826.20 2641.52 830.08 C2642.49 833.97 2643.46 837.86 2644.44 841.74 C2645.42 845.62 2646.18 849.58 2647.39 853.39 C2648.58 857.17 2649.92 860.93 2651.62 864.51 C2653.33 868.10 2655.62 871.44 2657.63 874.90 C2659.65 878.36 2661.68 881.82 2663.70 885.28 C2665.72 888.73 2667.69 892.23 2669.76 895.65 C2671.84 899.07 2673.92 902.49 2676.16 905.81 C2678.40 909.13 2680.84 912.31 2683.19 915.55 C2685.54 918.79 2687.90 922.03 2690.25 925.27 C2692.60 928.51 2695.03 931.71 2697.31 935.00 C2699.59 938.28 2701.88 941.57 2703.94 944.99 C2706.00 948.42 2707.77 952.02 2709.67 955.55 C2711.58 959.07 2713.46 962.61 2715.36 966.13 C2717.25 969.66 2719.17 973.18 2721.04 976.72 C2722.91 980.26 2724.90 983.74 2726.59 987.37 C2728.28 990.99 2729.68 994.75 2731.16 998.47 C2732.64 1002.19 2734.04 1005.95 2735.48 1009.68 C2736.92 1013.42 2738.37 1017.15 2739.80 1020.90 C2741.22 1024.64 2742.80 1028.33 2744.01 1032.14 C2745.23 1035.94 2746.13 1039.85 2747.08 1043.73 C2748.02 1047.62 2748.81 1051.55 2749.69 1055.46 C2750.56 1059.37 2751.43 1063.28 2752.32 1067.19 C2753.20 1071.09 2754.12 1074.99 2755.02 1078.90 C2755.92 1082.80 2756.82 1086.70 2757.73 1090.60 C2758.63 1094.51 2759.44 1098.44 2760.44 1102.31 C2761.44 1106.17 2762.31 1110.09 2763.71 1113.82 C2765.11 1117.54 2767.10 1121.05 2768.85 1124.65 C2770.60 1128.25 2772.42 1131.82 2774.21 1135.41 C2775.99 1138.99 2777.77 1142.58 2779.56 1146.16 C2781.36 1149.74 2782.87 1153.52 2784.96 1156.89 C2787.04 1160.23 2789.43 1163.41 2792.07 1166.33 C2794.73 1169.27 2797.94 1171.76 2800.89 1174.47 C2803.84 1177.18 2806.80 1179.88 2809.75 1182.59 C2812.71 1185.29 2815.65 1188.01 2818.62 1190.70 C2821.58 1193.39 2824.29 1196.47 2827.54 1198.71 C2830.76 1200.94 2834.40 1202.57 2838.02 1204.14 C2841.67 1205.73 2845.56 1206.83 2849.34 1208.18 C2853.11 1209.52 2856.88 1210.87 2860.66 1212.21 C2864.43 1213.55 2868.15 1215.28 2871.98 1216.23 C2875.72 1217.16 2879.58 1218.11 2883.37 1217.89 C2887.23 1217.67 2891.32 1216.25 2894.91 1214.84 C2898.35 1213.49 2902.38 1212.35 2904.54 1209.72 C2906.76 1207.02 2906.88 1202.43 2907.86 1198.67 C2908.85 1194.83 2909.95 1190.87 2910.43 1186.94 C2910.90 1183.06 2911.13 1179.11 2910.71 1175.24 C2910.29 1171.32 2908.84 1167.47 2907.88 1163.58 C2906.92 1159.70 2905.95 1155.81 2904.95 1151.93 C2903.95 1148.05 2903.21 1144.08 2901.89 1140.32 C2900.58 1136.58 2898.79 1132.99 2897.04 1129.41 C2895.29 1125.82 2893.28 1122.34 2891.39 1118.81 C2889.51 1115.27 2887.63 1111.74 2885.74 1108.20 C2883.86 1104.67 2881.97 1101.13 2880.09 1097.60 C2878.21 1094.06 2876.32 1090.53 2874.44 1086.99 C2872.56 1083.45 2870.68 1079.91 2868.81 1076.38 C2866.93 1072.84 2865.06 1069.30 2863.18 1065.76 C2861.31 1062.22 2859.43 1058.68 2857.56 1055.14 C2855.68 1051.60 2853.81 1048.06 2851.93 1044.52 C2850.06 1040.98 2848.17 1037.45 2846.31 1033.90 C2844.44 1030.36 2842.54 1026.83 2840.76 1023.24 C2838.98 1019.66 2837.33 1016.00 2835.63 1012.38 C2833.93 1008.75 2832.25 1005.12 2830.56 1001.48 C2828.87 997.85 2827.18 994.22 2825.49 990.59 C2823.80 986.96 2822.03 983.36 2820.43 979.69 C2818.83 976.03 2817.12 972.40 2815.88 968.62 C2814.64 964.83 2813.92 960.86 2812.99 956.97 C2812.06 953.08 2811.18 949.17 2810.28 945.27 C2809.38 941.36 2808.36 937.48 2807.57 933.56 C2806.79 929.65 2805.93 925.73 2805.57 921.77 C2805.20 917.80 2805.43 913.78 2805.40 909.77 C2805.37 905.77 2805.20 901.74 2805.40 897.76 C2805.61 893.80 2805.77 889.80 2806.64 885.97 C2807.52 882.11 2809.29 878.43 2810.68 874.69 C2812.07 870.94 2813.30 867.09 2815.01 863.49 C2816.71 859.89 2818.81 856.49 2820.90 853.09 C2822.99 849.69 2825.33 846.42 2827.55 843.08 C2829.77 839.75 2831.98 836.41 2834.20 833.08 C2836.42 829.75 2838.57 826.36 2840.87 823.08 C2843.17 819.81 2845.53 816.58 2848.00 813.43 C2850.47 810.28 2853.12 807.27 2855.68 804.19 C2858.24 801.11 2860.81 798.03 2863.37 794.96 C2865.93 791.88 2868.48 788.79 2871.06 785.72 C2873.64 782.66 2876.11 779.50 2878.84 776.57 C2881.57 773.65 2884.52 770.94 2887.42 768.19 C2890.33 765.44 2893.32 762.77 2896.27 760.06 C2899.22 757.36 2902.18 754.65 2905.13 751.94 C2908.08 749.23 2911.00 746.49 2913.98 743.81 C2916.96 741.14 2919.84 738.35 2922.99 735.89 C2926.14 733.44 2929.56 731.32 2932.87 729.07 C2936.18 726.82 2939.54 724.63 2942.87 722.42 C2946.21 720.20 2949.54 717.97 2952.88 715.76 C2956.22 713.55 2959.49 711.23 2962.92 709.17 C2966.35 707.11 2969.91 705.28 2973.45 703.43 C2977.00 701.57 2980.62 699.84 2984.20 698.05 C2987.78 696.26 2991.36 694.44 2994.95 692.68 C2998.54 690.91 3002.04 688.91 3005.75 687.45 C3009.45 685.98 3013.33 684.96 3017.17 683.88 C3021.02 682.80 3024.93 681.92 3028.82 680.95 C3032.71 679.99 3036.57 678.87 3040.49 678.11 C3044.41 677.35 3048.39 676.89 3052.36 676.40 C3056.33 675.92 3061.40 675.49 3064.31 675.20 C3066.00 675.03 3066.97 674.93 3068.30 674.80" class="cath"/>
<ellipse cx="676.0" cy="925.3" rx="16.5" ry="14.5" transform="rotate(-20.0 676.0 925.3)" fill="#ffe84d"/>
<ellipse cx="1450.5" cy="1107.0" rx="17.2" ry="13.6" transform="rotate(-12.0 1450.5 1107.0)" fill="#ffe84d"/>
<ellipse cx="2150.1" cy="855.3" rx="17.5" ry="13.2" transform="rotate(5.0 2150.1 855.3)" fill="#ffe84d"/>
<ellipse cx="3045.9" cy="677.3" rx="13.3" ry="17.8" transform="rotate(0.0 3045.9 677.3)" fill="#ffe84d"/>
<line x1="520.95" y1="555.2" x2="518.80" y2="2497.7" stroke="#a6a6a6" stroke-width="6" stroke-linecap="round"/>
<line x1="1192.90" y1="555.2" x2="1190.75" y2="2497.7" stroke="#a6a6a6" stroke-width="6" stroke-linecap="round"/>
<line x1="1864.85" y1="555.2" x2="1862.70" y2="2497.7" stroke="#a6a6a6" stroke-width="6" stroke-linecap="round"/>
<line x1="2536.80" y1="555.2" x2="2534.65" y2="2497.7" stroke="#a6a6a6" stroke-width="6" stroke-linecap="round"/>
<line x1="3208.75" y1="555.2" x2="3206.60" y2="2497.7" stroke="#a6a6a6" stroke-width="6" stroke-linecap="round"/>
<line x1="518.8" y1="2483.0" x2="3206.6" y2="2483.0" stroke="#a6a6a6" stroke-width="6"/>
<line x1="467" y1="2483.0" x2="518.8" y2="2483.0" stroke="#a6a6a6" stroke-width="6" stroke-linecap="round"/>
<line x1="467" y1="2192.8" x2="518.8" y2="2192.8" stroke="#a6a6a6" stroke-width="6" stroke-linecap="round"/>
<line x1="467" y1="1902.6" x2="518.8" y2="1902.6" stroke="#a6a6a6" stroke-width="6" stroke-linecap="round"/>
<line x1="467" y1="1612.4" x2="518.8" y2="1612.4" stroke="#a6a6a6" stroke-width="6" stroke-linecap="round"/>
<text x="635.76" y="208.60" font-size="74.50" textLength="2145.22" lengthAdjust="spacingAndGlyphs">Swan-Ganz Distal Tip Position and Expected Pressure Waveforms</text>
<text x="777.60" y="1469.50" font-size="63.20" textLength="144.93" lengthAdjust="spacingAndGlyphs">Right</text>
<text x="750.10" y="1537.00" font-size="63.20" textLength="201.41" lengthAdjust="spacingAndGlyphs">Atrium</text>
<text x="1457.60" y="1469.50" font-size="63.20" textLength="143.94" lengthAdjust="spacingAndGlyphs">Right</text>
<text x="1409.60" y="1537.00" font-size="63.20" textLength="244.90" lengthAdjust="spacingAndGlyphs">Ventricle</text>
<text x="2049.60" y="1470.00" font-size="63.20" textLength="301.93" lengthAdjust="spacingAndGlyphs">Pulmonary</text>
<text x="2107.09" y="1537.00" font-size="63.20" textLength="189.95" lengthAdjust="spacingAndGlyphs">Artery</text>
<text x="2613.59" y="1470.00" font-size="63.20" textLength="509.43" lengthAdjust="spacingAndGlyphs">Pulmonary Artery</text>
<text x="2651.10" y="1537.00" font-size="63.20" textLength="441.43" lengthAdjust="spacingAndGlyphs">Wedge Position</text>
<text x="819.83" y="2283.30" font-size="56.00" textLength="76.91" lengthAdjust="spacingAndGlyphs">0-8</text>
<text x="771.86" y="2339.70" font-size="53.50" textLength="175.33" lengthAdjust="spacingAndGlyphs">mm Hg</text>
<text x="1421.29" y="1720.30" font-size="56.00" textLength="220.98" lengthAdjust="spacingAndGlyphs">15-30/0-8</text>
<text x="1441.35" y="1777.00" font-size="53.50" textLength="175.32" lengthAdjust="spacingAndGlyphs">mm Hg</text>
<text x="2069.79" y="1720.30" font-size="56.00" textLength="249.96" lengthAdjust="spacingAndGlyphs">15-30/4-12</text>
<text x="2104.86" y="1777.00" font-size="53.50" textLength="174.81" lengthAdjust="spacingAndGlyphs">mm Hg</text>
<text x="2865.27" y="2042.40" font-size="56.00" textLength="49.51" lengthAdjust="spacingAndGlyphs">12</text>
<text x="2798.83" y="2099.00" font-size="53.50" textLength="175.87" lengthAdjust="spacingAndGlyphs">mm Hg</text>
<text x="383.39" y="1630.00" font-size="54.70" textLength="55.78" lengthAdjust="spacingAndGlyphs">30</text>
<text x="382.86" y="1920.00" font-size="54.70" textLength="57.82" lengthAdjust="spacingAndGlyphs">20</text>
<text x="386.30" y="2210.60" font-size="54.70" textLength="50.42" lengthAdjust="spacingAndGlyphs">10</text>
<text x="398.38" y="2495.20" font-size="54.70" textLength="27.79" lengthAdjust="spacingAndGlyphs">0</text>
<text x="487.98" y="2571.00" font-size="65.50" textLength="60.17" lengthAdjust="spacingAndGlyphs">10</text>
<text x="1157.55" y="2571.00" font-size="65.50" textLength="69.05" lengthAdjust="spacingAndGlyphs">20</text>
<text x="1828.07" y="2571.00" font-size="65.50" textLength="67.53" lengthAdjust="spacingAndGlyphs">30</text>
<text x="2499.05" y="2570.60" font-size="65.50" textLength="72.55" lengthAdjust="spacingAndGlyphs">40</text>
<text x="3172.53" y="2571.00" font-size="65.50" textLength="69.60" lengthAdjust="spacingAndGlyphs">50</text>
<text x="1232.08" y="2658.50" font-size="63.50" textLength="1254.98" lengthAdjust="spacingAndGlyphs">Distance Swan-Ganz Catheter Inserted (cm)</text>
<text x="727.48" y="774.00" font-size="50.00" textLength="34.52" lengthAdjust="spacingAndGlyphs">A</text>
<text x="663.02" y="866.40" font-size="50.00" textLength="64.98" lengthAdjust="spacingAndGlyphs">RA</text>
<text x="770.49" y="934.80" font-size="50.00" textLength="57.02" lengthAdjust="spacingAndGlyphs">PA</text>
<text x="923.02" y="857.20" font-size="50.00" textLength="59.00" lengthAdjust="spacingAndGlyphs">LA</text>
<text x="979.51" y="1098.30" font-size="50.00" textLength="50.51" lengthAdjust="spacingAndGlyphs">LV</text>
<text x="805.05" y="1167.10" font-size="50.00" textLength="57.46" lengthAdjust="spacingAndGlyphs">RV</text>
<text x="1404.99" y="773.80" font-size="50.00" textLength="31.07" lengthAdjust="spacingAndGlyphs">A</text>
<text x="1335.02" y="866.40" font-size="50.00" textLength="64.98" lengthAdjust="spacingAndGlyphs">RA</text>
<text x="1445.04" y="934.30" font-size="50.00" textLength="56.47" lengthAdjust="spacingAndGlyphs">PA</text>
<text x="1595.46" y="857.20" font-size="50.00" textLength="60.55" lengthAdjust="spacingAndGlyphs">LA</text>
<text x="1652.51" y="1097.00" font-size="50.00" textLength="49.99" lengthAdjust="spacingAndGlyphs">LV</text>
<text x="1494.98" y="1170.40" font-size="50.00" textLength="58.54" lengthAdjust="spacingAndGlyphs">RV</text>
<text x="2077.53" y="773.40" font-size="50.00" textLength="31.50" lengthAdjust="spacingAndGlyphs">A</text>
<text x="2003.02" y="867.30" font-size="50.00" textLength="64.98" lengthAdjust="spacingAndGlyphs">RA</text>
<text x="2115.98" y="934.00" font-size="50.00" textLength="57.02" lengthAdjust="spacingAndGlyphs">PA</text>
<text x="2267.02" y="857.20" font-size="50.00" textLength="59.00" lengthAdjust="spacingAndGlyphs">LA</text>
<text x="2323.51" y="1097.00" font-size="50.00" textLength="50.49" lengthAdjust="spacingAndGlyphs">LV</text>
<text x="2149.06" y="1170.50" font-size="50.00" textLength="57.46" lengthAdjust="spacingAndGlyphs">RV</text>
<text x="2742.53" y="773.20" font-size="50.00" textLength="31.99" lengthAdjust="spacingAndGlyphs">A</text>
<text x="2674.02" y="867.40" font-size="50.00" textLength="63.99" lengthAdjust="spacingAndGlyphs">RA</text>
<text x="2776.98" y="934.90" font-size="50.00" textLength="57.02" lengthAdjust="spacingAndGlyphs">PA</text>
<text x="2932.97" y="857.40" font-size="50.00" textLength="60.03" lengthAdjust="spacingAndGlyphs">LA</text>
<text x="2993.54" y="1097.30" font-size="50.00" textLength="50.47" lengthAdjust="spacingAndGlyphs">LV</text>
<text x="2817.02" y="1171.20" font-size="50.00" textLength="57.49" lengthAdjust="spacingAndGlyphs">RV</text>
<text x="-2306.60" y="0" font-size="63.5" textLength="513.90" lengthAdjust="spacingAndGlyphs" transform="translate(337.8 0) rotate(-90)">Pressure (mm Hg)</text>
<path d="M519.00 2417.60 C522.67 2420.40 525.77 2423.95 530.00 2426.00 C534.58 2428.21 540.62 2430.22 545.70 2430.00 C550.61 2429.79 555.62 2428.21 560.00 2425.00 C565.63 2420.88 569.50 2410.67 575.00 2405.00 C580.04 2399.80 585.91 2392.96 591.40 2391.90 C595.92 2391.03 600.54 2393.33 605.00 2396.00 C610.80 2399.47 616.05 2407.89 622.00 2413.00 C627.74 2417.92 634.15 2425.81 640.00 2426.20 C645.12 2426.54 650.73 2422.11 655.00 2418.00 C659.99 2413.20 662.53 2402.86 667.00 2398.00 C670.42 2394.28 674.17 2390.59 678.10 2390.00 C681.86 2389.43 686.08 2391.41 690.00 2394.00 C695.43 2397.59 700.47 2406.28 706.00 2412.00 C711.44 2417.63 716.98 2427.42 722.90 2428.10 C728.36 2428.72 735.13 2422.66 740.00 2418.00 C745.33 2412.89 748.24 2402.85 753.00 2398.00 C756.68 2394.25 760.59 2390.64 764.80 2390.00 C768.94 2389.37 773.76 2391.29 778.00 2394.00 C783.61 2397.59 788.61 2406.35 794.00 2412.00 C799.11 2417.35 803.99 2426.15 809.50 2427.10 C814.39 2427.95 820.30 2423.79 825.00 2420.00 C830.69 2415.42 833.95 2405.05 840.00 2400.00 C845.72 2395.22 853.76 2390.26 860.00 2390.00 C865.31 2389.78 870.38 2392.65 875.00 2396.00 C880.56 2400.04 884.87 2408.63 890.00 2414.00 C894.66 2418.89 899.43 2426.72 904.30 2427.10 C908.78 2427.45 913.71 2421.98 918.00 2418.00 C923.05 2413.31 926.91 2404.30 932.00 2400.00 C936.12 2396.52 940.77 2393.15 945.20 2392.90 C949.44 2392.66 953.96 2395.14 958.00 2398.00 C963.02 2401.55 967.14 2409.18 972.00 2414.00 C976.56 2418.52 981.34 2425.78 986.20 2426.20 C990.70 2426.59 995.71 2421.78 1000.00 2418.00 C1005.11 2413.49 1008.85 2404.48 1014.00 2400.00 C1018.35 2396.22 1023.08 2392.34 1028.10 2391.90 C1033.38 2391.44 1039.64 2394.83 1045.00 2398.00 C1051.02 2401.56 1056.31 2408.23 1062.00 2413.00 C1067.51 2417.61 1073.04 2425.83 1078.60 2426.20 C1083.71 2426.54 1089.30 2421.04 1094.00 2417.00 C1099.20 2412.53 1102.73 2404.59 1108.00 2400.00 C1112.91 2395.73 1118.79 2390.51 1124.30 2390.00 C1129.47 2389.52 1134.72 2392.87 1140.00 2396.00 C1146.60 2399.91 1153.92 2407.39 1160.00 2413.00 C1165.47 2418.04 1170.04 2424.84 1175.00 2428.00 C1178.69 2430.35 1182.27 2431.34 1186.00 2432.00 C1189.61 2432.64 1193.46 2432.52 1197.00 2432.00 C1200.45 2431.49 1203.91 2430.57 1207.00 2429.00 C1210.16 2427.40 1213.56 2425.35 1215.70 2422.40 C1218.05 2419.17 1218.73 2414.16 1220.00 2410.00 C1221.26 2405.89 1222.31 2402.59 1223.30 2397.60 C1224.76 2390.25 1225.86 2380.51 1227.00 2370.00 C1228.50 2356.09 1229.76 2342.04 1231.00 2321.40 C1233.16 2285.31 1234.84 2224.83 1236.60 2172.40 C1238.57 2113.79 1240.05 2042.74 1242.10 1986.20 C1243.82 1938.89 1244.03 1883.44 1247.70 1855.90 C1249.43 1842.89 1251.05 1827.87 1254.10 1827.50 C1256.83 1827.17 1261.22 1839.31 1264.50 1848.40 C1269.98 1863.58 1275.39 1890.20 1279.40 1911.70 C1283.49 1933.65 1285.60 1956.43 1288.70 1978.80 M1288.70 1978.80 C1291.80 2018.53 1294.79 2056.06 1298.00 2098.00 C1301.59 2144.87 1305.90 2199.62 1309.20 2246.90 C1312.20 2289.88 1314.50 2341.67 1317.10 2370.00 C1318.48 2384.99 1319.77 2395.64 1321.20 2404.30 C1322.08 2409.64 1322.15 2413.38 1323.93 2417.15 C1325.62 2420.75 1328.33 2424.41 1331.38 2426.56 C1334.26 2428.59 1338.16 2430.00 1341.55 2430.00 C1344.94 2430.00 1348.84 2428.59 1351.73 2426.56 C1354.77 2424.41 1357.48 2420.75 1359.17 2417.15 C1360.95 2413.38 1361.31 2409.65 1361.90 2404.30 C1362.85 2395.65 1362.05 2384.90 1362.20 2370.00 C1362.47 2342.13 1363.03 2289.56 1363.50 2250.00 C1363.96 2211.31 1364.08 2178.07 1365.00 2135.20 C1366.18 2080.60 1368.78 2000.41 1370.60 1949.00 C1371.89 1912.64 1372.18 1877.42 1374.40 1855.90 C1375.59 1844.37 1376.13 1829.86 1378.80 1829.50 C1381.59 1829.12 1387.48 1844.08 1391.10 1855.90 C1397.62 1877.16 1401.49 1914.26 1406.00 1949.00 C1411.69 1992.78 1415.93 2048.34 1420.90 2098.00 C1425.87 2147.64 1432.07 2199.59 1435.80 2246.90 C1439.19 2289.85 1440.35 2341.22 1442.90 2370.00 C1444.28 2385.60 1445.67 2397.25 1447.20 2406.00 C1448.09 2411.10 1448.20 2414.50 1449.99 2418.00 C1451.72 2421.40 1454.53 2424.78 1457.60 2426.78 C1460.57 2428.72 1464.53 2430.00 1468.00 2430.00 C1471.47 2430.00 1475.43 2428.72 1478.40 2426.78 C1481.47 2424.78 1484.28 2421.40 1486.01 2418.00 C1487.80 2414.50 1488.15 2411.11 1488.80 2406.00 C1489.91 2397.26 1489.53 2382.90 1489.70 2370.00 C1489.90 2355.01 1489.59 2343.49 1489.80 2321.40 C1490.24 2274.03 1491.84 2169.08 1493.50 2098.00 C1495.01 2033.08 1496.07 1960.96 1499.10 1911.70 C1501.10 1879.22 1500.89 1832.38 1506.60 1831.00 C1509.48 1830.30 1514.42 1840.39 1517.70 1848.40 C1523.52 1862.59 1527.12 1886.78 1531.20 1911.80 C1537.01 1947.42 1541.29 1997.33 1546.10 2042.30 C1551.24 2090.33 1555.86 2143.38 1561.00 2191.40 C1565.81 2236.34 1572.38 2288.92 1575.90 2321.80 C1578.04 2341.77 1579.01 2354.90 1580.70 2370.00 C1582.20 2383.43 1583.70 2399.11 1585.40 2408.00 C1586.34 2412.90 1586.50 2416.00 1588.33 2419.25 C1590.16 2422.49 1593.18 2425.61 1596.35 2427.49 C1599.50 2429.35 1603.65 2430.50 1607.30 2430.50 C1610.95 2430.50 1615.10 2429.35 1618.25 2427.49 C1621.42 2425.61 1624.44 2422.49 1626.27 2419.25 C1628.10 2416.00 1628.58 2412.91 1629.20 2408.00 C1630.33 2399.12 1629.14 2387.61 1629.10 2370.00 C1629.02 2329.88 1628.33 2237.52 1628.80 2172.70 C1629.26 2109.71 1630.13 2042.98 1631.80 1986.40 C1633.20 1939.03 1632.99 1880.60 1637.40 1855.90 C1639.21 1845.77 1640.86 1835.44 1644.10 1835.00 C1647.56 1834.52 1654.15 1846.79 1657.90 1855.90 C1663.56 1869.65 1665.55 1889.18 1669.10 1911.80 C1674.49 1946.13 1679.03 1998.81 1684.00 2042.30 C1688.97 2085.78 1694.23 2129.21 1698.90 2172.70 C1703.57 2216.18 1708.79 2266.90 1712.00 2303.20 C1714.29 2329.14 1715.05 2351.18 1717.10 2370.00 C1718.61 2383.87 1720.56 2397.24 1722.20 2406.00 C1723.16 2411.10 1723.22 2414.50 1725.01 2418.00 C1726.76 2421.40 1729.61 2424.78 1732.70 2426.78 C1735.70 2428.73 1739.70 2430.00 1743.20 2430.00 C1746.70 2430.00 1750.70 2428.73 1753.70 2426.78 C1756.79 2424.78 1759.64 2421.40 1761.39 2418.00 C1763.18 2414.50 1763.54 2411.11 1764.20 2406.00 C1765.32 2397.26 1764.85 2386.82 1765.10 2370.00 C1765.68 2330.63 1765.21 2237.52 1766.00 2172.70 C1766.77 2109.71 1767.92 2042.98 1769.70 1986.40 C1771.19 1939.03 1770.62 1881.20 1775.30 1855.90 C1777.29 1845.14 1779.50 1833.84 1782.80 1833.50 C1786.26 1833.15 1792.20 1846.38 1795.80 1855.90 C1801.14 1870.02 1803.79 1891.31 1807.00 1911.80 C1810.86 1936.45 1813.20 1966.47 1816.30 1993.80 M1816.30 1993.80 C1818.17 2001.27 1820.00 2006.32 1821.90 2016.20 C1825.50 2034.90 1828.95 2073.53 1833.10 2098.20 C1836.55 2118.67 1839.87 2138.52 1844.30 2154.10 C1847.61 2165.74 1850.34 2177.26 1855.40 2183.90 C1858.94 2188.54 1863.43 2190.62 1868.00 2193.00 C1872.62 2195.40 1878.03 2198.79 1883.00 2198.20 C1888.50 2197.55 1895.38 2192.97 1899.40 2187.70 C1904.18 2181.43 1905.31 2173.13 1907.60 2161.40 C1911.94 2139.19 1913.55 2098.12 1915.90 2062.90 C1918.62 2022.25 1920.27 1970.09 1922.40 1931.40 C1924.09 1900.82 1923.12 1866.55 1927.40 1849.30 C1929.50 1840.82 1932.65 1831.25 1935.60 1831.20 C1938.84 1831.15 1943.15 1843.89 1946.10 1852.60 C1950.24 1864.82 1952.44 1882.98 1955.30 1898.60 C1958.25 1914.73 1960.62 1934.09 1963.50 1947.90 C1965.62 1958.05 1967.90 1965.37 1970.10 1974.10 M1970.10 1974.10 C1972.27 1976.30 1973.85 1978.42 1976.60 1980.70 C1980.41 1983.85 1988.22 1987.29 1991.40 1990.60 C1993.48 1992.76 1994.25 1994.22 1995.40 1997.10 C1997.28 2001.80 1998.29 2009.14 1999.60 2016.90 C2001.44 2027.76 2002.62 2041.19 2004.60 2056.30 C2007.29 2076.78 2010.98 2107.70 2014.40 2128.60 C2017.04 2144.74 2018.94 2160.60 2022.60 2171.30 C2024.98 2178.26 2026.65 2183.19 2030.90 2187.70 C2035.63 2192.72 2043.87 2198.51 2050.60 2199.20 C2057.02 2199.86 2066.21 2195.89 2070.30 2192.60 C2073.07 2190.37 2073.85 2188.58 2075.20 2184.40 C2078.48 2174.28 2078.54 2151.14 2080.10 2128.60 C2082.48 2094.04 2084.42 2039.46 2086.70 1997.10 C2088.83 1957.48 2090.18 1912.06 2093.30 1882.10 C2095.32 1862.73 2095.55 1835.90 2100.50 1834.50 C2103.64 1833.61 2109.64 1842.35 2113.00 1849.30 C2118.41 1860.50 2120.10 1882.73 2122.90 1898.60 C2125.50 1913.31 2127.02 1928.21 2129.40 1941.30 C2131.44 1952.55 2133.80 1962.10 2136.00 1972.50 M2136.00 1972.50 C2142.57 1979.07 2152.09 1986.07 2155.70 1992.20 C2158.07 1996.22 2158.01 1998.31 2159.00 2003.70 C2161.20 2015.71 2162.05 2042.66 2163.90 2062.90 C2165.85 2084.24 2167.80 2108.31 2170.50 2128.60 C2172.85 2146.25 2173.18 2167.23 2178.70 2177.90 C2182.06 2184.41 2187.11 2188.29 2191.90 2191.00 C2195.98 2193.31 2200.32 2194.54 2205.00 2194.30 C2210.59 2194.01 2219.20 2192.31 2223.10 2187.70 C2227.70 2182.27 2226.53 2173.02 2228.00 2161.40 C2230.82 2139.08 2232.32 2098.10 2234.60 2062.90 C2237.23 2022.23 2239.85 1967.68 2242.80 1931.40 C2244.89 1905.72 2245.45 1882.34 2249.40 1865.70 C2251.94 1854.98 2255.41 1840.44 2259.20 1840.10 C2262.61 1839.79 2267.21 1851.10 2270.70 1859.10 C2275.83 1870.84 2280.01 1889.99 2283.90 1905.10 C2287.63 1919.57 2290.58 1934.24 2293.70 1947.90 C2296.56 1960.44 2299.17 1971.97 2301.90 1984.00 M2301.90 1984.00 C2307.93 1988.93 2315.62 1994.38 2320.00 1998.80 C2322.94 2001.76 2324.77 2002.91 2326.60 2007.00 C2330.17 2014.97 2330.88 2030.85 2333.10 2046.40 C2336.29 2068.79 2339.20 2104.75 2343.00 2128.60 C2345.96 2147.19 2348.86 2167.39 2352.80 2177.90 C2354.82 2183.30 2355.66 2186.12 2359.40 2189.40 C2364.87 2194.20 2377.22 2200.16 2385.70 2200.20 C2393.62 2200.24 2404.21 2196.90 2408.70 2191.00 C2413.62 2184.54 2411.09 2174.81 2412.00 2161.40 C2413.92 2133.23 2414.20 2073.80 2415.30 2030.00 C2416.40 1986.20 2415.82 1934.30 2418.60 1898.60 C2420.53 1873.88 2421.48 1837.40 2426.80 1836.10 C2429.81 1835.37 2434.83 1845.47 2438.30 1852.60 C2443.47 1863.22 2447.55 1881.00 2451.40 1895.30 C2455.21 1909.47 2457.97 1925.32 2461.30 1938.00 C2464.01 1948.33 2466.77 1956.60 2469.50 1965.90 M2469.50 1965.90 C2476.63 1972.47 2487.12 1980.04 2490.90 1985.60 C2492.99 1988.67 2493.08 1989.85 2494.10 1993.90 C2496.58 2003.77 2498.51 2026.93 2500.70 2046.40 C2503.44 2070.73 2505.73 2104.73 2508.90 2128.60 C2511.37 2147.17 2514.16 2166.54 2517.10 2177.90 C2518.71 2184.12 2520.43 2187.30 2522.10 2192.00 M2522.10 2192.00 C2527.17 2187.00 2532.25 2181.89 2537.30 2177.00 C2542.22 2172.23 2547.15 2167.57 2552.00 2163.00 C2556.71 2158.57 2561.40 2152.98 2566.00 2150.00 C2569.57 2147.69 2573.03 2145.88 2576.60 2145.50 C2580.03 2145.14 2583.10 2146.31 2587.00 2147.50 C2592.40 2149.15 2599.40 2152.88 2605.70 2155.50 C2612.07 2158.15 2618.97 2160.88 2625.00 2163.30 C2630.31 2165.44 2635.60 2166.85 2640.00 2169.30 C2643.91 2171.48 2646.70 2173.63 2650.30 2176.90 C2655.13 2181.28 2660.38 2189.60 2665.70 2194.00 C2670.14 2197.67 2674.82 2202.29 2679.40 2202.30 C2683.99 2202.31 2688.84 2197.94 2693.20 2194.00 C2698.71 2189.01 2703.86 2179.77 2708.60 2173.40 C2712.69 2167.90 2715.36 2162.07 2720.00 2158.00 C2724.53 2154.02 2730.57 2149.83 2736.00 2149.10 C2741.05 2148.42 2745.78 2150.67 2751.40 2152.90 C2759.08 2155.94 2769.44 2163.27 2777.20 2167.40 C2783.44 2170.72 2788.63 2173.02 2794.30 2176.00 C2800.03 2179.01 2805.40 2182.28 2811.40 2185.40 C2817.91 2188.78 2825.83 2195.48 2832.00 2195.50 C2837.03 2195.52 2841.42 2192.23 2845.70 2188.90 C2850.88 2184.86 2855.34 2177.33 2860.00 2171.80 C2864.43 2166.55 2868.77 2161.13 2873.00 2156.50 C2876.74 2152.40 2879.92 2147.87 2884.00 2145.30 C2887.67 2142.99 2891.72 2141.37 2896.00 2141.20 C2900.79 2141.01 2905.70 2143.15 2911.40 2145.10 C2918.97 2147.69 2928.57 2152.33 2937.10 2156.30 C2945.74 2160.32 2955.37 2164.45 2962.90 2169.10 C2969.39 2173.11 2974.30 2177.70 2980.00 2182.00 C2985.70 2186.30 2992.00 2192.49 2997.10 2194.90 C3000.54 2196.53 3003.41 2197.68 3006.60 2197.20 C3010.27 2196.65 3013.93 2193.94 3017.70 2190.60 C3023.27 2185.66 3029.54 2174.62 3034.90 2168.30 C3039.14 2163.30 3043.20 2158.00 3046.90 2155.40 C3049.29 2153.72 3051.09 2152.60 3053.70 2152.50 C3057.12 2152.37 3061.28 2155.56 3065.70 2156.60 C3070.87 2157.82 3076.58 2158.27 3082.90 2158.90 C3090.60 2159.67 3101.41 2159.48 3108.60 2160.60 C3113.92 2161.43 3118.09 2161.94 3122.30 2164.00 C3126.68 2166.14 3130.39 2169.52 3134.30 2173.40 C3139.00 2178.06 3143.82 2187.51 3148.00 2190.60 C3150.43 2192.39 3152.05 2193.10 3154.90 2193.30 C3159.29 2193.60 3165.88 2189.69 3172.00 2189.20 C3178.90 2188.65 3187.91 2191.08 3194.30 2190.90 C3199.13 2190.76 3202.77 2189.77 3207.00 2189.20" fill="none" stroke="#000" stroke-width="5.2" stroke-linecap="round" stroke-linejoin="round"/>
</svg></body></html>
